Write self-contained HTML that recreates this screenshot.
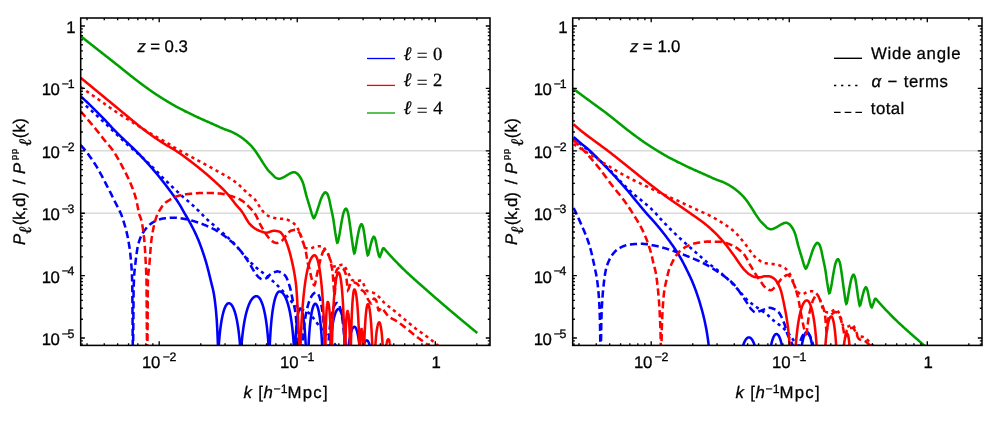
<!DOCTYPE html>
<html><head><meta charset="utf-8"><title>Multipole ratios</title>
<style>
html,body{margin:0;padding:0;background:#fff;}
svg{display:block;will-change:transform;filter:blur(0.35px);}
text{font-family:"Liberation Sans",sans-serif;fill:#000;text-rendering:geometricPrecision;stroke:#000;stroke-width:0.28px;}
.ser,.ser tspan{font-family:"Liberation Serif",serif;}
tspan.ser{font-family:"Liberation Serif",serif;}
</style></head>
<body>
<svg width="995" height="425" viewBox="0 0 995 425">
<defs><clipPath id="clip"><rect x="79.5" y="18.0" width="410.5" height="327.4"/></clipPath></defs>
<rect width="995" height="425" fill="#fff"/>
<g>
<path d="M80.7 150.80 H490.0" stroke="#dadada" stroke-width="1.4"/>
<path d="M80.7 213.20 H490.0" stroke="#dadada" stroke-width="1.4"/>
<g fill="none" stroke-width="2.55" clip-path="url(#clip)">
<path d="M80.60 36.10 L81.10 36.49 L81.60 36.89 L82.10 37.28 L82.60 37.68 L83.10 38.07 L83.60 38.47 L84.10 38.86 L84.60 39.25 L85.10 39.65 L85.60 40.04 L86.10 40.44 L86.60 40.83 L87.10 41.23 L87.60 41.62 L88.10 42.01 L88.60 42.41 L89.10 42.80 L89.60 43.20 L90.10 43.59 L90.61 43.98 L91.11 44.38 L91.61 44.77 L92.11 45.16 L92.61 45.56 L93.11 45.95 L93.61 46.34 L94.11 46.74 L94.61 47.13 L95.11 47.53 L95.61 47.92 L96.11 48.31 L96.61 48.71 L97.11 49.10 L97.61 49.49 L98.11 49.89 L98.61 50.28 L99.11 50.67 L99.61 51.06 L100.11 51.46 L100.61 51.85 L101.11 52.24 L101.61 52.63 L102.11 53.03 L102.61 53.42 L103.11 53.81 L103.61 54.20 L104.11 54.59 L104.61 54.98 L105.11 55.38 L105.61 55.77 L106.11 56.16 L106.61 56.55 L107.11 56.94 L107.61 57.34 L108.11 57.73 L108.61 58.12 L109.11 58.51 L109.61 58.90 L110.11 59.30 L110.62 59.69 L111.12 60.08 L111.62 60.48 L112.12 60.87 L112.62 61.26 L113.12 61.66 L113.62 62.05 L114.12 62.44 L114.62 62.84 L115.12 63.23 L115.62 63.63 L116.12 64.03 L116.62 64.42 L117.12 64.82 L117.62 65.22 L118.12 65.62 L118.62 66.02 L119.12 66.42 L119.62 66.82 L120.12 67.22 L120.62 67.62 L121.12 68.03 L121.62 68.43 L122.12 68.83 L122.62 69.23 L123.12 69.64 L123.62 70.04 L124.12 70.44 L124.62 70.84 L125.12 71.25 L125.62 71.65 L126.12 72.05 L126.62 72.45 L127.12 72.85 L127.62 73.25 L128.12 73.65 L128.62 74.05 L129.12 74.45 L129.62 74.85 L130.12 75.25 L130.63 75.64 L131.13 76.04 L131.63 76.43 L132.13 76.83 L132.63 77.22 L133.13 77.61 L133.63 78.00 L134.13 78.39 L134.63 78.78 L135.13 79.17 L135.63 79.55 L136.13 79.94 L136.63 80.32 L137.13 80.71 L137.63 81.09 L138.13 81.47 L138.63 81.85 L139.13 82.23 L139.63 82.61 L140.13 82.99 L140.63 83.37 L141.13 83.74 L141.63 84.12 L142.13 84.49 L142.63 84.86 L143.13 85.23 L143.63 85.60 L144.13 85.97 L144.63 86.33 L145.13 86.70 L145.63 87.06 L146.13 87.42 L146.63 87.78 L147.13 88.14 L147.63 88.50 L148.13 88.86 L148.63 89.22 L149.13 89.57 L149.63 89.93 L150.14 90.28 L150.64 90.64 L151.14 90.99 L151.64 91.33 L152.14 91.68 L152.64 92.03 L153.14 92.37 L153.64 92.71 L154.14 93.05 L154.64 93.39 L155.14 93.72 L155.64 94.06 L156.14 94.39 L156.64 94.72 L157.14 95.05 L157.64 95.37 L158.14 95.69 L158.64 96.02 L159.14 96.34 L159.64 96.66 L160.14 96.97 L160.64 97.29 L161.14 97.60 L161.64 97.92 L162.14 98.23 L162.64 98.54 L163.14 98.85 L163.64 99.16 L164.14 99.47 L164.64 99.77 L165.14 100.08 L165.64 100.39 L166.14 100.69 L166.64 101.00 L167.14 101.30 L167.64 101.61 L168.14 101.91 L168.64 102.21 L169.14 102.52 L169.64 102.82 L170.15 103.12 L170.65 103.42 L171.15 103.71 L171.65 104.01 L172.15 104.30 L172.65 104.59 L173.15 104.88 L173.65 105.16 L174.15 105.45 L174.65 105.73 L175.15 106.01 L175.65 106.28 L176.15 106.55 L176.65 106.82 L177.15 107.09 L177.65 107.36 L178.15 107.63 L178.65 107.90 L179.15 108.16 L179.65 108.42 L180.15 108.68 L180.65 108.95 L181.15 109.20 L181.65 109.46 L182.15 109.72 L182.65 109.97 L183.15 110.23 L183.65 110.48 L184.15 110.74 L184.65 110.99 L185.15 111.24 L185.65 111.49 L186.15 111.74 L186.65 111.98 L187.15 112.23 L187.65 112.48 L188.15 112.72 L188.65 112.97 L189.15 113.21 L189.65 113.45 L190.16 113.70 L190.66 113.94 L191.16 114.18 L191.66 114.42 L192.16 114.66 L192.66 114.90 L193.16 115.14 L193.66 115.38 L194.16 115.62 L194.66 115.85 L195.16 116.09 L195.66 116.33 L196.16 116.56 L196.66 116.80 L197.16 117.03 L197.66 117.26 L198.16 117.50 L198.66 117.73 L199.16 117.96 L199.66 118.19 L200.16 118.41 L200.66 118.64 L201.16 118.87 L201.66 119.09 L202.16 119.32 L202.66 119.54 L203.16 119.76 L203.66 119.99 L204.16 120.21 L204.66 120.43 L205.16 120.65 L205.66 120.87 L206.16 121.09 L206.66 121.31 L207.16 121.53 L207.66 121.75 L208.16 121.97 L208.66 122.19 L209.16 122.41 L209.67 122.63 L210.17 122.85 L210.67 123.07 L211.17 123.29 L211.67 123.51 L212.17 123.73 L212.67 123.95 L213.17 124.18 L213.67 124.40 L214.17 124.62 L214.67 124.84 L215.17 125.06 L215.67 125.29 L216.17 125.51 L216.67 125.74 L217.17 125.96 L217.67 126.19 L218.17 126.42 L218.67 126.65 L219.17 126.88 L219.67 127.11 L220.17 127.34 L220.67 127.56 L221.17 127.79 L221.67 128.01 L222.17 128.23 L222.67 128.44 L223.17 128.66 L223.67 128.87 L224.17 129.07 L224.67 129.27 L225.17 129.46 L225.67 129.64 L226.17 129.82 L226.67 129.99 L227.17 130.17 L227.67 130.34 L228.17 130.52 L228.67 130.69 L229.17 130.87 L229.68 131.05 L230.18 131.24 L230.68 131.44 L231.18 131.64 L231.68 131.86 L232.18 132.08 L232.68 132.31 L233.18 132.55 L233.68 132.80 L234.18 133.05 L234.68 133.31 L235.18 133.58 L235.68 133.86 L236.18 134.14 L236.68 134.42 L237.18 134.72 L237.68 135.02 L238.18 135.32 L238.68 135.63 L239.18 135.95 L239.68 136.27 L240.18 136.60 L240.68 136.93 L241.18 137.27 L241.68 137.62 L242.18 137.97 L242.68 138.33 L243.18 138.70 L243.68 139.09 L244.18 139.48 L244.68 139.88 L245.18 140.29 L245.68 140.71 L246.18 141.14 L246.68 141.58 L247.18 142.03 L247.68 142.49 L248.18 142.95 L248.68 143.42 L249.18 143.90 L249.69 144.39 L250.19 144.88 L250.69 145.40 L251.19 145.93 L251.69 146.47 L252.19 147.04 L252.69 147.62 L253.19 148.22 L253.69 148.83 L254.19 149.47 L254.69 150.13 L255.19 150.82 L255.69 151.53 L256.19 152.26 L256.69 153.00 L257.19 153.75 L257.69 154.51 L258.19 155.27 L258.69 156.03 L259.19 156.79 L259.69 157.56 L260.19 158.35 L260.69 159.14 L261.19 159.95 L261.69 160.75 L262.19 161.55 L262.69 162.35 L263.19 163.13 L263.69 163.89 L264.19 164.64 L264.69 165.38 L265.19 166.13 L265.69 166.87 L266.19 167.60 L266.69 168.30 L267.19 168.98 L267.69 169.62 L268.19 170.23 L268.69 170.81 L269.20 171.37 L269.70 171.90 L270.20 172.42 L270.70 172.92 L271.20 173.42 L271.70 173.91 L272.20 174.39 L272.70 174.90 L273.20 175.43 L273.70 175.95 L274.20 176.45 L274.70 176.91 L275.20 177.31 L275.70 177.64 L276.20 177.89 L276.70 178.12 L277.20 178.34 L277.70 178.53 L278.20 178.68 L278.70 178.78 L279.20 178.80 L279.70 178.75 L280.20 178.64 L280.70 178.48 L281.20 178.29 L281.70 178.08 L282.20 177.85 L282.70 177.63 L283.20 177.41 L283.70 177.18 L284.20 176.91 L284.70 176.63 L285.20 176.33 L285.70 176.03 L286.20 175.73 L286.70 175.43 L287.20 175.14 L287.70 174.84 L288.20 174.53 L288.70 174.21 L289.21 173.90 L289.71 173.61 L290.21 173.34 L290.71 173.11 L291.21 172.93 L291.71 172.75 L292.21 172.57 L292.71 172.42 L293.21 172.30 L293.71 172.22 L294.21 172.20 L294.71 172.28 L295.21 172.46 L295.71 172.70 L296.21 172.99 L296.71 173.31 L297.21 173.64 L297.71 174.06 L298.21 174.56 L298.71 175.14 L299.21 175.79 L299.71 176.48 L300.21 177.22 L300.71 178.02 L301.21 178.92 L301.71 179.93 L302.21 181.04 L302.71 182.25 L303.21 183.60 L303.71 185.22 L304.21 187.09 L304.71 189.10 L305.21 191.16 L305.71 193.18 L306.21 195.05 L306.71 196.80 L307.21 198.51 L307.71 200.19 L308.21 201.85 L308.72 203.50 L309.22 205.14 L309.72 206.79 L310.22 208.45 L310.72 210.21 L311.22 211.99 L311.72 213.61 L312.22 214.97 L312.72 216.35 L313.22 217.51 L313.72 218.09 L314.22 217.84 L314.72 216.99 L315.22 215.81 L315.72 214.59 L316.22 213.37 L316.72 211.97 L317.22 210.44 L317.72 208.87 L318.22 207.34 L318.72 205.84 L319.22 204.28 L319.72 202.72 L320.22 201.20 L320.72 199.77 L321.22 198.49 L321.72 197.33 L322.22 196.23 L322.72 195.23 L323.22 194.38 L323.72 193.71 L324.22 193.07 L324.72 192.55 L325.22 192.31 L325.72 192.40 L326.22 192.73 L326.72 193.20 L327.22 193.80 L327.72 194.81 L328.22 196.17 L328.73 197.73 L329.23 199.48 L329.73 201.68 L330.23 204.15 L330.73 206.67 L331.23 209.06 L331.73 211.34 L332.23 213.64 L332.73 216.06 L333.23 218.69 L333.73 221.77 L334.23 225.33 L334.73 229.00 L335.23 232.40 L335.73 235.32 L336.23 238.41 L336.73 241.12 L337.23 242.68 L337.73 242.42 L338.23 240.74 L338.73 238.32 L339.23 235.86 L339.73 233.22 L340.23 230.16 L340.73 226.98 L341.23 224.01 L341.73 221.34 L342.23 218.62 L342.73 216.03 L343.23 213.80 L343.73 212.16 L344.23 211.01 L344.73 209.97 L345.23 209.15 L345.73 208.67 L346.23 208.68 L346.73 209.33 L347.23 210.44 L347.73 211.81 L348.23 213.77 L348.74 216.72 L349.24 220.04 L349.74 223.34 L350.24 226.99 L350.74 230.84 L351.24 234.68 L351.74 238.27 L352.24 241.57 L352.74 245.22 L353.24 248.78 L353.74 251.65 L354.24 253.19 L354.74 252.74 L355.24 250.44 L355.74 247.44 L356.24 244.74 L356.74 241.84 L357.24 238.83 L357.74 236.01 L358.24 233.50 L358.74 231.03 L359.24 228.82 L359.74 227.15 L360.24 225.93 L360.74 224.86 L361.24 224.20 L361.74 224.21 L362.24 225.00 L362.74 226.27 L363.24 227.86 L363.74 230.44 L364.24 233.58 L364.74 236.80 L365.24 240.53 L365.74 244.35 L366.24 247.68 L366.74 250.66 L367.24 253.51 L367.74 255.18 L368.25 254.82 L368.75 252.93 L369.25 250.62 L369.75 248.64 L370.25 246.57 L370.75 244.52 L371.25 242.68 L371.75 240.89 L372.25 239.31 L372.75 238.23 L373.25 237.36 L373.75 236.84 L374.25 237.02 L374.75 237.92 L375.25 239.13 L375.75 241.03 L376.25 243.56 L376.75 246.01 L377.25 248.59 L377.75 251.12 L378.25 253.18 L378.75 255.05 L379.25 256.52 L379.75 256.84 L380.25 255.96 L380.75 254.61 L381.25 253.38 L381.75 251.86 L382.25 250.28 L382.75 248.96 L383.25 248.24 L383.75 248.29 L384.25 248.66 L384.75 249.22 L385.25 249.88 L385.75 250.52 L386.25 251.07 L386.75 251.62 L387.25 252.18 L387.75 252.75 L388.26 253.33 L388.76 253.91 L389.26 254.47 L389.76 255.03 L390.26 255.58 L390.76 256.12 L391.26 256.66 L391.76 257.19 L392.26 257.73 L392.76 258.26 L393.26 258.79 L393.76 259.32 L394.26 259.85 L394.76 260.37 L395.26 260.90 L395.76 261.42 L396.26 261.94 L396.76 262.46 L397.26 262.97 L397.76 263.48 L398.26 263.99 L398.76 264.50 L399.26 265.01 L399.76 265.51 L400.26 266.01 L400.76 266.51 L401.26 267.01 L401.76 267.50 L402.26 267.99 L402.76 268.48 L403.26 268.97 L403.76 269.45 L404.26 269.94 L404.76 270.42 L405.26 270.89 L405.76 271.37 L406.26 271.84 L406.76 272.31 L407.26 272.78 L407.76 273.25 L408.27 273.71 L408.77 274.18 L409.27 274.64 L409.77 275.10 L410.27 275.56 L410.77 276.02 L411.27 276.47 L411.77 276.93 L412.27 277.38 L412.77 277.83 L413.27 278.28 L413.77 278.73 L414.27 279.18 L414.77 279.63 L415.27 280.07 L415.77 280.52 L416.27 280.96 L416.77 281.41 L417.27 281.85 L417.77 282.29 L418.27 282.73 L418.77 283.18 L419.27 283.62 L419.77 284.06 L420.27 284.50 L420.77 284.94 L421.27 285.38 L421.77 285.82 L422.27 286.25 L422.77 286.69 L423.27 287.13 L423.77 287.57 L424.27 288.01 L424.77 288.45 L425.27 288.89 L425.77 289.33 L426.27 289.77 L426.77 290.21 L427.27 290.65 L427.78 291.10 L428.28 291.54 L428.78 291.98 L429.28 292.42 L429.78 292.86 L430.28 293.29 L430.78 293.73 L431.28 294.17 L431.78 294.61 L432.28 295.05 L432.78 295.48 L433.28 295.92 L433.78 296.36 L434.28 296.79 L434.78 297.23 L435.28 297.66 L435.78 298.10 L436.28 298.53 L436.78 298.96 L437.28 299.40 L437.78 299.83 L438.28 300.26 L438.78 300.69 L439.28 301.12 L439.78 301.56 L440.28 301.99 L440.78 302.42 L441.28 302.85 L441.78 303.28 L442.28 303.71 L442.78 304.14 L443.28 304.56 L443.78 304.99 L444.28 305.42 L444.78 305.85 L445.28 306.28 L445.78 306.70 L446.28 307.13 L446.78 307.56 L447.28 307.98 L447.79 308.41 L448.29 308.83 L448.79 309.26 L449.29 309.69 L449.79 310.11 L450.29 310.53 L450.79 310.96 L451.29 311.38 L451.79 311.81 L452.29 312.23 L452.79 312.65 L453.29 313.07 L453.79 313.50 L454.29 313.92 L454.79 314.34 L455.29 314.76 L455.79 315.18 L456.29 315.60 L456.79 316.02 L457.29 316.44 L457.79 316.86 L458.29 317.28 L458.79 317.70 L459.29 318.12 L459.79 318.54 L460.29 318.96 L460.79 319.38 L461.29 319.80 L461.79 320.21 L462.29 320.63 L462.79 321.05 L463.29 321.46 L463.79 321.88 L464.29 322.30 L464.79 322.71 L465.29 323.13 L465.79 323.54 L466.29 323.96 L466.79 324.37 L467.29 324.79 L467.80 325.20 L468.30 325.61 L468.80 326.03 L469.30 326.44 L469.80 326.85 L470.30 327.26 L470.80 327.68 L471.30 328.09 L471.80 328.50 L472.30 328.91 L472.80 329.32 L473.30 329.73 L473.80 330.14 L474.30 330.55 L474.80 330.96 L475.30 331.37 L475.80 331.78 L476.30 332.18 L476.80 332.59 L477.30 333.00" stroke="#00a000"/>
<path d="M80.60 145.10 L81.10 145.63 L81.60 146.17 L82.11 146.72 L82.61 147.28 L83.11 147.85 L83.61 148.43 L84.11 149.03 L84.62 149.63 L85.12 150.24 L85.62 150.87 L86.12 151.50 L86.62 152.14 L87.12 152.79 L87.63 153.45 L88.13 154.12 L88.63 154.80 L89.13 155.48 L89.63 156.18 L90.14 156.88 L90.64 157.59 L91.14 158.30 L91.64 159.03 L92.14 159.76 L92.65 160.50 L93.15 161.24 L93.65 161.99 L94.15 162.75 L94.65 163.52 L95.16 164.29 L95.66 165.07 L96.16 165.87 L96.66 166.70 L97.16 167.54 L97.67 168.39 L98.17 169.26 L98.67 170.15 L99.17 171.04 L99.67 171.95 L100.18 172.87 L100.68 173.80 L101.18 174.74 L101.68 175.69 L102.18 176.64 L102.68 177.60 L103.19 178.57 L103.69 179.53 L104.19 180.50 L104.69 181.47 L105.19 182.44 L105.70 183.41 L106.20 184.38 L106.70 185.34 L107.20 186.30 L107.70 187.27 L108.21 188.24 L108.71 189.21 L109.21 190.20 L109.71 191.19 L110.21 192.18 L110.72 193.18 L111.22 194.18 L111.72 195.19 L112.22 196.20 L112.72 197.21 L113.23 198.22 L113.73 199.23 L114.23 200.24 L114.73 201.26 L115.23 202.27 L115.73 203.26 L116.24 204.23 L116.74 205.19 L117.24 206.14 L117.74 207.10 L118.24 208.06 L118.75 209.05 L119.25 210.06 L119.75 211.11 L120.25 212.20 L120.75 213.34 L121.26 214.54 L121.76 215.83 L122.26 217.22 L122.76 218.72 L123.26 220.31 L123.77 221.93 L124.27 223.57 L124.77 225.25 L125.27 226.99 L125.77 228.82 L126.28 230.77 L126.78 232.84 L127.28 235.07 L127.78 237.49 L128.28 240.11 L128.78 242.93 L129.29 246.03 L129.79 249.57 L130.29 253.68 L130.79 258.52 L131.29 264.23 L131.80 271.06 L132.30 284.33 L132.80 352.00 M133.10 352.00 L133.60 289.17 L134.10 276.11 L134.60 270.01 L135.10 265.94 L135.61 261.59 L136.11 257.41 L136.61 253.60 L137.11 250.21 L137.61 247.30 L138.11 244.93 L138.61 243.08 L139.11 241.41 L139.62 239.89 L140.12 238.51 L140.62 237.25 L141.12 236.11 L141.62 235.07 L142.12 234.12 L142.62 233.26 L143.12 232.46 L143.63 231.72 L144.13 231.01 L144.63 230.32 L145.13 229.65 L145.63 229.01 L146.13 228.39 L146.63 227.80 L147.13 227.23 L147.64 226.69 L148.14 226.16 L148.64 225.67 L149.14 225.19 L149.64 224.74 L150.14 224.31 L150.64 223.91 L151.14 223.53 L151.64 223.17 L152.15 222.84 L152.65 222.52 L153.15 222.24 L153.65 221.97 L154.15 221.71 L154.65 221.46 L155.15 221.21 L155.65 220.97 L156.16 220.74 L156.66 220.51 L157.16 220.30 L157.66 220.09 L158.16 219.89 L158.66 219.70 L159.16 219.53 L159.66 219.36 L160.17 219.20 L160.67 219.06 L161.17 218.93 L161.67 218.81 L162.17 218.70 L162.67 218.61 L163.17 218.53 L163.67 218.46 L164.18 218.40 L164.68 218.34 L165.18 218.28 L165.68 218.22 L166.18 218.16 L166.68 218.11 L167.18 218.06 L167.68 218.01 L168.19 217.96 L168.69 217.92 L169.19 217.88 L169.69 217.84 L170.19 217.81 L170.69 217.78 L171.19 217.75 L171.69 217.73 L172.19 217.72 L172.70 217.71 L173.20 217.70 L173.70 217.70 L174.20 217.71 L174.70 217.72 L175.20 217.74 L175.70 217.77 L176.20 217.80 L176.71 217.84 L177.21 217.89 L177.71 217.93 L178.21 217.99 L178.71 218.05 L179.21 218.11 L179.71 218.18 L180.21 218.24 L180.72 218.32 L181.22 218.39 L181.72 218.47 L182.22 218.55 L182.72 218.63 L183.22 218.71 L183.72 218.79 L184.22 218.87 L184.73 218.96 L185.23 219.04 L185.73 219.12 L186.23 219.21 L186.73 219.30 L187.23 219.40 L187.73 219.50 L188.23 219.62 L188.73 219.73 L189.24 219.85 L189.74 219.98 L190.24 220.11 L190.74 220.25 L191.24 220.38 L191.74 220.53 L192.24 220.67 L192.74 220.83 L193.25 220.98 L193.75 221.14 L194.25 221.29 L194.75 221.46 L195.25 221.62 L195.75 221.79 L196.25 221.95 L196.75 222.12 L197.26 222.29 L197.76 222.47 L198.26 222.64 L198.76 222.81 L199.26 222.98 L199.76 223.16 L200.26 223.33 L200.76 223.51 L201.27 223.69 L201.77 223.87 L202.27 224.06 L202.77 224.25 L203.27 224.44 L203.77 224.64 L204.27 224.83 L204.77 225.03 L205.28 225.24 L205.78 225.44 L206.28 225.65 L206.78 225.87 L207.28 226.08 L207.78 226.30 L208.28 226.52 L208.78 226.75 L209.28 226.98 L209.79 227.21 L210.29 227.45 L210.79 227.68 L211.29 227.93 L211.79 228.17 L212.29 228.42 L212.79 228.67 L213.29 228.93 L213.80 229.18 L214.30 229.45 L214.80 229.71 L215.30 229.98 L215.80 230.26 L216.30 230.53 L216.80 230.82 L217.30 231.11 L217.81 231.41 L218.31 231.72 L218.81 232.03 L219.31 232.35 L219.81 232.67 L220.31 233.00 L220.81 233.34 L221.31 233.68 L221.82 234.03 L222.32 234.38 L222.82 234.74 L223.32 235.10 L223.82 235.47 L224.32 235.84 L224.82 236.22 L225.32 236.60 L225.82 236.99 L226.33 237.38 L226.83 237.78 L227.33 238.17 L227.83 238.58 L228.33 238.99 L228.83 239.40 L229.33 239.81 L229.83 240.23 L230.34 240.65 L230.84 241.08 L231.34 241.51 L231.84 241.96 L232.34 242.40 L232.84 242.86 L233.34 243.32 L233.84 243.79 L234.35 244.26 L234.85 244.74 L235.35 245.23 L235.85 245.73 L236.35 246.24 L236.85 246.75 L237.35 247.27 L237.85 247.80 L238.36 248.34 L238.86 248.89 L239.36 249.45 L239.86 250.02 L240.36 250.59 L240.86 251.18 L241.36 251.77 L241.86 252.38 L242.37 253.00 L242.87 253.66 L243.37 254.33 L243.87 255.03 L244.37 255.75 L244.87 256.49 L245.37 257.23 L245.87 258.00 L246.37 258.77 L246.88 259.55 L247.38 260.34 L247.88 261.13 L248.38 261.92 L248.88 262.71 L249.38 263.49 L249.88 264.27 L250.38 265.07 L250.89 265.89 L251.39 266.73 L251.89 267.59 L252.39 268.46 L252.89 269.32 L253.39 270.17 L253.89 271.00 L254.39 271.81 L254.90 272.58 L255.40 273.32 L255.90 274.00 L256.40 274.65 L256.90 275.30 L257.40 275.92 L257.90 276.50 L258.40 277.01 L258.91 277.43 L259.41 277.79 L259.91 278.15 L260.41 278.50 L260.91 278.80 L261.41 279.05 L261.91 279.22 L262.41 279.30 L262.91 279.28 L263.42 279.21 L263.92 279.09 L264.42 278.93 L264.92 278.75 L265.42 278.55 L265.92 278.33 L266.42 278.07 L266.92 277.69 L267.43 277.23 L267.93 276.72 L268.43 276.18 L268.93 275.64 L269.43 275.15 L269.93 274.72 L270.43 274.37 L270.93 274.04 L271.44 273.71 L271.94 273.41 L272.44 273.12 L272.94 272.86 L273.44 272.63 L273.94 272.42 L274.44 272.23 L274.94 272.04 L275.45 271.85 L275.95 271.69 L276.45 271.55 L276.95 271.45 L277.45 271.40 L277.95 271.42 L278.45 271.50 L278.95 271.64 L279.46 271.82 L279.96 272.03 L280.46 272.26 L280.96 272.48 L281.46 272.71 L281.96 272.98 L282.46 273.27 L282.96 273.60 L283.46 273.97 L283.97 274.38 L284.47 274.84 L284.97 275.36 L285.47 275.96 L285.97 276.74 L286.47 277.67 L286.97 278.76 L287.47 279.97 L287.98 281.29 L288.48 282.71 L288.98 284.21 L289.48 285.77 L289.98 287.41 L290.48 289.36 L290.98 291.61 L291.48 294.04 L291.99 296.54 L292.49 298.99 L292.99 301.27 L293.49 303.27 L293.99 305.22 L294.49 307.36 L294.99 309.92 L295.49 313.16 L296.00 317.87 L296.50 324.49 L297.00 332.63 L297.50 341.93 L298.00 352.00 M302.00 351.40 L302.24 347.34 L302.48 343.72 L302.72 340.45 L302.96 337.48 L303.20 334.76 L303.44 332.25 L303.68 329.92 L303.93 327.76 L304.17 325.74 L304.41 323.85 L304.65 322.07 L304.89 320.40 L305.13 318.82 L305.37 317.33 L305.61 315.92 L305.85 314.58 L306.09 313.31 L306.33 312.10 L306.57 310.95 L306.81 309.85 L307.05 308.81 L307.29 307.81 L307.54 306.87 L307.78 305.96 L308.02 305.10 L308.26 304.27 L308.50 303.49 L308.74 302.74 L308.98 302.02 L309.22 301.34 L309.46 300.69 L309.70 300.07 L309.94 299.48 L310.18 298.92 L310.42 298.39 L310.66 297.88 L310.91 297.40 L311.15 296.94 L311.39 296.51 L311.63 296.11 L311.87 295.73 L312.11 295.37 L312.35 295.03 L312.59 294.72 L312.83 294.43 L313.07 294.16 L313.31 293.91 L313.55 293.68 L313.79 293.48 L314.03 293.29 L314.27 293.12 L314.52 292.98 L314.76 292.85 L315.00 292.74 L315.24 292.65 L315.48 292.59 L315.72 292.54 L315.96 292.51 L316.20 292.50 L316.35 292.51 L316.51 292.54 L316.66 292.59 L316.81 292.65 L316.96 292.74 L317.12 292.85 L317.27 292.98 L317.42 293.12 L317.57 293.29 L317.73 293.48 L317.88 293.68 L318.03 293.91 L318.18 294.16 L318.34 294.43 L318.49 294.72 L318.64 295.03 L318.79 295.37 L318.95 295.73 L319.10 296.11 L319.25 296.51 L319.40 296.94 L319.56 297.40 L319.71 297.88 L319.86 298.39 L320.01 298.92 L320.17 299.48 L320.32 300.07 L320.47 300.69 L320.62 301.34 L320.78 302.02 L320.93 302.74 L321.08 303.49 L321.23 304.27 L321.39 305.10 L321.54 305.96 L321.69 306.87 L321.84 307.81 L322.00 308.81 L322.15 309.85 L322.30 310.95 L322.45 312.10 L322.61 313.31 L322.76 314.58 L322.91 315.92 L323.06 317.33 L323.22 318.82 L323.37 320.40 L323.52 322.07 L323.67 323.85 L323.83 325.74 L323.98 327.76 L324.13 329.92 L324.28 332.25 L324.44 334.76 L324.59 337.48 L324.74 340.45 L324.89 343.72 L325.05 347.34 L325.20 351.40 M328.00 351.40 L328.15 348.53 L328.31 345.89 L328.46 343.45 L328.61 341.19 L328.76 339.08 L328.92 337.10 L329.07 335.25 L329.22 333.50 L329.37 331.86 L329.53 330.30 L329.68 328.83 L329.83 327.43 L329.98 326.11 L330.14 324.85 L330.29 323.65 L330.44 322.50 L330.59 321.41 L330.75 320.37 L330.90 319.37 L331.05 318.42 L331.20 317.51 L331.36 316.65 L331.51 315.82 L331.66 315.02 L331.81 314.26 L331.97 313.53 L332.12 312.84 L332.27 312.18 L332.42 311.54 L332.58 310.94 L332.73 310.36 L332.88 309.80 L333.03 309.28 L333.19 308.78 L333.34 308.30 L333.49 307.85 L333.64 307.42 L333.80 307.01 L333.95 306.62 L334.10 306.26 L334.25 305.91 L334.41 305.59 L334.56 305.29 L334.71 305.01 L334.86 304.74 L335.02 304.50 L335.17 304.28 L335.32 304.07 L335.47 303.88 L335.63 303.71 L335.78 303.56 L335.93 303.43 L336.08 303.32 L336.24 303.22 L336.39 303.14 L336.54 303.08 L336.69 303.04 L336.85 303.01 L337.00 303.00 L337.14 303.01 L337.27 303.04 L337.41 303.08 L337.54 303.14 L337.68 303.22 L337.81 303.32 L337.95 303.43 L338.08 303.56 L338.22 303.71 L338.36 303.88 L338.49 304.07 L338.63 304.28 L338.76 304.50 L338.90 304.74 L339.03 305.01 L339.17 305.29 L339.31 305.59 L339.44 305.91 L339.58 306.26 L339.71 306.62 L339.85 307.01 L339.98 307.42 L340.12 307.85 L340.25 308.30 L340.39 308.78 L340.53 309.28 L340.66 309.80 L340.80 310.36 L340.93 310.94 L341.07 311.54 L341.20 312.18 L341.34 312.84 L341.47 313.53 L341.61 314.26 L341.75 315.02 L341.88 315.82 L342.02 316.65 L342.15 317.51 L342.29 318.42 L342.42 319.37 L342.56 320.37 L342.69 321.41 L342.83 322.50 L342.97 323.65 L343.10 324.85 L343.24 326.11 L343.37 327.43 L343.51 328.83 L343.64 330.30 L343.78 331.86 L343.92 333.50 L344.05 335.25 L344.19 337.10 L344.32 339.08 L344.46 341.19 L344.59 343.45 L344.73 345.89 L344.86 348.53 L345.00 351.40" stroke="#0000ff" stroke-dasharray="7.2 3.7"/>
<path d="M80.60 101.20 L81.10 101.63 L81.60 102.05 L82.10 102.48 L82.60 102.91 L83.10 103.34 L83.60 103.78 L84.11 104.21 L84.61 104.64 L85.11 105.08 L85.61 105.52 L86.11 105.95 L86.61 106.39 L87.11 106.83 L87.61 107.27 L88.11 107.71 L88.61 108.16 L89.11 108.60 L89.61 109.05 L90.11 109.49 L90.62 109.94 L91.12 110.39 L91.62 110.84 L92.12 111.29 L92.62 111.74 L93.12 112.19 L93.62 112.64 L94.12 113.09 L94.62 113.55 L95.12 114.00 L95.62 114.46 L96.12 114.91 L96.62 115.37 L97.13 115.83 L97.63 116.29 L98.13 116.75 L98.63 117.21 L99.13 117.67 L99.63 118.13 L100.13 118.59 L100.63 119.05 L101.13 119.51 L101.63 119.98 L102.13 120.44 L102.63 120.91 L103.14 121.37 L103.64 121.84 L104.14 122.31 L104.64 122.77 L105.14 123.24 L105.64 123.71 L106.14 124.18 L106.64 124.66 L107.14 125.14 L107.64 125.62 L108.14 126.10 L108.64 126.59 L109.14 127.07 L109.65 127.56 L110.15 128.04 L110.65 128.53 L111.15 129.02 L111.65 129.50 L112.15 129.99 L112.65 130.47 L113.15 130.95 L113.65 131.43 L114.15 131.91 L114.65 132.40 L115.15 132.88 L115.65 133.36 L116.16 133.85 L116.66 134.33 L117.16 134.82 L117.66 135.30 L118.16 135.79 L118.66 136.27 L119.16 136.75 L119.66 137.24 L120.16 137.72 L120.66 138.20 L121.16 138.68 L121.66 139.16 L122.16 139.63 L122.67 140.11 L123.17 140.58 L123.67 141.06 L124.17 141.53 L124.67 141.99 L125.17 142.46 L125.67 142.92 L126.17 143.38 L126.67 143.84 L127.17 144.29 L127.67 144.74 L128.17 145.19 L128.67 145.64 L129.18 146.08 L129.68 146.52 L130.18 146.95 L130.68 147.39 L131.18 147.82 L131.68 148.25 L132.18 148.68 L132.68 149.11 L133.18 149.54 L133.68 149.97 L134.18 150.39 L134.68 150.82 L135.18 151.24 L135.69 151.67 L136.19 152.09 L136.69 152.52 L137.19 152.95 L137.69 153.37 L138.19 153.80 L138.69 154.23 L139.19 154.66 L139.69 155.09 L140.19 155.53 L140.69 155.97 L141.19 156.40 L141.69 156.84 L142.20 157.29 L142.70 157.73 L143.20 158.18 L143.70 158.64 L144.20 159.09 L144.70 159.55 L145.20 160.01 L145.70 160.48 L146.20 160.95 L146.70 161.43 L147.20 161.91 L147.70 162.39 L148.21 162.87 L148.71 163.36 L149.21 163.85 L149.71 164.35 L150.21 164.85 L150.71 165.34 L151.21 165.85 L151.71 166.35 L152.21 166.85 L152.71 167.36 L153.21 167.87 L153.71 168.38 L154.21 168.89 L154.72 169.40 L155.22 169.91 L155.72 170.43 L156.22 170.94 L156.72 171.45 L157.22 171.97 L157.72 172.48 L158.22 172.99 L158.72 173.51 L159.22 174.02 L159.72 174.53 L160.22 175.04 L160.72 175.55 L161.23 176.05 L161.73 176.56 L162.23 177.06 L162.73 177.57 L163.23 178.06 L163.73 178.56 L164.23 179.06 L164.73 179.55 L165.23 180.04 L165.73 180.53 L166.23 181.01 L166.73 181.50 L167.23 181.98 L167.74 182.47 L168.24 182.96 L168.74 183.44 L169.24 183.93 L169.74 184.41 L170.24 184.90 L170.74 185.38 L171.24 185.86 L171.74 186.34 L172.24 186.83 L172.74 187.31 L173.24 187.79 L173.74 188.27 L174.25 188.74 L174.75 189.22 L175.25 189.69 L175.75 190.17 L176.25 190.64 L176.75 191.11 L177.25 191.58 L177.75 192.05 L178.25 192.52 L178.75 192.98 L179.25 193.45 L179.75 193.91 L180.25 194.37 L180.76 194.83 L181.26 195.28 L181.76 195.74 L182.26 196.19 L182.76 196.64 L183.26 197.09 L183.76 197.53 L184.26 197.97 L184.76 198.40 L185.26 198.82 L185.76 199.24 L186.26 199.66 L186.76 200.08 L187.27 200.50 L187.77 200.92 L188.27 201.34 L188.77 201.77 L189.27 202.21 L189.77 202.65 L190.27 203.10 L190.77 203.55 L191.27 204.00 L191.77 204.45 L192.27 204.90 L192.77 205.36 L193.28 205.82 L193.78 206.28 L194.28 206.74 L194.78 207.21 L195.28 207.68 L195.78 208.15 L196.28 208.62 L196.78 209.09 L197.28 209.57 L197.78 210.05 L198.28 210.53 L198.78 211.02 L199.28 211.51 L199.79 212.00 L200.29 212.49 L200.79 212.99 L201.29 213.50 L201.79 214.02 L202.29 214.55 L202.79 215.09 L203.29 215.62 L203.79 216.16 L204.29 216.68 L204.79 217.20 L205.29 217.70 L205.79 218.19 L206.30 218.66 L206.80 219.13 L207.30 219.59 L207.80 220.05 L208.30 220.50 L208.80 220.94 L209.30 221.38 L209.80 221.81 L210.30 222.24 L210.80 222.67 L211.30 223.09 L211.80 223.51 L212.30 223.93 L212.81 224.35 L213.31 224.77 L213.81 225.19 L214.31 225.60 L214.81 226.02 L215.31 226.44 L215.81 226.85 L216.31 227.27 L216.81 227.70 L217.31 228.12 L217.81 228.55 L218.31 228.98 L218.81 229.42 L219.32 229.86 L219.82 230.30 L220.32 230.75 L220.82 231.19 L221.32 231.64 L221.82 232.08 L222.32 232.52 L222.82 232.96 L223.32 233.40 L223.82 233.85 L224.32 234.29 L224.82 234.73 L225.32 235.18 L225.83 235.62 L226.33 236.07 L226.83 236.52 L227.33 236.98 L227.83 237.43 L228.33 237.89 L228.83 238.35 L229.33 238.82 L229.83 239.29 L230.33 239.77 L230.83 240.25 L231.33 240.73 L231.84 241.22 L232.34 241.72 L232.84 242.22 L233.34 242.73 L233.84 243.24 L234.34 243.76 L234.84 244.30 L235.34 244.85 L235.84 245.42 L236.34 245.99 L236.84 246.57 L237.34 247.16 L237.84 247.75 L238.35 248.35 L238.85 248.96 L239.35 249.57 L239.85 250.18 L240.35 250.79 L240.85 251.40 L241.35 252.01 L241.85 252.62 L242.35 253.22 L242.85 253.82 L243.35 254.41 L243.85 255.00 L244.35 255.58 L244.86 256.15 L245.36 256.71 L245.86 257.25 L246.36 257.79 L246.86 258.33 L247.36 258.87 L247.86 259.40 L248.36 259.93 L248.86 260.46 L249.36 260.99 L249.86 261.51 L250.36 262.02 L250.86 262.53 L251.37 263.04 L251.87 263.54 L252.37 264.03 L252.87 264.52 L253.37 265.00 L253.87 265.47 L254.37 265.93 L254.87 266.38 L255.37 266.83 L255.87 267.26 L256.37 267.68 L256.87 268.09 L257.37 268.50 L257.88 268.90 L258.38 269.29 L258.88 269.69 L259.38 270.08 L259.88 270.48 L260.38 270.88 L260.88 271.27 L261.38 271.66 L261.88 272.05 L262.38 272.43 L262.88 272.82 L263.38 273.20 L263.88 273.59 L264.39 273.97 L264.89 274.37 L265.39 274.76 L265.89 275.16 L266.39 275.57 L266.89 275.99 L267.39 276.40 L267.89 276.82 L268.39 277.24 L268.89 277.66 L269.39 278.08 L269.89 278.51 L270.39 278.95 L270.90 279.38 L271.40 279.82 L271.90 280.27 L272.40 280.72 L272.90 281.17 L273.40 281.63 L273.90 282.09 L274.40 282.56 L274.90 283.04 L275.40 283.51 L275.90 283.99 L276.40 284.48 L276.91 284.97 L277.41 285.46 L277.91 285.96 L278.41 286.47 L278.91 286.97 L279.41 287.48 L279.91 288.00 L280.41 288.52 L280.91 289.05 L281.41 289.57 L281.91 290.11 L282.41 290.65 L282.91 291.19 L283.42 291.74 L283.92 292.31 L284.42 292.89 L284.92 293.50 L285.42 294.12 L285.92 294.75 L286.42 295.39 L286.92 296.03 L287.42 296.68 L287.92 297.32 L288.42 297.96 L288.92 298.59 L289.42 299.21 L289.93 299.82 L290.43 300.41 L290.93 300.98 L291.43 301.53 L291.93 302.05 L292.43 302.55 L292.93 303.01 L293.43 303.46 L293.93 303.89 L294.43 304.32 L294.93 304.73 L295.43 305.13 L295.93 305.52 L296.44 305.90 L296.94 306.28 L297.44 306.64 L297.94 306.99 L298.44 307.34 L298.94 307.68 L299.44 308.01 L299.94 308.33 L300.44 308.65 L300.94 308.95 L301.44 309.23 L301.94 309.49 L302.44 309.74 L302.95 309.98 L303.45 310.22 L303.95 310.45 L304.45 310.67 L304.95 310.90 L305.45 311.14 L305.95 311.38 L306.45 311.63 L306.95 311.89 L307.45 312.17 L307.95 312.46 L308.45 312.78 L308.95 313.12 L309.46 313.49 L309.96 313.90 L310.46 314.37 L310.96 314.91 L311.46 315.50 L311.96 316.13 L312.46 316.79 L312.96 317.48 L313.46 318.18 L313.96 318.88 L314.46 319.58 L314.96 320.26 L315.46 320.92 L315.97 321.58 L316.47 322.26 L316.97 322.96 L317.47 323.66 L317.97 324.36 L318.47 325.06 L318.97 325.76 L319.47 326.44 L319.97 327.11 L320.47 327.76 L320.97 328.39 L321.47 329.00 L321.98 329.60 L322.48 330.18 L322.98 330.76 L323.48 331.33 L323.98 331.88 L324.48 332.44 L324.98 332.98 L325.48 333.53 L325.98 334.07 L326.48 334.61 L326.98 335.15 L327.48 335.69 L327.98 336.24 L328.49 336.79 L328.99 337.35 L329.49 337.91 L329.99 338.49 L330.49 339.06 L330.99 339.65 L331.49 340.23 L331.99 340.81 L332.49 341.40 L332.99 341.99 L333.49 342.58 L333.99 343.18 L334.49 343.77 L335.00 344.37 L335.50 344.97 L336.00 345.57 L336.50 346.18 L337.00 346.78 L337.50 347.39 L338.00 348.00" stroke="#0000ff" stroke-dasharray="3.2 3.7"/>
<path d="M80.60 96.20 L81.10 96.66 L81.60 97.11 L82.10 97.57 L82.60 98.03 L83.10 98.49 L83.60 98.96 L84.10 99.42 L84.60 99.89 L85.10 100.36 L85.60 100.83 L86.10 101.30 L86.60 101.78 L87.10 102.25 L87.61 102.73 L88.11 103.21 L88.61 103.69 L89.11 104.17 L89.61 104.65 L90.11 105.13 L90.61 105.62 L91.11 106.11 L91.61 106.59 L92.11 107.08 L92.61 107.58 L93.11 108.07 L93.61 108.56 L94.11 109.06 L94.61 109.55 L95.11 110.05 L95.61 110.55 L96.11 111.05 L96.61 111.55 L97.11 112.05 L97.61 112.55 L98.11 113.06 L98.61 113.56 L99.11 114.07 L99.61 114.58 L100.11 115.08 L100.61 115.59 L101.11 116.10 L101.62 116.61 L102.12 117.13 L102.62 117.64 L103.12 118.15 L103.62 118.67 L104.12 119.18 L104.62 119.70 L105.12 120.22 L105.62 120.74 L106.12 121.26 L106.62 121.80 L107.12 122.33 L107.62 122.88 L108.12 123.42 L108.62 123.97 L109.12 124.52 L109.62 125.07 L110.12 125.63 L110.62 126.18 L111.12 126.72 L111.62 127.27 L112.12 127.81 L112.62 128.35 L113.12 128.88 L113.62 129.40 L114.12 129.92 L114.62 130.43 L115.13 130.94 L115.63 131.45 L116.13 131.95 L116.63 132.45 L117.13 132.94 L117.63 133.44 L118.13 133.93 L118.63 134.42 L119.13 134.90 L119.63 135.39 L120.13 135.87 L120.63 136.35 L121.13 136.83 L121.63 137.31 L122.13 137.79 L122.63 138.27 L123.13 138.74 L123.63 139.22 L124.13 139.69 L124.63 140.17 L125.13 140.64 L125.63 141.11 L126.13 141.59 L126.63 142.06 L127.13 142.54 L127.63 143.01 L128.13 143.49 L128.63 143.96 L129.14 144.44 L129.64 144.92 L130.14 145.39 L130.64 145.86 L131.14 146.33 L131.64 146.80 L132.14 147.26 L132.64 147.73 L133.14 148.20 L133.64 148.68 L134.14 149.16 L134.64 149.65 L135.14 150.14 L135.64 150.64 L136.14 151.15 L136.64 151.65 L137.14 152.16 L137.64 152.67 L138.14 153.18 L138.64 153.70 L139.14 154.21 L139.64 154.73 L140.14 155.25 L140.64 155.78 L141.14 156.30 L141.64 156.83 L142.14 157.36 L142.65 157.89 L143.15 158.42 L143.65 158.96 L144.15 159.50 L144.65 160.04 L145.15 160.58 L145.65 161.13 L146.15 161.67 L146.65 162.22 L147.15 162.78 L147.65 163.33 L148.15 163.89 L148.65 164.44 L149.15 165.00 L149.65 165.57 L150.15 166.13 L150.65 166.70 L151.15 167.27 L151.65 167.84 L152.15 168.42 L152.65 168.99 L153.15 169.57 L153.65 170.15 L154.15 170.74 L154.65 171.32 L155.15 171.91 L155.65 172.50 L156.15 173.09 L156.66 173.69 L157.16 174.29 L157.66 174.90 L158.16 175.50 L158.66 176.11 L159.16 176.73 L159.66 177.35 L160.16 177.96 L160.66 178.59 L161.16 179.21 L161.66 179.84 L162.16 180.48 L162.66 181.11 L163.16 181.75 L163.66 182.39 L164.16 183.03 L164.66 183.68 L165.16 184.33 L165.66 184.98 L166.16 185.64 L166.66 186.30 L167.16 186.96 L167.66 187.62 L168.16 188.29 L168.66 188.96 L169.16 189.63 L169.66 190.30 L170.17 190.98 L170.67 191.66 L171.17 192.34 L171.67 193.03 L172.17 193.71 L172.67 194.40 L173.17 195.09 L173.67 195.79 L174.17 196.49 L174.67 197.19 L175.17 197.90 L175.67 198.62 L176.17 199.34 L176.67 200.07 L177.17 200.81 L177.67 201.56 L178.17 202.32 L178.67 203.09 L179.17 203.88 L179.67 204.68 L180.17 205.50 L180.67 206.35 L181.17 207.22 L181.67 208.11 L182.17 209.01 L182.67 209.91 L183.17 210.82 L183.67 211.72 L184.18 212.61 L184.68 213.50 L185.18 214.36 L185.68 215.20 L186.18 216.01 L186.68 216.83 L187.18 217.67 L187.68 218.54 L188.18 219.43 L188.68 220.33 L189.18 221.23 L189.68 222.13 L190.18 223.04 L190.68 223.97 L191.18 224.90 L191.68 225.84 L192.18 226.79 L192.68 227.76 L193.18 228.74 L193.68 229.73 L194.18 230.75 L194.68 231.78 L195.18 232.83 L195.68 233.90 L196.18 234.99 L196.68 236.10 L197.18 237.24 L197.69 238.40 L198.19 239.59 L198.69 240.81 L199.19 242.06 L199.69 243.33 L200.19 244.64 L200.69 245.98 L201.19 247.34 L201.69 248.74 L202.19 250.16 L202.69 251.62 L203.19 253.10 L203.69 254.62 L204.19 256.16 L204.69 257.73 L205.19 259.34 L205.69 260.97 L206.19 262.66 L206.69 264.42 L207.19 266.25 L207.69 268.13 L208.19 270.07 L208.69 272.05 L209.19 274.07 L209.69 276.11 L210.19 278.17 L210.69 280.24 L211.19 282.31 L211.70 284.38 L212.20 286.36 L212.70 288.30 L213.20 290.44 L213.70 292.98 L214.20 295.98 L214.70 299.39 L215.20 303.32 L215.70 307.88 L216.20 313.17 L216.70 319.29 L217.20 327.78 L217.70 339.16 L218.20 352.00 M218.40 351.40 L218.58 348.55 L218.75 345.93 L218.93 343.50 L219.11 341.25 L219.28 339.15 L219.46 337.19 L219.63 335.34 L219.81 333.61 L219.99 331.97 L220.16 330.42 L220.34 328.95 L220.52 327.56 L220.69 326.24 L220.87 324.98 L221.04 323.79 L221.22 322.65 L221.40 321.56 L221.57 320.52 L221.75 319.53 L221.93 318.58 L222.10 317.68 L222.28 316.81 L222.45 315.98 L222.63 315.19 L222.81 314.43 L222.98 313.71 L223.16 313.02 L223.34 312.35 L223.51 311.72 L223.69 311.12 L223.86 310.54 L224.04 309.99 L224.22 309.46 L224.39 308.96 L224.57 308.49 L224.75 308.03 L224.92 307.61 L225.10 307.20 L225.27 306.81 L225.45 306.45 L225.63 306.11 L225.80 305.79 L225.98 305.48 L226.16 305.20 L226.33 304.94 L226.51 304.70 L226.68 304.47 L226.86 304.27 L227.04 304.08 L227.21 303.91 L227.39 303.76 L227.57 303.63 L227.74 303.52 L227.92 303.42 L228.09 303.34 L228.27 303.28 L228.45 303.23 L228.62 303.21 L228.80 303.20 L229.00 303.21 L229.20 303.23 L229.39 303.28 L229.59 303.34 L229.79 303.42 L229.99 303.52 L230.19 303.63 L230.39 303.76 L230.58 303.91 L230.78 304.08 L230.98 304.27 L231.18 304.47 L231.38 304.70 L231.58 304.94 L231.77 305.20 L231.97 305.48 L232.17 305.79 L232.37 306.11 L232.57 306.45 L232.77 306.81 L232.96 307.20 L233.16 307.61 L233.36 308.03 L233.56 308.49 L233.76 308.96 L233.96 309.46 L234.15 309.99 L234.35 310.54 L234.55 311.12 L234.75 311.72 L234.95 312.35 L235.15 313.02 L235.34 313.71 L235.54 314.43 L235.74 315.19 L235.94 315.98 L236.14 316.81 L236.34 317.68 L236.53 318.58 L236.73 319.53 L236.93 320.52 L237.13 321.56 L237.33 322.65 L237.53 323.79 L237.72 324.98 L237.92 326.24 L238.12 327.56 L238.32 328.95 L238.52 330.42 L238.72 331.97 L238.91 333.61 L239.11 335.34 L239.31 337.19 L239.51 339.15 L239.71 341.25 L239.91 343.50 L240.10 345.93 L240.30 348.55 L240.50 351.40 M241.00 351.40 L241.26 347.79 L241.53 344.54 L241.79 341.58 L242.05 338.86 L242.31 336.36 L242.58 334.04 L242.84 331.88 L243.10 329.87 L243.36 327.98 L243.63 326.20 L243.89 324.53 L244.15 322.95 L244.42 321.46 L244.68 320.05 L244.94 318.71 L245.20 317.43 L245.47 316.22 L245.73 315.07 L245.99 313.97 L246.25 312.92 L246.52 311.92 L246.78 310.97 L247.04 310.06 L247.31 309.19 L247.57 308.36 L247.83 307.57 L248.09 306.81 L248.36 306.09 L248.62 305.40 L248.88 304.75 L249.14 304.12 L249.41 303.52 L249.67 302.95 L249.93 302.41 L250.19 301.90 L250.46 301.41 L250.72 300.94 L250.98 300.50 L251.25 300.09 L251.51 299.70 L251.77 299.33 L252.03 298.98 L252.30 298.65 L252.56 298.35 L252.82 298.07 L253.08 297.81 L253.35 297.57 L253.61 297.35 L253.87 297.15 L254.14 296.96 L254.40 296.80 L254.66 296.66 L254.92 296.54 L255.19 296.43 L255.45 296.35 L255.71 296.28 L255.97 296.24 L256.24 296.21 L256.50 296.20 L256.71 296.21 L256.92 296.24 L257.13 296.28 L257.34 296.35 L257.55 296.43 L257.76 296.54 L257.97 296.66 L258.18 296.80 L258.39 296.96 L258.60 297.15 L258.81 297.35 L259.02 297.57 L259.23 297.81 L259.44 298.07 L259.65 298.35 L259.86 298.65 L260.07 298.98 L260.28 299.33 L260.49 299.70 L260.70 300.09 L260.91 300.50 L261.12 300.94 L261.33 301.41 L261.54 301.90 L261.75 302.41 L261.96 302.95 L262.17 303.52 L262.38 304.12 L262.59 304.75 L262.81 305.40 L263.02 306.09 L263.23 306.81 L263.44 307.57 L263.65 308.36 L263.86 309.19 L264.07 310.06 L264.28 310.97 L264.49 311.92 L264.70 312.92 L264.91 313.97 L265.12 315.07 L265.33 316.22 L265.54 317.43 L265.75 318.71 L265.96 320.05 L266.17 321.46 L266.38 322.95 L266.59 324.53 L266.80 326.20 L267.01 327.98 L267.22 329.87 L267.43 331.88 L267.64 334.04 L267.85 336.36 L268.06 338.86 L268.27 341.58 L268.48 344.54 L268.69 347.79 L268.90 351.40 M269.50 351.40 L269.67 347.21 L269.84 343.48 L270.01 340.13 L270.18 337.09 L270.35 334.31 L270.52 331.75 L270.69 329.38 L270.86 327.18 L271.03 325.12 L271.19 323.20 L271.36 321.40 L271.53 319.70 L271.70 318.10 L271.87 316.59 L272.04 315.15 L272.21 313.80 L272.38 312.51 L272.55 311.29 L272.72 310.12 L272.89 309.01 L273.06 307.96 L273.23 306.95 L273.40 305.99 L273.57 305.08 L273.74 304.21 L273.91 303.38 L274.08 302.58 L274.25 301.83 L274.42 301.10 L274.58 300.41 L274.75 299.76 L274.92 299.13 L275.09 298.54 L275.26 297.97 L275.43 297.43 L275.60 296.92 L275.77 296.44 L275.94 295.98 L276.11 295.55 L276.28 295.14 L276.45 294.75 L276.62 294.39 L276.79 294.05 L276.96 293.74 L277.13 293.44 L277.30 293.17 L277.47 292.92 L277.64 292.69 L277.81 292.48 L277.97 292.29 L278.14 292.13 L278.31 291.98 L278.48 291.85 L278.65 291.74 L278.82 291.66 L278.99 291.59 L279.16 291.54 L279.33 291.51 L279.50 291.50 L279.75 291.51 L280.00 291.54 L280.25 291.59 L280.50 291.66 L280.75 291.74 L280.99 291.85 L281.24 291.98 L281.49 292.13 L281.74 292.29 L281.99 292.48 L282.24 292.69 L282.49 292.92 L282.74 293.17 L282.99 293.44 L283.24 293.74 L283.49 294.05 L283.74 294.39 L283.98 294.75 L284.23 295.14 L284.48 295.55 L284.73 295.98 L284.98 296.44 L285.23 296.92 L285.48 297.43 L285.73 297.97 L285.98 298.54 L286.23 299.13 L286.48 299.76 L286.73 300.41 L286.97 301.10 L287.22 301.83 L287.47 302.58 L287.72 303.38 L287.97 304.21 L288.22 305.08 L288.47 305.99 L288.72 306.95 L288.97 307.96 L289.22 309.01 L289.47 310.12 L289.72 311.29 L289.96 312.51 L290.21 313.80 L290.46 315.15 L290.71 316.59 L290.96 318.10 L291.21 319.70 L291.46 321.40 L291.71 323.20 L291.96 325.12 L292.21 327.18 L292.46 329.38 L292.71 331.75 L292.95 334.31 L293.20 337.09 L293.45 340.13 L293.70 343.48 L293.95 347.21 L294.20 351.40 M295.00 351.40 L295.09 349.04 L295.18 346.84 L295.26 344.79 L295.35 342.87 L295.44 341.06 L295.53 339.36 L295.62 337.75 L295.71 336.22 L295.79 334.78 L295.88 333.40 L295.97 332.10 L296.06 330.86 L296.15 329.67 L296.23 328.54 L296.32 327.46 L296.41 326.43 L296.50 325.44 L296.59 324.50 L296.67 323.60 L296.76 322.73 L296.85 321.90 L296.94 321.11 L297.03 320.35 L297.12 319.63 L297.20 318.93 L297.29 318.26 L297.38 317.62 L297.47 317.01 L297.56 316.43 L297.64 315.87 L297.73 315.33 L297.82 314.82 L297.91 314.34 L298.00 313.87 L298.08 313.43 L298.17 313.01 L298.26 312.61 L298.35 312.23 L298.44 311.87 L298.53 311.53 L298.61 311.22 L298.70 310.91 L298.79 310.63 L298.88 310.37 L298.97 310.13 L299.05 309.90 L299.14 309.69 L299.23 309.50 L299.32 309.32 L299.41 309.17 L299.49 309.03 L299.58 308.90 L299.67 308.79 L299.76 308.70 L299.85 308.63 L299.94 308.57 L300.02 308.53 L300.11 308.51 L300.20 308.50 L300.30 308.51 L300.40 308.53 L300.49 308.57 L300.59 308.63 L300.69 308.70 L300.79 308.79 L300.89 308.90 L300.99 309.03 L301.08 309.17 L301.18 309.32 L301.28 309.50 L301.38 309.69 L301.48 309.90 L301.58 310.13 L301.67 310.37 L301.77 310.63 L301.87 310.91 L301.97 311.22 L302.07 311.53 L302.17 311.87 L302.26 312.23 L302.36 312.61 L302.46 313.01 L302.56 313.43 L302.66 313.87 L302.76 314.34 L302.85 314.82 L302.95 315.33 L303.05 315.87 L303.15 316.43 L303.25 317.01 L303.35 317.62 L303.44 318.26 L303.54 318.93 L303.64 319.63 L303.74 320.35 L303.84 321.11 L303.94 321.90 L304.03 322.73 L304.13 323.60 L304.23 324.50 L304.33 325.44 L304.43 326.43 L304.53 327.46 L304.62 328.54 L304.72 329.67 L304.82 330.86 L304.92 332.10 L305.02 333.40 L305.12 334.78 L305.21 336.22 L305.31 337.75 L305.41 339.36 L305.51 341.06 L305.61 342.87 L305.71 344.79 L305.80 346.84 L305.90 349.04 L306.00 351.40 M308.30 351.40 L308.42 348.61 L308.54 346.04 L308.66 343.66 L308.77 341.44 L308.89 339.38 L309.01 337.44 L309.13 335.62 L309.25 333.91 L309.37 332.30 L309.49 330.77 L309.61 329.32 L309.72 327.94 L309.84 326.64 L309.96 325.39 L310.08 324.21 L310.20 323.08 L310.32 322.01 L310.44 320.98 L310.55 320.00 L310.67 319.06 L310.79 318.16 L310.91 317.30 L311.03 316.48 L311.15 315.70 L311.27 314.95 L311.38 314.23 L311.50 313.54 L311.62 312.88 L311.74 312.26 L311.86 311.66 L311.98 311.08 L312.10 310.54 L312.22 310.02 L312.33 309.52 L312.45 309.05 L312.57 308.60 L312.69 308.17 L312.81 307.77 L312.93 307.39 L313.05 307.03 L313.16 306.69 L313.28 306.37 L313.40 306.07 L313.52 305.79 L313.64 305.53 L313.76 305.29 L313.88 305.06 L313.99 304.86 L314.11 304.67 L314.23 304.51 L314.35 304.36 L314.47 304.23 L314.59 304.11 L314.71 304.02 L314.83 303.94 L314.94 303.88 L315.06 303.83 L315.18 303.81 L315.30 303.80 L315.42 303.81 L315.54 303.83 L315.66 303.88 L315.78 303.94 L315.90 304.02 L316.02 304.11 L316.14 304.23 L316.26 304.36 L316.38 304.51 L316.50 304.67 L316.62 304.86 L316.74 305.06 L316.86 305.29 L316.98 305.53 L317.11 305.79 L317.23 306.07 L317.35 306.37 L317.47 306.69 L317.59 307.03 L317.71 307.39 L317.83 307.77 L317.95 308.17 L318.07 308.60 L318.19 309.05 L318.31 309.52 L318.43 310.02 L318.55 310.54 L318.67 311.08 L318.79 311.66 L318.91 312.26 L319.03 312.88 L319.15 313.54 L319.27 314.23 L319.39 314.95 L319.51 315.70 L319.63 316.48 L319.75 317.30 L319.87 318.16 L319.99 319.06 L320.11 320.00 L320.23 320.98 L320.35 322.01 L320.47 323.08 L320.59 324.21 L320.72 325.39 L320.84 326.64 L320.96 327.94 L321.08 329.32 L321.20 330.77 L321.32 332.30 L321.44 333.91 L321.56 335.62 L321.68 337.44 L321.80 339.38 L321.92 341.44 L322.04 343.66 L322.16 346.04 L322.28 348.61 L322.40 351.40 M330.00 351.40 L330.15 349.08 L330.29 346.93 L330.44 344.91 L330.58 343.01 L330.73 341.23 L330.87 339.55 L331.02 337.96 L331.17 336.46 L331.31 335.03 L331.46 333.68 L331.60 332.39 L331.75 331.16 L331.89 329.99 L332.04 328.87 L332.19 327.80 L332.33 326.78 L332.48 325.80 L332.62 324.87 L332.77 323.97 L332.92 323.12 L333.06 322.30 L333.21 321.51 L333.35 320.76 L333.50 320.04 L333.64 319.35 L333.79 318.69 L333.94 318.05 L334.08 317.45 L334.23 316.87 L334.37 316.31 L334.52 315.78 L334.66 315.28 L334.81 314.79 L334.96 314.33 L335.10 313.89 L335.25 313.48 L335.39 313.08 L335.54 312.70 L335.68 312.35 L335.83 312.01 L335.98 311.70 L336.12 311.40 L336.27 311.12 L336.41 310.86 L336.56 310.61 L336.71 310.39 L336.85 310.18 L337.00 309.99 L337.14 309.82 L337.29 309.66 L337.43 309.52 L337.58 309.40 L337.73 309.29 L337.87 309.20 L338.02 309.13 L338.16 309.07 L338.31 309.03 L338.45 309.01 L338.60 309.00 L338.73 309.01 L338.85 309.03 L338.98 309.07 L339.10 309.13 L339.23 309.20 L339.35 309.29 L339.48 309.40 L339.60 309.52 L339.73 309.66 L339.85 309.82 L339.98 309.99 L340.11 310.18 L340.23 310.39 L340.36 310.61 L340.48 310.86 L340.61 311.12 L340.73 311.40 L340.86 311.70 L340.98 312.01 L341.11 312.35 L341.23 312.70 L341.36 313.08 L341.48 313.48 L341.61 313.89 L341.74 314.33 L341.86 314.79 L341.99 315.28 L342.11 315.78 L342.24 316.31 L342.36 316.87 L342.49 317.45 L342.61 318.05 L342.74 318.69 L342.86 319.35 L342.99 320.04 L343.12 320.76 L343.24 321.51 L343.37 322.30 L343.49 323.12 L343.62 323.97 L343.74 324.87 L343.87 325.80 L343.99 326.78 L344.12 327.80 L344.24 328.87 L344.37 329.99 L344.49 331.16 L344.62 332.39 L344.75 333.68 L344.87 335.03 L345.00 336.46 L345.12 337.96 L345.25 339.55 L345.37 341.23 L345.50 343.01 L345.62 344.91 L345.75 346.93 L345.87 349.08 L346.00 351.40 M348.00 351.40 L348.11 350.33 L348.22 349.30 L348.33 348.31 L348.43 347.36 L348.54 346.44 L348.65 345.56 L348.76 344.71 L348.87 343.90 L348.98 343.11 L349.08 342.35 L349.19 341.61 L349.30 340.91 L349.41 340.23 L349.52 339.57 L349.63 338.93 L349.74 338.32 L349.84 337.73 L349.95 337.15 L350.06 336.60 L350.17 336.07 L350.28 335.56 L350.39 335.07 L350.49 334.59 L350.60 334.13 L350.71 333.69 L350.82 333.26 L350.93 332.85 L351.04 332.46 L351.15 332.08 L351.25 331.72 L351.36 331.37 L351.47 331.04 L351.58 330.72 L351.69 330.41 L351.80 330.12 L351.91 329.84 L352.01 329.57 L352.12 329.32 L352.23 329.08 L352.34 328.85 L352.45 328.64 L352.56 328.44 L352.66 328.25 L352.77 328.07 L352.88 327.91 L352.99 327.75 L353.10 327.61 L353.21 327.48 L353.32 327.36 L353.42 327.25 L353.53 327.16 L353.64 327.07 L353.75 327.00 L353.86 326.94 L353.97 326.89 L354.07 326.85 L354.18 326.82 L354.29 326.81 L354.40 326.80 L354.49 326.81 L354.59 326.82 L354.68 326.85 L354.78 326.89 L354.87 326.94 L354.97 327.00 L355.06 327.07 L355.16 327.16 L355.25 327.25 L355.35 327.36 L355.44 327.48 L355.54 327.61 L355.63 327.75 L355.73 327.91 L355.82 328.07 L355.92 328.25 L356.01 328.44 L356.11 328.64 L356.20 328.85 L356.30 329.08 L356.39 329.32 L356.49 329.57 L356.58 329.84 L356.68 330.12 L356.77 330.41 L356.87 330.72 L356.96 331.04 L357.06 331.37 L357.15 331.72 L357.25 332.08 L357.34 332.46 L357.44 332.85 L357.53 333.26 L357.63 333.69 L357.72 334.13 L357.82 334.59 L357.91 335.07 L358.01 335.56 L358.10 336.07 L358.20 336.60 L358.29 337.15 L358.39 337.73 L358.48 338.32 L358.58 338.93 L358.67 339.57 L358.77 340.23 L358.86 340.91 L358.96 341.61 L359.05 342.35 L359.15 343.11 L359.24 343.90 L359.34 344.71 L359.43 345.56 L359.53 346.44 L359.62 347.36 L359.72 348.31 L359.81 349.30 L359.91 350.33 L360.00 351.40 M362.00 351.40 L362.08 350.99 L362.16 350.59 L362.24 350.20 L362.33 349.81 L362.41 349.44 L362.49 349.08 L362.57 348.73 L362.65 348.38 L362.73 348.05 L362.81 347.72 L362.89 347.41 L362.98 347.10 L363.06 346.80 L363.14 346.51 L363.22 346.22 L363.30 345.95 L363.38 345.68 L363.46 345.42 L363.55 345.16 L363.63 344.92 L363.71 344.68 L363.79 344.45 L363.87 344.22 L363.95 344.01 L364.03 343.80 L364.12 343.59 L364.20 343.40 L364.28 343.21 L364.36 343.03 L364.44 342.85 L364.52 342.68 L364.60 342.52 L364.68 342.36 L364.77 342.21 L364.85 342.06 L364.93 341.93 L365.01 341.80 L365.09 341.67 L365.17 341.55 L365.25 341.44 L365.34 341.33 L365.42 341.23 L365.50 341.13 L365.58 341.04 L365.66 340.96 L365.74 340.88 L365.82 340.81 L365.91 340.75 L365.99 340.69 L366.07 340.63 L366.15 340.58 L366.23 340.54 L366.31 340.50 L366.39 340.47 L366.47 340.45 L366.56 340.43 L366.64 340.41 L366.72 340.40 L366.80 340.40 L366.87 340.40 L366.94 340.41 L367.01 340.43 L367.08 340.45 L367.16 340.47 L367.23 340.50 L367.30 340.54 L367.37 340.58 L367.44 340.63 L367.51 340.69 L367.58 340.75 L367.65 340.81 L367.73 340.88 L367.80 340.96 L367.87 341.04 L367.94 341.13 L368.01 341.23 L368.08 341.33 L368.15 341.44 L368.22 341.55 L368.29 341.67 L368.37 341.80 L368.44 341.93 L368.51 342.06 L368.58 342.21 L368.65 342.36 L368.72 342.52 L368.79 342.68 L368.86 342.85 L368.94 343.03 L369.01 343.21 L369.08 343.40 L369.15 343.59 L369.22 343.80 L369.29 344.01 L369.36 344.22 L369.43 344.45 L369.51 344.68 L369.58 344.92 L369.65 345.16 L369.72 345.42 L369.79 345.68 L369.86 345.95 L369.93 346.22 L370.00 346.51 L370.07 346.80 L370.15 347.10 L370.22 347.41 L370.29 347.72 L370.36 348.05 L370.43 348.38 L370.50 348.73 L370.57 349.08 L370.64 349.44 L370.72 349.81 L370.79 350.20 L370.86 350.59 L370.93 350.99 L371.00 351.40" stroke="#0000ff"/>
<path d="M80.60 111.30 L81.10 111.87 L81.61 112.44 L82.11 113.01 L82.61 113.58 L83.12 114.16 L83.62 114.73 L84.12 115.31 L84.62 115.89 L85.13 116.47 L85.63 117.05 L86.13 117.64 L86.64 118.22 L87.14 118.81 L87.64 119.40 L88.15 119.99 L88.65 120.58 L89.15 121.17 L89.65 121.77 L90.16 122.37 L90.66 122.96 L91.16 123.56 L91.67 124.16 L92.17 124.77 L92.67 125.37 L93.18 125.97 L93.68 126.58 L94.18 127.19 L94.68 127.80 L95.19 128.41 L95.69 129.02 L96.19 129.64 L96.70 130.27 L97.20 130.90 L97.70 131.53 L98.21 132.17 L98.71 132.81 L99.21 133.45 L99.72 134.09 L100.22 134.74 L100.72 135.38 L101.22 136.03 L101.73 136.67 L102.23 137.32 L102.73 137.96 L103.24 138.60 L103.74 139.24 L104.24 139.87 L104.75 140.50 L105.25 141.13 L105.75 141.75 L106.25 142.36 L106.76 142.97 L107.26 143.57 L107.76 144.15 L108.27 144.71 L108.77 145.26 L109.27 145.81 L109.78 146.37 L110.28 146.95 L110.78 147.56 L111.28 148.21 L111.79 148.89 L112.29 149.59 L112.79 150.31 L113.30 151.04 L113.80 151.79 L114.30 152.56 L114.81 153.34 L115.31 154.14 L115.81 154.96 L116.32 155.79 L116.82 156.63 L117.32 157.48 L117.82 158.35 L118.33 159.23 L118.83 160.12 L119.33 161.02 L119.84 161.93 L120.34 162.84 L120.84 163.77 L121.35 164.70 L121.85 165.64 L122.35 166.59 L122.85 167.54 L123.36 168.50 L123.86 169.46 L124.36 170.43 L124.87 171.40 L125.37 172.38 L125.87 173.37 L126.38 174.37 L126.88 175.39 L127.38 176.42 L127.88 177.47 L128.39 178.54 L128.89 179.62 L129.39 180.73 L129.90 181.87 L130.40 183.03 L130.90 184.21 L131.41 185.43 L131.91 186.68 L132.41 187.96 L132.92 189.27 L133.42 190.62 L133.92 192.04 L134.42 193.54 L134.93 195.13 L135.43 196.82 L135.93 198.62 L136.44 200.55 L136.94 202.84 L137.44 205.42 L137.95 208.11 L138.45 210.71 L138.95 213.04 L139.45 214.92 L139.96 216.32 L140.46 217.55 L140.96 218.93 L141.47 220.77 L141.97 223.08 L142.47 225.84 L142.98 229.09 L143.48 232.85 L143.98 237.17 L144.48 242.22 L144.99 249.33 L145.49 258.25 L145.99 267.80 L146.50 279.99 L147.00 352.00 M147.40 352.00 L147.90 281.76 L148.40 273.14 L148.90 268.83 L149.40 264.29 L149.90 257.76 L150.40 251.02 L150.90 244.89 L151.40 240.19 L151.90 236.67 L152.40 233.53 L152.90 230.72 L153.40 228.19 L153.90 225.90 L154.40 223.82 L154.90 221.90 L155.40 220.09 L155.90 218.41 L156.40 216.91 L156.90 215.57 L157.40 214.39 L157.90 213.34 L158.40 212.38 L158.90 211.49 L159.40 210.65 L159.90 209.85 L160.40 209.07 L160.90 208.29 L161.40 207.49 L161.91 206.65 L162.41 205.80 L162.91 205.02 L163.41 204.39 L163.91 203.89 L164.41 203.44 L164.91 203.02 L165.41 202.63 L165.91 202.27 L166.41 201.94 L166.91 201.62 L167.41 201.31 L167.91 201.00 L168.41 200.70 L168.91 200.38 L169.41 200.06 L169.91 199.72 L170.41 199.37 L170.91 199.02 L171.41 198.68 L171.91 198.35 L172.41 198.04 L172.91 197.77 L173.41 197.54 L173.91 197.34 L174.41 197.15 L174.91 196.96 L175.41 196.78 L175.91 196.60 L176.41 196.43 L176.91 196.26 L177.41 196.10 L177.91 195.94 L178.41 195.79 L178.91 195.65 L179.41 195.51 L179.91 195.38 L180.41 195.25 L180.91 195.13 L181.41 195.01 L181.91 194.91 L182.41 194.80 L182.91 194.71 L183.41 194.62 L183.91 194.53 L184.41 194.46 L184.91 194.39 L185.41 194.32 L185.91 194.26 L186.41 194.21 L186.91 194.15 L187.41 194.09 L187.91 194.04 L188.41 193.98 L188.91 193.93 L189.41 193.88 L189.91 193.83 L190.42 193.77 L190.92 193.72 L191.42 193.68 L191.92 193.63 L192.42 193.58 L192.92 193.54 L193.42 193.49 L193.92 193.45 L194.42 193.41 L194.92 193.37 L195.42 193.33 L195.92 193.29 L196.42 193.25 L196.92 193.22 L197.42 193.18 L197.92 193.15 L198.42 193.12 L198.92 193.09 L199.42 193.07 L199.92 193.04 L200.42 193.02 L200.92 193.00 L201.42 192.98 L201.92 192.96 L202.42 192.95 L202.92 192.93 L203.42 192.92 L203.92 192.91 L204.42 192.91 L204.92 192.90 L205.42 192.90 L205.92 192.90 L206.42 192.90 L206.92 192.91 L207.42 192.91 L207.92 192.92 L208.42 192.93 L208.92 192.94 L209.42 192.95 L209.92 192.97 L210.42 192.98 L210.92 193.00 L211.42 193.02 L211.92 193.04 L212.42 193.06 L212.92 193.08 L213.42 193.11 L213.92 193.13 L214.42 193.16 L214.92 193.19 L215.42 193.21 L215.92 193.24 L216.42 193.28 L216.92 193.31 L217.42 193.34 L217.92 193.37 L218.43 193.41 L218.93 193.44 L219.43 193.48 L219.93 193.52 L220.43 193.56 L220.93 193.62 L221.43 193.68 L221.93 193.76 L222.43 193.84 L222.93 193.93 L223.43 194.03 L223.93 194.13 L224.43 194.24 L224.93 194.35 L225.43 194.47 L225.93 194.60 L226.43 194.73 L226.93 194.87 L227.43 195.00 L227.93 195.15 L228.43 195.29 L228.93 195.44 L229.43 195.59 L229.93 195.74 L230.43 195.89 L230.93 196.04 L231.43 196.19 L231.93 196.34 L232.43 196.49 L232.93 196.65 L233.43 196.81 L233.93 196.98 L234.43 197.15 L234.93 197.33 L235.43 197.51 L235.93 197.70 L236.43 197.89 L236.93 198.10 L237.43 198.31 L237.93 198.52 L238.43 198.75 L238.93 198.98 L239.43 199.23 L239.93 199.48 L240.43 199.74 L240.93 200.01 L241.43 200.29 L241.93 200.58 L242.43 200.90 L242.93 201.26 L243.43 201.65 L243.93 202.07 L244.43 202.51 L244.93 202.97 L245.43 203.45 L245.93 203.94 L246.43 204.44 L246.94 204.94 L247.44 205.44 L247.94 205.94 L248.44 206.43 L248.94 206.92 L249.44 207.40 L249.94 207.90 L250.44 208.40 L250.94 208.90 L251.44 209.43 L251.94 209.96 L252.44 210.52 L252.94 211.10 L253.44 211.71 L253.94 212.34 L254.44 213.01 L254.94 213.71 L255.44 214.48 L255.94 215.35 L256.44 216.31 L256.94 217.33 L257.44 218.40 L257.94 219.50 L258.44 220.61 L258.94 221.72 L259.44 222.80 L259.94 223.83 L260.44 224.80 L260.94 225.72 L261.44 226.62 L261.94 227.51 L262.44 228.39 L262.94 229.25 L263.44 230.10 L263.94 230.93 L264.44 231.73 L264.94 232.52 L265.44 233.27 L265.94 234.00 L266.44 234.70 L266.94 235.39 L267.44 236.10 L267.94 236.80 L268.44 237.49 L268.94 238.15 L269.44 238.78 L269.94 239.37 L270.44 239.91 L270.94 240.39 L271.44 240.80 L271.94 241.13 L272.44 241.42 L272.94 241.70 L273.44 241.98 L273.94 242.23 L274.44 242.46 L274.94 242.66 L275.45 242.82 L275.95 242.93 L276.45 242.99 L276.95 242.99 L277.45 242.93 L277.95 242.82 L278.45 242.65 L278.95 242.45 L279.45 242.21 L279.95 241.95 L280.45 241.67 L280.95 241.37 L281.45 241.07 L281.95 240.69 L282.45 240.20 L282.95 239.63 L283.45 238.99 L283.95 238.31 L284.45 237.62 L284.95 236.93 L285.45 236.27 L285.95 235.67 L286.45 235.11 L286.95 234.52 L287.45 233.91 L287.95 233.30 L288.45 232.72 L288.95 232.17 L289.45 231.68 L289.95 231.27 L290.45 230.95 L290.95 230.75 L291.45 230.58 L291.95 230.42 L292.45 230.27 L292.95 230.14 L293.45 230.03 L293.95 229.93 L294.45 229.86 L294.95 229.82 L295.45 229.80 L295.95 229.86 L296.45 230.04 L296.95 230.34 L297.45 230.74 L297.95 231.20 L298.45 231.73 L298.95 232.30 L299.45 232.90 L299.95 233.72 L300.45 234.79 L300.95 236.06 L301.45 237.47 L301.95 238.96 L302.45 240.47 L302.95 241.97 L303.45 243.42 L303.96 244.90 L304.46 246.47 L304.96 248.17 L305.46 250.06 L305.96 252.24 L306.46 255.21 L306.96 258.56 L307.46 261.62 L307.96 263.81 L308.46 265.46 L308.96 267.00 L309.46 268.82 L309.96 271.07 L310.46 273.52 L310.96 275.89 L311.46 277.92 L311.96 279.57 L312.46 281.23 L312.96 282.79 L313.46 284.08 L313.96 284.93 L314.46 285.19 L314.96 284.20 L315.46 282.08 L315.96 279.41 L316.46 276.83 L316.96 274.64 L317.46 272.40 L317.96 270.13 L318.46 267.89 L318.96 265.75 L319.46 263.61 L319.96 261.47 L320.46 259.45 L320.96 257.65 L321.46 256.11 L321.96 254.53 L322.46 253.01 L322.96 251.70 L323.46 250.78 L323.96 250.40 L324.46 250.44 L324.96 250.57 L325.46 250.75 L325.96 250.98 L326.46 251.35 L326.96 251.98 L327.46 252.82 L327.96 253.83 L328.46 254.96 L328.96 256.16 L329.46 257.51 L329.96 259.21 L330.46 261.19 L330.96 263.37 L331.46 265.66 L331.96 268.13 L332.47 271.33 L332.97 276.73 L333.47 283.56 L333.97 290.17 L334.47 295.65 L334.97 292.17 L335.47 280.49 L335.97 272.15 L336.47 270.66 L336.97 269.64 L337.47 268.96 L337.97 268.52 L338.47 268.20 L338.97 267.92 L339.47 267.70 L339.97 267.56 L340.47 267.50 L340.97 267.54 L341.47 267.68 L341.97 267.89 L342.47 268.17 L342.97 268.48 L343.47 268.93 L343.97 269.65 L344.47 270.62 L344.97 271.83 L345.47 273.26 L345.97 274.90 L346.47 278.06 L346.97 283.06 L347.47 287.76 L347.97 289.99 L348.47 289.30 L348.97 287.65 L349.47 286.07 L349.97 284.83 L350.47 283.65 L350.97 283.01 L351.47 282.85 L351.97 282.73 L352.47 282.63 L352.97 282.56 L353.47 282.51 L353.97 282.50 L354.47 282.54 L354.97 282.65 L355.47 282.83 L355.97 283.07 L356.47 283.34 L356.97 283.65 L357.47 283.98 L357.97 284.46 L358.47 285.19 L358.97 286.09 L359.47 287.06 L359.97 288.01 L360.48 288.84 L360.98 289.48 L361.48 289.90 L361.98 290.24 L362.48 290.54 L362.98 290.84 L363.48 291.21 L363.98 291.69 L364.48 292.35 L364.98 293.18 L365.48 294.13 L365.98 295.16 L366.48 296.22 L366.98 297.29 L367.48 298.31 L367.98 299.25 L368.48 300.07 L368.98 300.85 L369.48 301.69 L369.98 302.48 L370.48 303.12 L370.98 303.52 L371.48 303.54 L371.98 302.86 L372.48 301.69 L372.98 300.36 L373.48 299.23 L373.98 298.63 L374.48 298.68 L374.98 299.01 L375.48 299.54 L375.98 300.19 L376.48 301.14 L376.98 303.21 L377.48 305.86 L377.98 308.40 L378.48 310.14 L378.98 310.47 L379.48 310.14 L379.98 309.56 L380.48 308.89 L380.98 308.30 L381.48 307.94 L381.98 307.96 L382.48 308.31 L382.98 308.90 L383.48 309.65 L383.98 310.47 L384.48 311.27 L384.98 311.98 L385.48 312.63 L385.98 313.31 L386.48 313.99 L386.98 314.66 L387.48 315.27 L387.98 315.80 L388.48 316.24 L388.99 316.65 L389.49 317.02 L389.99 317.38 L390.49 317.71 L390.99 318.02 L391.49 318.32 L391.99 318.60 L392.49 318.88 L392.99 319.15 L393.49 319.41 L393.99 319.67 L394.49 319.93 L394.99 320.19 L395.49 320.46 L395.99 320.74 L396.49 321.03 L396.99 321.34 L397.49 321.66 L397.99 322.00 L398.49 322.35 L398.99 322.70 L399.49 323.06 L399.99 323.43 L400.49 323.81 L400.99 324.18 L401.49 324.57 L401.99 324.95 L402.49 325.34 L402.99 325.74 L403.49 326.13 L403.99 326.53 L404.49 326.93 L404.99 327.33 L405.49 327.72 L405.99 328.12 L406.49 328.52 L406.99 328.91 L407.49 329.31 L407.99 329.71 L408.49 330.11 L408.99 330.52 L409.49 330.92 L409.99 331.33 L410.49 331.75 L410.99 332.16 L411.49 332.57 L411.99 332.98 L412.49 333.39 L412.99 333.81 L413.49 334.21 L413.99 334.62 L414.49 335.02 L414.99 335.42 L415.49 335.82 L415.99 336.21 L416.49 336.60 L416.99 336.98 L417.50 337.35 L418.00 337.72 L418.50 338.09 L419.00 338.45 L419.50 338.81 L420.00 339.16 L420.50 339.52 L421.00 339.88 L421.50 340.23 L422.00 340.59 L422.50 340.95 L423.00 341.31 L423.50 341.68 L424.00 342.05 L424.50 342.42 L425.00 342.80 L425.50 343.18 L426.00 343.57 L426.50 343.96 L427.00 344.35 L427.50 344.75 L428.00 345.15 L428.50 345.55 L429.00 345.95 L429.50 346.36 L430.00 346.76 L430.50 347.17 L431.00 347.59 L431.50 348.00" stroke="#ff0000" stroke-dasharray="7.2 3.7"/>
<path d="M80.60 87.00 L81.10 87.35 L81.60 87.70 L82.10 88.05 L82.60 88.39 L83.10 88.74 L83.60 89.09 L84.10 89.44 L84.60 89.79 L85.10 90.14 L85.61 90.49 L86.11 90.83 L86.61 91.18 L87.11 91.53 L87.61 91.88 L88.11 92.23 L88.61 92.58 L89.11 92.93 L89.61 93.28 L90.11 93.62 L90.61 93.97 L91.11 94.32 L91.61 94.67 L92.11 95.02 L92.61 95.37 L93.11 95.72 L93.61 96.06 L94.11 96.41 L94.62 96.76 L95.12 97.11 L95.62 97.46 L96.12 97.81 L96.62 98.16 L97.12 98.52 L97.62 98.87 L98.12 99.22 L98.62 99.57 L99.12 99.93 L99.62 100.28 L100.12 100.64 L100.62 101.00 L101.12 101.36 L101.62 101.72 L102.12 102.08 L102.62 102.44 L103.12 102.80 L103.63 103.16 L104.13 103.52 L104.63 103.88 L105.13 104.24 L105.63 104.60 L106.13 104.96 L106.63 105.32 L107.13 105.68 L107.63 106.03 L108.13 106.39 L108.63 106.74 L109.13 107.09 L109.63 107.44 L110.13 107.79 L110.63 108.14 L111.13 108.48 L111.63 108.82 L112.13 109.17 L112.64 109.51 L113.14 109.84 L113.64 110.18 L114.14 110.52 L114.64 110.85 L115.14 111.19 L115.64 111.53 L116.14 111.86 L116.64 112.20 L117.14 112.53 L117.64 112.87 L118.14 113.20 L118.64 113.53 L119.14 113.87 L119.64 114.20 L120.14 114.53 L120.64 114.85 L121.14 115.18 L121.65 115.50 L122.15 115.82 L122.65 116.14 L123.15 116.45 L123.65 116.76 L124.15 117.07 L124.65 117.38 L125.15 117.68 L125.65 117.99 L126.15 118.30 L126.65 118.61 L127.15 118.92 L127.65 119.23 L128.15 119.55 L128.65 119.86 L129.15 120.18 L129.65 120.50 L130.16 120.82 L130.66 121.14 L131.16 121.46 L131.66 121.78 L132.16 122.10 L132.66 122.42 L133.16 122.74 L133.66 123.06 L134.16 123.38 L134.66 123.70 L135.16 124.01 L135.66 124.33 L136.16 124.64 L136.66 124.95 L137.16 125.27 L137.66 125.58 L138.16 125.89 L138.66 126.21 L139.16 126.52 L139.67 126.83 L140.17 127.14 L140.67 127.46 L141.17 127.77 L141.67 128.08 L142.17 128.39 L142.67 128.70 L143.17 129.01 L143.67 129.32 L144.17 129.63 L144.67 129.93 L145.17 130.24 L145.67 130.55 L146.17 130.85 L146.67 131.16 L147.17 131.46 L147.67 131.77 L148.18 132.07 L148.68 132.37 L149.18 132.67 L149.68 132.97 L150.18 133.27 L150.68 133.57 L151.18 133.87 L151.68 134.16 L152.18 134.46 L152.68 134.75 L153.18 135.04 L153.68 135.33 L154.18 135.61 L154.68 135.90 L155.18 136.18 L155.68 136.47 L156.18 136.75 L156.68 137.03 L157.19 137.31 L157.69 137.59 L158.19 137.86 L158.69 138.14 L159.19 138.42 L159.69 138.70 L160.19 138.97 L160.69 139.25 L161.19 139.53 L161.69 139.81 L162.19 140.09 L162.69 140.37 L163.19 140.65 L163.69 140.93 L164.19 141.21 L164.69 141.49 L165.19 141.78 L165.69 142.06 L166.19 142.35 L166.70 142.64 L167.20 142.93 L167.70 143.23 L168.20 143.52 L168.70 143.82 L169.20 144.12 L169.70 144.42 L170.20 144.73 L170.70 145.05 L171.20 145.37 L171.70 145.69 L172.20 146.01 L172.70 146.34 L173.20 146.66 L173.70 146.99 L174.20 147.30 L174.70 147.62 L175.20 147.92 L175.71 148.22 L176.21 148.52 L176.71 148.81 L177.21 149.10 L177.71 149.39 L178.21 149.68 L178.71 149.96 L179.21 150.25 L179.71 150.53 L180.21 150.81 L180.71 151.09 L181.21 151.36 L181.71 151.64 L182.21 151.91 L182.71 152.18 L183.21 152.46 L183.71 152.73 L184.21 153.00 L184.72 153.27 L185.22 153.53 L185.72 153.80 L186.22 154.07 L186.72 154.34 L187.22 154.60 L187.72 154.87 L188.22 155.14 L188.72 155.40 L189.22 155.67 L189.72 155.93 L190.22 156.20 L190.72 156.47 L191.22 156.73 L191.72 157.00 L192.22 157.27 L192.72 157.54 L193.22 157.81 L193.73 158.08 L194.23 158.35 L194.73 158.62 L195.23 158.90 L195.73 159.17 L196.23 159.45 L196.73 159.72 L197.23 159.99 L197.73 160.27 L198.23 160.54 L198.73 160.81 L199.23 161.09 L199.73 161.36 L200.23 161.63 L200.73 161.90 L201.23 162.18 L201.73 162.45 L202.23 162.72 L202.74 162.99 L203.24 163.27 L203.74 163.54 L204.24 163.81 L204.74 164.09 L205.24 164.36 L205.74 164.63 L206.24 164.91 L206.74 165.18 L207.24 165.46 L207.74 165.73 L208.24 166.01 L208.74 166.28 L209.24 166.56 L209.74 166.84 L210.24 167.12 L210.74 167.39 L211.24 167.67 L211.75 167.95 L212.25 168.24 L212.75 168.52 L213.25 168.80 L213.75 169.08 L214.25 169.37 L214.75 169.65 L215.25 169.94 L215.75 170.23 L216.25 170.52 L216.75 170.80 L217.25 171.08 L217.75 171.37 L218.25 171.65 L218.75 171.93 L219.25 172.20 L219.75 172.48 L220.25 172.76 L220.76 173.04 L221.26 173.31 L221.76 173.59 L222.26 173.87 L222.76 174.15 L223.26 174.42 L223.76 174.70 L224.26 174.99 L224.76 175.27 L225.26 175.55 L225.76 175.84 L226.26 176.13 L226.76 176.42 L227.26 176.71 L227.76 177.01 L228.26 177.30 L228.76 177.61 L229.26 177.91 L229.77 178.22 L230.27 178.53 L230.77 178.85 L231.27 179.17 L231.77 179.49 L232.27 179.82 L232.77 180.16 L233.27 180.50 L233.77 180.84 L234.27 181.19 L234.77 181.55 L235.27 181.91 L235.77 182.28 L236.27 182.66 L236.77 183.05 L237.27 183.46 L237.77 183.88 L238.27 184.32 L238.78 184.76 L239.28 185.22 L239.78 185.68 L240.28 186.15 L240.78 186.63 L241.28 187.11 L241.78 187.60 L242.28 188.09 L242.78 188.58 L243.28 189.08 L243.78 189.57 L244.28 190.06 L244.78 190.56 L245.28 191.04 L245.78 191.53 L246.28 192.01 L246.78 192.48 L247.28 192.94 L247.79 193.40 L248.29 193.84 L248.79 194.26 L249.29 194.68 L249.79 195.08 L250.29 195.47 L250.79 195.86 L251.29 196.26 L251.79 196.66 L252.29 197.08 L252.79 197.51 L253.29 197.96 L253.79 198.43 L254.29 198.93 L254.79 199.47 L255.29 200.05 L255.79 200.72 L256.29 201.46 L256.80 202.25 L257.30 203.06 L257.80 203.87 L258.30 204.65 L258.80 205.40 L259.30 206.12 L259.80 206.86 L260.30 207.61 L260.80 208.35 L261.30 209.09 L261.80 209.81 L262.30 210.50 L262.80 211.15 L263.30 211.76 L263.80 212.32 L264.30 212.81 L264.80 213.26 L265.30 213.68 L265.81 214.10 L266.31 214.49 L266.81 214.86 L267.31 215.22 L267.81 215.55 L268.31 215.85 L268.81 216.13 L269.31 216.37 L269.81 216.59 L270.31 216.78 L270.81 216.95 L271.31 217.11 L271.81 217.27 L272.31 217.42 L272.81 217.56 L273.31 217.69 L273.81 217.82 L274.31 217.93 L274.82 218.04 L275.32 218.14 L275.82 218.24 L276.32 218.32 L276.82 218.40 L277.32 218.46 L277.82 218.53 L278.32 218.58 L278.82 218.62 L279.32 218.66 L279.82 218.69 L280.32 218.73 L280.82 218.75 L281.32 218.78 L281.82 218.81 L282.32 218.84 L282.82 218.87 L283.32 218.91 L283.83 218.95 L284.33 219.01 L284.83 219.06 L285.33 219.13 L285.83 219.24 L286.33 219.37 L286.83 219.53 L287.33 219.71 L287.83 219.91 L288.33 220.13 L288.83 220.37 L289.33 220.62 L289.83 220.88 L290.33 221.15 L290.83 221.42 L291.33 221.70 L291.83 222.00 L292.33 222.33 L292.84 222.68 L293.34 223.07 L293.84 223.48 L294.34 223.93 L294.84 224.41 L295.34 224.92 L295.84 225.50 L296.34 226.17 L296.84 226.94 L297.34 227.79 L297.84 228.72 L298.34 229.70 L298.84 230.73 L299.34 231.79 L299.84 232.98 L300.34 234.31 L300.84 235.76 L301.34 237.26 L301.85 238.78 L302.35 240.27 L302.85 241.69 L303.35 243.11 L303.85 244.72 L304.35 246.26 L304.85 247.43 L305.35 247.91 L305.85 248.04 L306.35 248.15 L306.85 248.25 L307.35 248.33 L307.85 248.39 L308.35 248.44 L308.85 248.47 L309.35 248.49 L309.85 248.50 L310.36 248.47 L310.86 248.37 L311.36 248.22 L311.86 248.03 L312.36 247.80 L312.86 247.55 L313.36 247.29 L313.86 247.04 L314.36 246.80 L314.86 246.58 L315.36 246.41 L315.86 246.28 L316.36 246.21 L316.86 246.20 L317.36 246.20 L317.86 246.20 L318.36 246.20 L318.86 246.20 L319.37 246.20 L319.87 246.20 L320.37 246.20 L320.87 246.20 L321.37 246.20 L321.87 246.20 L322.37 246.20 L322.87 246.39 L323.37 246.82 L323.87 247.44 L324.37 248.17 L324.87 248.95 L325.37 249.73 L325.87 250.44 L326.37 251.13 L326.87 251.85 L327.37 252.61 L327.87 253.43 L328.38 254.33 L328.88 255.32 L329.38 256.48 L329.88 257.99 L330.38 259.69 L330.88 261.37 L331.38 262.81 L331.88 264.31 L332.38 265.70 L332.88 266.47 L333.38 266.49 L333.88 266.47 L334.38 266.42 L334.88 266.36 L335.38 266.29 L335.88 266.21 L336.38 266.12 L336.88 266.03 L337.38 265.93 L337.89 265.84 L338.39 265.74 L338.89 265.62 L339.39 265.47 L339.89 265.30 L340.39 265.14 L340.89 264.98 L341.39 264.85 L341.89 264.76 L342.39 264.71 L342.89 264.74 L343.39 264.99 L343.89 265.44 L344.39 266.04 L344.89 266.78 L345.39 267.60 L345.89 268.49 L346.39 269.40 L346.90 270.31 L347.40 271.17 L347.90 272.01 L348.40 273.01 L348.90 274.15 L349.40 275.34 L349.90 276.53 L350.40 277.64 L350.90 278.62 L351.40 279.39 L351.90 279.89 L352.40 280.12 L352.90 280.30 L353.40 280.47 L353.90 280.62 L354.40 280.75 L354.90 280.85 L355.40 280.93 L355.91 280.98 L356.41 281.00 L356.91 280.99 L357.41 280.95 L357.91 280.89 L358.41 280.82 L358.91 280.74 L359.41 280.66 L359.91 280.59 L360.41 280.54 L360.91 280.51 L361.41 280.54 L361.91 280.91 L362.41 281.61 L362.91 282.58 L363.41 283.72 L363.91 284.99 L364.41 286.28 L364.92 287.55 L365.42 288.70 L365.92 289.67 L366.42 290.38 L366.92 290.76 L367.42 291.01 L367.92 291.23 L368.42 291.41 L368.92 291.56 L369.42 291.70 L369.92 291.82 L370.42 291.94 L370.92 292.05 L371.42 292.17 L371.92 292.30 L372.42 292.45 L372.92 292.62 L373.42 292.82 L373.93 293.06 L374.43 293.34 L374.93 293.65 L375.43 293.99 L375.93 294.36 L376.43 294.76 L376.93 295.17 L377.43 295.59 L377.93 296.03 L378.43 296.47 L378.93 296.92 L379.43 297.40 L379.93 297.91 L380.43 298.46 L380.93 299.03 L381.43 299.61 L381.93 300.20 L382.43 300.79 L382.94 301.36 L383.44 301.92 L383.94 302.45 L384.44 302.94 L384.94 303.40 L385.44 303.85 L385.94 304.28 L386.44 304.71 L386.94 305.12 L387.44 305.52 L387.94 305.92 L388.44 306.31 L388.94 306.69 L389.44 307.07 L389.94 307.45 L390.44 307.83 L390.94 308.21 L391.44 308.58 L391.95 308.96 L392.45 309.35 L392.95 309.74 L393.45 310.13 L393.95 310.54 L394.45 310.95 L394.95 311.36 L395.45 311.77 L395.95 312.18 L396.45 312.60 L396.95 313.01 L397.45 313.43 L397.95 313.85 L398.45 314.26 L398.95 314.68 L399.45 315.10 L399.95 315.52 L400.45 315.94 L400.96 316.36 L401.46 316.78 L401.96 317.20 L402.46 317.62 L402.96 318.03 L403.46 318.45 L403.96 318.87 L404.46 319.29 L404.96 319.70 L405.46 320.12 L405.96 320.53 L406.46 320.95 L406.96 321.37 L407.46 321.79 L407.96 322.21 L408.46 322.63 L408.96 323.06 L409.47 323.48 L409.97 323.90 L410.47 324.32 L410.97 324.74 L411.47 325.16 L411.97 325.57 L412.47 325.99 L412.97 326.40 L413.47 326.81 L413.97 327.21 L414.47 327.61 L414.97 328.01 L415.47 328.41 L415.97 328.79 L416.47 329.18 L416.97 329.56 L417.47 329.93 L417.97 330.30 L418.48 330.66 L418.98 331.02 L419.48 331.37 L419.98 331.72 L420.48 332.07 L420.98 332.42 L421.48 332.76 L421.98 333.11 L422.48 333.46 L422.98 333.81 L423.48 334.16 L423.98 334.51 L424.48 334.87 L424.98 335.23 L425.48 335.59 L425.98 335.96 L426.48 336.34 L426.98 336.71 L427.49 337.09 L427.99 337.47 L428.49 337.85 L428.99 338.24 L429.49 338.62 L429.99 339.01 L430.49 339.40 L430.99 339.79 L431.49 340.18 L431.99 340.58 L432.49 340.97 L432.99 341.37 L433.49 341.77 L433.99 342.17 L434.49 342.57 L434.99 342.98 L435.49 343.39 L435.99 343.80 L436.50 344.21 L437.00 344.62 L437.50 345.04 L438.00 345.45 L438.50 345.87 L439.00 346.30 L439.50 346.72 L440.00 347.14 L440.50 347.57 L441.00 348.00" stroke="#ff0000" stroke-dasharray="3.2 3.7"/>
<path d="M80.60 77.70 L81.10 78.11 L81.60 78.52 L82.10 78.93 L82.60 79.35 L83.10 79.76 L83.60 80.17 L84.10 80.58 L84.60 80.99 L85.10 81.40 L85.60 81.82 L86.11 82.23 L86.61 82.64 L87.11 83.05 L87.61 83.46 L88.11 83.88 L88.61 84.29 L89.11 84.70 L89.61 85.11 L90.11 85.52 L90.61 85.94 L91.11 86.35 L91.61 86.76 L92.11 87.17 L92.61 87.58 L93.11 88.00 L93.61 88.41 L94.11 88.82 L94.61 89.23 L95.11 89.64 L95.61 90.06 L96.11 90.47 L96.61 90.88 L97.12 91.29 L97.62 91.70 L98.12 92.12 L98.62 92.53 L99.12 92.94 L99.62 93.35 L100.12 93.77 L100.62 94.18 L101.12 94.59 L101.62 95.00 L102.12 95.42 L102.62 95.83 L103.12 96.24 L103.62 96.65 L104.12 97.07 L104.62 97.48 L105.12 97.89 L105.62 98.30 L106.12 98.72 L106.62 99.13 L107.12 99.54 L107.62 99.95 L108.13 100.37 L108.63 100.78 L109.13 101.19 L109.63 101.60 L110.13 102.02 L110.63 102.43 L111.13 102.84 L111.63 103.25 L112.13 103.67 L112.63 104.08 L113.13 104.49 L113.63 104.91 L114.13 105.32 L114.63 105.73 L115.13 106.14 L115.63 106.56 L116.13 106.97 L116.63 107.38 L117.13 107.80 L117.63 108.21 L118.13 108.63 L118.63 109.04 L119.14 109.46 L119.64 109.87 L120.14 110.29 L120.64 110.70 L121.14 111.12 L121.64 111.53 L122.14 111.95 L122.64 112.37 L123.14 112.78 L123.64 113.20 L124.14 113.61 L124.64 114.03 L125.14 114.44 L125.64 114.86 L126.14 115.27 L126.64 115.69 L127.14 116.10 L127.64 116.52 L128.14 116.93 L128.64 117.35 L129.14 117.76 L129.64 118.17 L130.15 118.58 L130.65 119.00 L131.15 119.41 L131.65 119.82 L132.15 120.23 L132.65 120.64 L133.15 121.05 L133.65 121.46 L134.15 121.86 L134.65 122.27 L135.15 122.68 L135.65 123.08 L136.15 123.49 L136.65 123.90 L137.15 124.31 L137.65 124.72 L138.15 125.13 L138.65 125.54 L139.15 125.94 L139.65 126.35 L140.15 126.75 L140.65 127.16 L141.16 127.56 L141.66 127.96 L142.16 128.35 L142.66 128.74 L143.16 129.13 L143.66 129.51 L144.16 129.89 L144.66 130.27 L145.16 130.64 L145.66 131.02 L146.16 131.39 L146.66 131.76 L147.16 132.13 L147.66 132.49 L148.16 132.86 L148.66 133.22 L149.16 133.59 L149.66 133.95 L150.16 134.31 L150.66 134.67 L151.16 135.03 L151.66 135.38 L152.17 135.74 L152.67 136.09 L153.17 136.44 L153.67 136.79 L154.17 137.14 L154.67 137.49 L155.17 137.83 L155.67 138.18 L156.17 138.52 L156.67 138.86 L157.17 139.20 L157.67 139.54 L158.17 139.88 L158.67 140.21 L159.17 140.55 L159.67 140.88 L160.17 141.21 L160.67 141.54 L161.17 141.86 L161.67 142.19 L162.17 142.51 L162.68 142.84 L163.18 143.16 L163.68 143.48 L164.18 143.79 L164.68 144.10 L165.18 144.40 L165.68 144.70 L166.18 145.00 L166.68 145.29 L167.18 145.58 L167.68 145.87 L168.18 146.16 L168.68 146.44 L169.18 146.73 L169.68 147.01 L170.18 147.30 L170.68 147.59 L171.18 147.87 L171.68 148.16 L172.18 148.46 L172.68 148.75 L173.18 149.05 L173.69 149.36 L174.19 149.67 L174.69 149.98 L175.19 150.30 L175.69 150.62 L176.19 150.95 L176.69 151.28 L177.19 151.61 L177.69 151.95 L178.19 152.29 L178.69 152.63 L179.19 152.97 L179.69 153.31 L180.19 153.66 L180.69 154.01 L181.19 154.36 L181.69 154.72 L182.19 155.07 L182.69 155.43 L183.19 155.79 L183.69 156.15 L184.19 156.52 L184.70 156.88 L185.20 157.25 L185.70 157.62 L186.20 157.99 L186.70 158.36 L187.20 158.73 L187.70 159.11 L188.20 159.48 L188.70 159.86 L189.20 160.24 L189.70 160.62 L190.20 161.01 L190.70 161.39 L191.20 161.77 L191.70 162.16 L192.20 162.55 L192.70 162.93 L193.20 163.32 L193.70 163.71 L194.20 164.10 L194.70 164.50 L195.20 164.89 L195.71 165.28 L196.21 165.68 L196.71 166.07 L197.21 166.47 L197.71 166.87 L198.21 167.27 L198.71 167.67 L199.21 168.08 L199.71 168.48 L200.21 168.89 L200.71 169.30 L201.21 169.71 L201.71 170.12 L202.21 170.53 L202.71 170.94 L203.21 171.36 L203.71 171.78 L204.21 172.20 L204.71 172.62 L205.21 173.04 L205.71 173.47 L206.21 173.89 L206.72 174.32 L207.22 174.75 L207.72 175.18 L208.22 175.61 L208.72 176.05 L209.22 176.48 L209.72 176.92 L210.22 177.36 L210.72 177.80 L211.22 178.25 L211.72 178.69 L212.22 179.14 L212.72 179.59 L213.22 180.04 L213.72 180.49 L214.22 180.95 L214.72 181.40 L215.22 181.86 L215.72 182.32 L216.22 182.78 L216.72 183.25 L217.22 183.71 L217.73 184.17 L218.23 184.64 L218.73 185.11 L219.23 185.58 L219.73 186.05 L220.23 186.53 L220.73 187.01 L221.23 187.49 L221.73 187.98 L222.23 188.47 L222.73 188.97 L223.23 189.47 L223.73 189.97 L224.23 190.48 L224.73 191.00 L225.23 191.52 L225.73 192.05 L226.23 192.58 L226.73 193.12 L227.23 193.67 L227.73 194.23 L228.24 194.79 L228.74 195.38 L229.24 195.98 L229.74 196.60 L230.24 197.23 L230.74 197.87 L231.24 198.52 L231.74 199.17 L232.24 199.83 L232.74 200.48 L233.24 201.14 L233.74 201.79 L234.24 202.44 L234.74 203.08 L235.24 203.71 L235.74 204.33 L236.24 204.93 L236.74 205.52 L237.24 206.10 L237.74 206.67 L238.24 207.23 L238.74 207.80 L239.25 208.37 L239.75 208.95 L240.25 209.54 L240.75 210.15 L241.25 210.78 L241.75 211.43 L242.25 212.12 L242.75 212.86 L243.25 213.64 L243.75 214.45 L244.25 215.29 L244.75 216.15 L245.25 217.01 L245.75 217.88 L246.25 218.74 L246.75 219.59 L247.25 220.42 L247.75 221.21 L248.25 221.97 L248.75 222.68 L249.25 223.34 L249.75 223.94 L250.26 224.48 L250.76 225.00 L251.26 225.50 L251.76 225.97 L252.26 226.43 L252.76 226.86 L253.26 227.27 L253.76 227.65 L254.26 228.01 L254.76 228.35 L255.26 228.66 L255.76 228.96 L256.26 229.24 L256.76 229.52 L257.26 229.78 L257.76 230.03 L258.26 230.26 L258.76 230.49 L259.26 230.70 L259.76 230.90 L260.26 231.08 L260.76 231.26 L261.27 231.43 L261.77 231.61 L262.27 231.79 L262.77 231.97 L263.27 232.14 L263.77 232.29 L264.27 232.42 L264.77 232.54 L265.27 232.62 L265.77 232.68 L266.27 232.70 L266.77 232.68 L267.27 232.61 L267.77 232.51 L268.27 232.38 L268.77 232.22 L269.27 232.04 L269.77 231.86 L270.27 231.67 L270.77 231.48 L271.27 231.30 L271.77 231.14 L272.28 231.00 L272.78 230.90 L273.28 230.83 L273.78 230.80 L274.28 230.81 L274.78 230.83 L275.28 230.87 L275.78 230.92 L276.28 230.99 L276.78 231.07 L277.28 231.16 L277.78 231.26 L278.28 231.38 L278.78 231.50 L279.28 231.64 L279.78 231.80 L280.28 232.10 L280.78 232.52 L281.28 233.04 L281.78 233.66 L282.28 234.35 L282.78 235.10 L283.29 235.90 L283.79 236.72 L284.29 237.54 L284.79 238.46 L285.29 239.51 L285.79 240.66 L286.29 241.92 L286.79 243.26 L287.29 244.68 L287.79 246.16 L288.29 247.69 L288.79 249.25 L289.29 250.88 L289.79 252.62 L290.29 254.48 L290.79 256.44 L291.29 258.50 L291.79 260.64 L292.29 262.85 L292.79 265.13 L293.29 267.51 L293.79 270.07 L294.30 272.87 L294.80 275.90 L295.30 279.08 L295.80 282.79 L296.30 287.47 L296.80 293.83 L297.30 302.18 L297.80 312.35 L298.30 324.16 L298.80 337.43 L299.30 352.00 M300.30 351.40 L300.54 344.42 L300.78 338.27 L301.03 332.77 L301.27 327.80 L301.51 323.28 L301.75 319.14 L302.00 315.32 L302.24 311.78 L302.48 308.48 L302.72 305.41 L302.97 302.53 L303.21 299.82 L303.45 297.27 L303.69 294.86 L303.94 292.59 L304.18 290.43 L304.42 288.39 L304.66 286.45 L304.91 284.61 L305.15 282.86 L305.39 281.19 L305.63 279.60 L305.87 278.09 L306.12 276.65 L306.36 275.27 L306.60 273.96 L306.84 272.71 L307.09 271.52 L307.33 270.38 L307.57 269.30 L307.81 268.27 L308.06 267.28 L308.30 266.35 L308.54 265.46 L308.78 264.61 L309.03 263.81 L309.27 263.05 L309.51 262.33 L309.75 261.65 L309.99 261.01 L310.24 260.40 L310.48 259.84 L310.72 259.30 L310.96 258.81 L311.21 258.35 L311.45 257.92 L311.69 257.53 L311.93 257.17 L312.18 256.84 L312.42 256.55 L312.66 256.28 L312.90 256.05 L313.15 255.85 L313.39 255.68 L313.63 255.54 L313.87 255.44 L314.12 255.36 L314.36 255.32 L314.60 255.30 L314.77 255.32 L314.95 255.36 L315.12 255.44 L315.29 255.54 L315.46 255.68 L315.64 255.85 L315.81 256.05 L315.98 256.28 L316.16 256.55 L316.33 256.84 L316.50 257.17 L316.67 257.53 L316.85 257.92 L317.02 258.35 L317.19 258.81 L317.37 259.30 L317.54 259.84 L317.71 260.40 L317.88 261.01 L318.06 261.65 L318.23 262.33 L318.40 263.05 L318.58 263.81 L318.75 264.61 L318.92 265.46 L319.09 266.35 L319.27 267.28 L319.44 268.27 L319.61 269.30 L319.79 270.38 L319.96 271.52 L320.13 272.71 L320.31 273.96 L320.48 275.27 L320.65 276.65 L320.82 278.09 L321.00 279.60 L321.17 281.19 L321.34 282.86 L321.52 284.61 L321.69 286.45 L321.86 288.39 L322.03 290.43 L322.21 292.59 L322.38 294.86 L322.55 297.27 L322.73 299.82 L322.90 302.53 L323.07 305.41 L323.24 308.48 L323.42 311.78 L323.59 315.32 L323.76 319.14 L323.94 323.28 L324.11 327.80 L324.28 332.77 L324.45 338.27 L324.63 344.42 L324.80 351.40 M325.30 351.40 L325.34 348.78 L325.38 346.33 L325.43 344.03 L325.47 341.86 L325.51 339.82 L325.55 337.88 L325.60 336.05 L325.64 334.31 L325.68 332.65 L325.72 331.08 L325.77 329.58 L325.81 328.14 L325.85 326.78 L325.89 325.47 L325.94 324.22 L325.98 323.02 L326.02 321.88 L326.06 320.78 L326.11 319.73 L326.15 318.72 L326.19 317.75 L326.23 316.83 L326.27 315.94 L326.32 315.09 L326.36 314.27 L326.40 313.49 L326.44 312.74 L326.49 312.03 L326.53 311.34 L326.57 310.68 L326.61 310.06 L326.66 309.46 L326.70 308.88 L326.74 308.34 L326.78 307.82 L326.83 307.32 L326.87 306.85 L326.91 306.40 L326.95 305.98 L326.99 305.58 L327.04 305.21 L327.08 304.85 L327.12 304.52 L327.16 304.21 L327.21 303.92 L327.25 303.65 L327.29 303.41 L327.33 303.18 L327.38 302.97 L327.42 302.79 L327.46 302.62 L327.50 302.47 L327.55 302.35 L327.59 302.24 L327.63 302.15 L327.67 302.09 L327.72 302.04 L327.76 302.01 L327.80 302.00 L327.86 302.01 L327.92 302.04 L327.97 302.09 L328.03 302.15 L328.09 302.24 L328.15 302.35 L328.20 302.47 L328.26 302.62 L328.32 302.79 L328.38 302.97 L328.43 303.18 L328.49 303.41 L328.55 303.65 L328.61 303.92 L328.66 304.21 L328.72 304.52 L328.78 304.85 L328.84 305.21 L328.89 305.58 L328.95 305.98 L329.01 306.40 L329.07 306.85 L329.13 307.32 L329.18 307.82 L329.24 308.34 L329.30 308.88 L329.36 309.46 L329.41 310.06 L329.47 310.68 L329.53 311.34 L329.59 312.03 L329.64 312.74 L329.70 313.49 L329.76 314.27 L329.82 315.09 L329.87 315.94 L329.93 316.83 L329.99 317.75 L330.05 318.72 L330.11 319.73 L330.16 320.78 L330.22 321.88 L330.28 323.02 L330.34 324.22 L330.39 325.47 L330.45 326.78 L330.51 328.14 L330.57 329.58 L330.62 331.08 L330.68 332.65 L330.74 334.31 L330.80 336.05 L330.85 337.88 L330.91 339.82 L330.97 341.86 L331.03 344.03 L331.08 346.33 L331.14 348.78 L331.20 351.40 M331.80 351.40 L331.92 346.54 L332.03 342.10 L332.15 338.02 L332.26 334.26 L332.38 330.76 L332.49 327.51 L332.61 324.46 L332.72 321.60 L332.84 318.92 L332.95 316.38 L333.07 313.99 L333.18 311.72 L333.30 309.57 L333.41 307.53 L333.53 305.59 L333.64 303.75 L333.76 301.99 L333.87 300.31 L333.99 298.72 L334.11 297.19 L334.22 295.73 L334.34 294.34 L334.45 293.01 L334.57 291.74 L334.68 290.53 L334.80 289.36 L334.91 288.25 L335.03 287.19 L335.14 286.18 L335.26 285.22 L335.37 284.29 L335.49 283.41 L335.60 282.58 L335.72 281.78 L335.83 281.02 L335.95 280.30 L336.06 279.61 L336.18 278.96 L336.29 278.35 L336.41 277.77 L336.53 277.23 L336.64 276.71 L336.76 276.23 L336.87 275.78 L336.99 275.37 L337.10 274.98 L337.22 274.62 L337.33 274.30 L337.45 274.00 L337.56 273.73 L337.68 273.49 L337.79 273.28 L337.91 273.10 L338.02 272.95 L338.14 272.82 L338.25 272.72 L338.37 272.66 L338.48 272.61 L338.60 272.60 L338.70 272.61 L338.80 272.66 L338.91 272.72 L339.01 272.82 L339.11 272.95 L339.21 273.10 L339.31 273.28 L339.41 273.49 L339.52 273.73 L339.62 274.00 L339.72 274.30 L339.82 274.62 L339.92 274.98 L340.02 275.37 L340.13 275.78 L340.23 276.23 L340.33 276.71 L340.43 277.23 L340.53 277.77 L340.63 278.35 L340.74 278.96 L340.84 279.61 L340.94 280.30 L341.04 281.02 L341.14 281.78 L341.24 282.58 L341.35 283.41 L341.45 284.29 L341.55 285.22 L341.65 286.18 L341.75 287.19 L341.85 288.25 L341.96 289.36 L342.06 290.53 L342.16 291.74 L342.26 293.01 L342.36 294.34 L342.46 295.73 L342.57 297.19 L342.67 298.72 L342.77 300.31 L342.87 301.99 L342.97 303.75 L343.07 305.59 L343.18 307.53 L343.28 309.57 L343.38 311.72 L343.48 313.99 L343.58 316.38 L343.68 318.92 L343.79 321.60 L343.89 324.46 L343.99 327.51 L344.09 330.76 L344.19 334.26 L344.29 338.02 L344.40 342.10 L344.50 346.54 L344.60 351.40 M345.20 351.40 L345.24 349.45 L345.28 347.61 L345.32 345.85 L345.36 344.18 L345.40 342.59 L345.44 341.07 L345.48 339.62 L345.53 338.23 L345.57 336.90 L345.61 335.63 L345.65 334.41 L345.69 333.24 L345.73 332.11 L345.77 331.04 L345.81 330.00 L345.85 329.01 L345.89 328.05 L345.93 327.13 L345.97 326.25 L346.01 325.40 L346.05 324.58 L346.09 323.80 L346.14 323.05 L346.18 322.32 L346.22 321.63 L346.26 320.96 L346.30 320.32 L346.34 319.70 L346.38 319.11 L346.42 318.55 L346.46 318.01 L346.50 317.49 L346.54 316.99 L346.58 316.52 L346.62 316.07 L346.66 315.64 L346.71 315.23 L346.75 314.85 L346.79 314.48 L346.83 314.13 L346.87 313.80 L346.91 313.49 L346.95 313.20 L346.99 312.93 L347.03 312.68 L347.07 312.45 L347.11 312.23 L347.15 312.03 L347.19 311.85 L347.23 311.69 L347.27 311.54 L347.32 311.42 L347.36 311.31 L347.40 311.21 L347.44 311.14 L347.48 311.08 L347.52 311.03 L347.56 311.01 L347.60 311.00 L347.64 311.01 L347.69 311.03 L347.73 311.08 L347.78 311.14 L347.82 311.21 L347.86 311.31 L347.91 311.42 L347.95 311.54 L348.00 311.69 L348.04 311.85 L348.08 312.03 L348.13 312.23 L348.17 312.45 L348.22 312.68 L348.26 312.93 L348.31 313.20 L348.35 313.49 L348.39 313.80 L348.44 314.13 L348.48 314.48 L348.53 314.85 L348.57 315.23 L348.61 315.64 L348.66 316.07 L348.70 316.52 L348.75 316.99 L348.79 317.49 L348.83 318.01 L348.88 318.55 L348.92 319.11 L348.97 319.70 L349.01 320.32 L349.05 320.96 L349.10 321.63 L349.14 322.32 L349.19 323.05 L349.23 323.80 L349.27 324.58 L349.32 325.40 L349.36 326.25 L349.41 327.13 L349.45 328.05 L349.49 329.01 L349.54 330.00 L349.58 331.04 L349.63 332.11 L349.67 333.24 L349.72 334.41 L349.76 335.63 L349.80 336.90 L349.85 338.23 L349.89 339.62 L349.94 341.07 L349.98 342.59 L350.02 344.18 L350.07 345.85 L350.11 347.61 L350.16 349.45 L350.20 351.40 M350.80 351.40 L350.86 348.12 L350.92 345.04 L350.98 342.15 L351.04 339.44 L351.11 336.87 L351.17 334.45 L351.23 332.15 L351.29 329.97 L351.35 327.89 L351.41 325.92 L351.47 324.04 L351.53 322.24 L351.59 320.53 L351.65 318.89 L351.72 317.32 L351.78 315.82 L351.84 314.39 L351.90 313.01 L351.96 311.70 L352.02 310.44 L352.08 309.23 L352.14 308.07 L352.20 306.95 L352.26 305.89 L352.33 304.87 L352.39 303.89 L352.45 302.95 L352.51 302.05 L352.57 301.19 L352.63 300.37 L352.69 299.58 L352.75 298.83 L352.81 298.12 L352.87 297.43 L352.94 296.78 L353.00 296.16 L353.06 295.57 L353.12 295.01 L353.18 294.49 L353.24 293.99 L353.30 293.51 L353.36 293.07 L353.42 292.65 L353.48 292.27 L353.55 291.90 L353.61 291.57 L353.67 291.26 L353.73 290.98 L353.79 290.72 L353.85 290.48 L353.91 290.28 L353.97 290.09 L354.03 289.94 L354.09 289.80 L354.16 289.69 L354.22 289.61 L354.28 289.55 L354.34 289.51 L354.40 289.50 L354.49 289.51 L354.57 289.55 L354.66 289.61 L354.75 289.69 L354.83 289.80 L354.92 289.94 L355.01 290.09 L355.09 290.28 L355.18 290.48 L355.26 290.72 L355.35 290.98 L355.44 291.26 L355.52 291.57 L355.61 291.90 L355.70 292.27 L355.78 292.65 L355.87 293.07 L355.96 293.51 L356.04 293.99 L356.13 294.49 L356.22 295.01 L356.30 295.57 L356.39 296.16 L356.47 296.78 L356.56 297.43 L356.65 298.12 L356.73 298.83 L356.82 299.58 L356.91 300.37 L356.99 301.19 L357.08 302.05 L357.17 302.95 L357.25 303.89 L357.34 304.87 L357.43 305.89 L357.51 306.95 L357.60 308.07 L357.68 309.23 L357.77 310.44 L357.86 311.70 L357.94 313.01 L358.03 314.39 L358.12 315.82 L358.20 317.32 L358.29 318.89 L358.38 320.53 L358.46 322.24 L358.55 324.04 L358.64 325.92 L358.72 327.89 L358.81 329.97 L358.89 332.15 L358.98 334.45 L359.07 336.87 L359.15 339.44 L359.24 342.15 L359.33 345.04 L359.41 348.12 L359.50 351.40 M360.00 351.40 L360.03 350.49 L360.05 349.62 L360.08 348.77 L360.10 347.95 L360.13 347.15 L360.15 346.38 L360.18 345.63 L360.20 344.91 L360.23 344.21 L360.25 343.53 L360.28 342.87 L360.31 342.23 L360.33 341.61 L360.36 341.01 L360.38 340.43 L360.41 339.87 L360.43 339.33 L360.46 338.80 L360.48 338.29 L360.51 337.80 L360.53 337.32 L360.56 336.86 L360.58 336.42 L360.61 335.99 L360.64 335.57 L360.66 335.17 L360.69 334.79 L360.71 334.42 L360.74 334.06 L360.76 333.71 L360.79 333.38 L360.81 333.07 L360.84 332.76 L360.86 332.47 L360.89 332.19 L360.92 331.92 L360.94 331.67 L360.97 331.43 L360.99 331.20 L361.02 330.98 L361.04 330.78 L361.07 330.58 L361.09 330.40 L361.12 330.23 L361.14 330.07 L361.17 329.92 L361.19 329.78 L361.22 329.66 L361.25 329.54 L361.27 329.44 L361.30 329.35 L361.32 329.27 L361.35 329.19 L361.37 329.14 L361.40 329.09 L361.42 329.05 L361.45 329.02 L361.47 329.01 L361.50 329.00 L361.53 329.01 L361.57 329.02 L361.60 329.05 L361.64 329.09 L361.67 329.14 L361.70 329.19 L361.74 329.27 L361.77 329.35 L361.81 329.44 L361.84 329.54 L361.87 329.66 L361.91 329.78 L361.94 329.92 L361.97 330.07 L362.01 330.23 L362.04 330.40 L362.08 330.58 L362.11 330.78 L362.14 330.98 L362.18 331.20 L362.21 331.43 L362.25 331.67 L362.28 331.92 L362.31 332.19 L362.35 332.47 L362.38 332.76 L362.42 333.07 L362.45 333.38 L362.48 333.71 L362.52 334.06 L362.55 334.42 L362.58 334.79 L362.62 335.17 L362.65 335.57 L362.69 335.99 L362.72 336.42 L362.75 336.86 L362.79 337.32 L362.82 337.80 L362.86 338.29 L362.89 338.80 L362.92 339.33 L362.96 339.87 L362.99 340.43 L363.03 341.01 L363.06 341.61 L363.09 342.23 L363.13 342.87 L363.16 343.53 L363.19 344.21 L363.23 344.91 L363.26 345.63 L363.30 346.38 L363.33 347.15 L363.36 347.95 L363.40 348.77 L363.43 349.62 L363.47 350.49 L363.50 351.40 M364.00 351.40 L364.07 349.19 L364.13 347.08 L364.20 345.07 L364.26 343.15 L364.33 341.32 L364.40 339.57 L364.46 337.89 L364.53 336.28 L364.59 334.74 L364.66 333.26 L364.73 331.83 L364.79 330.47 L364.86 329.16 L364.93 327.89 L364.99 326.68 L365.06 325.52 L365.12 324.39 L365.19 323.31 L365.26 322.27 L365.32 321.28 L365.39 320.31 L365.45 319.39 L365.52 318.50 L365.59 317.64 L365.65 316.82 L365.72 316.03 L365.78 315.27 L365.85 314.55 L365.92 313.85 L365.98 313.18 L366.05 312.54 L366.12 311.92 L366.18 311.33 L366.25 310.77 L366.31 310.24 L366.38 309.73 L366.45 309.24 L366.51 308.78 L366.58 308.34 L366.64 307.93 L366.71 307.54 L366.78 307.17 L366.84 306.83 L366.91 306.50 L366.97 306.20 L367.04 305.92 L367.11 305.67 L367.17 305.43 L367.24 305.22 L367.31 305.02 L367.37 304.85 L367.44 304.70 L367.50 304.56 L367.57 304.45 L367.64 304.36 L367.70 304.29 L367.77 304.24 L367.83 304.21 L367.90 304.20 L367.98 304.21 L368.06 304.24 L368.13 304.29 L368.21 304.36 L368.29 304.45 L368.37 304.56 L368.45 304.70 L368.52 304.85 L368.60 305.02 L368.68 305.22 L368.76 305.43 L368.84 305.67 L368.91 305.92 L368.99 306.20 L369.07 306.50 L369.15 306.83 L369.23 307.17 L369.30 307.54 L369.38 307.93 L369.46 308.34 L369.54 308.78 L369.62 309.24 L369.69 309.73 L369.77 310.24 L369.85 310.77 L369.93 311.33 L370.01 311.92 L370.08 312.54 L370.16 313.18 L370.24 313.85 L370.32 314.55 L370.39 315.27 L370.47 316.03 L370.55 316.82 L370.63 317.64 L370.71 318.50 L370.78 319.39 L370.86 320.31 L370.94 321.28 L371.02 322.27 L371.10 323.31 L371.17 324.39 L371.25 325.52 L371.33 326.68 L371.41 327.89 L371.49 329.16 L371.56 330.47 L371.64 331.83 L371.72 333.26 L371.80 334.74 L371.88 336.28 L371.95 337.89 L372.03 339.57 L372.11 341.32 L372.19 343.15 L372.27 345.07 L372.34 347.08 L372.42 349.19 L372.50 351.40 M375.00 351.40 L375.07 350.15 L375.14 348.94 L375.21 347.78 L375.28 346.67 L375.36 345.59 L375.43 344.55 L375.50 343.56 L375.57 342.59 L375.64 341.66 L375.71 340.77 L375.78 339.90 L375.85 339.06 L375.93 338.26 L376.00 337.48 L376.07 336.73 L376.14 336.00 L376.21 335.30 L376.28 334.62 L376.35 333.97 L376.42 333.34 L376.49 332.73 L376.57 332.14 L376.64 331.58 L376.71 331.03 L376.78 330.51 L376.85 330.00 L376.92 329.51 L376.99 329.05 L377.06 328.60 L377.14 328.16 L377.21 327.75 L377.28 327.35 L377.35 326.97 L377.42 326.60 L377.49 326.26 L377.56 325.92 L377.63 325.61 L377.71 325.31 L377.78 325.02 L377.85 324.75 L377.92 324.50 L377.99 324.25 L378.06 324.03 L378.13 323.82 L378.20 323.62 L378.27 323.44 L378.35 323.27 L378.42 323.11 L378.49 322.97 L378.56 322.84 L378.63 322.73 L378.70 322.63 L378.77 322.54 L378.84 322.47 L378.92 322.41 L378.99 322.36 L379.06 322.33 L379.13 322.31 L379.20 322.30 L379.26 322.31 L379.33 322.33 L379.39 322.36 L379.46 322.41 L379.52 322.47 L379.59 322.54 L379.65 322.63 L379.72 322.73 L379.78 322.84 L379.84 322.97 L379.91 323.11 L379.97 323.27 L380.04 323.44 L380.10 323.62 L380.17 323.82 L380.23 324.03 L380.29 324.25 L380.36 324.50 L380.42 324.75 L380.49 325.02 L380.55 325.31 L380.62 325.61 L380.68 325.92 L380.75 326.26 L380.81 326.60 L380.87 326.97 L380.94 327.35 L381.00 327.75 L381.07 328.16 L381.13 328.60 L381.20 329.05 L381.26 329.51 L381.33 330.00 L381.39 330.51 L381.45 331.03 L381.52 331.58 L381.58 332.14 L381.65 332.73 L381.71 333.34 L381.78 333.97 L381.84 334.62 L381.91 335.30 L381.97 336.00 L382.03 336.73 L382.10 337.48 L382.16 338.26 L382.23 339.06 L382.29 339.90 L382.36 340.77 L382.42 341.66 L382.48 342.59 L382.55 343.56 L382.61 344.55 L382.68 345.59 L382.74 346.67 L382.81 347.78 L382.87 348.94 L382.94 350.15 L383.00 351.40 M385.50 351.40 L385.55 350.95 L385.59 350.52 L385.64 350.09 L385.69 349.67 L385.74 349.27 L385.78 348.87 L385.83 348.49 L385.88 348.11 L385.93 347.75 L385.97 347.39 L386.02 347.04 L386.07 346.70 L386.12 346.37 L386.16 346.05 L386.21 345.74 L386.26 345.44 L386.31 345.14 L386.35 344.85 L386.40 344.57 L386.45 344.30 L386.50 344.04 L386.54 343.79 L386.59 343.54 L386.64 343.30 L386.69 343.07 L386.73 342.84 L386.78 342.62 L386.83 342.42 L386.88 342.21 L386.92 342.02 L386.97 341.83 L387.02 341.65 L387.07 341.48 L387.11 341.31 L387.16 341.15 L387.21 341.00 L387.26 340.85 L387.30 340.71 L387.35 340.58 L387.40 340.45 L387.45 340.33 L387.49 340.22 L387.54 340.12 L387.59 340.02 L387.64 339.92 L387.68 339.84 L387.73 339.76 L387.78 339.68 L387.83 339.62 L387.87 339.56 L387.92 339.50 L387.97 339.46 L388.02 339.41 L388.06 339.38 L388.11 339.35 L388.16 339.33 L388.21 339.31 L388.25 339.30 L388.30 339.30 L388.35 339.30 L388.39 339.31 L388.44 339.33 L388.48 339.35 L388.53 339.38 L388.57 339.41 L388.62 339.46 L388.67 339.50 L388.71 339.56 L388.76 339.62 L388.80 339.68 L388.85 339.76 L388.89 339.84 L388.94 339.92 L388.99 340.02 L389.03 340.12 L389.08 340.22 L389.12 340.33 L389.17 340.45 L389.22 340.58 L389.26 340.71 L389.31 340.85 L389.35 341.00 L389.40 341.15 L389.44 341.31 L389.49 341.48 L389.54 341.65 L389.58 341.83 L389.63 342.02 L389.67 342.21 L389.72 342.42 L389.76 342.62 L389.81 342.84 L389.86 343.07 L389.90 343.30 L389.95 343.54 L389.99 343.79 L390.04 344.04 L390.08 344.30 L390.13 344.57 L390.18 344.85 L390.22 345.14 L390.27 345.44 L390.31 345.74 L390.36 346.05 L390.41 346.37 L390.45 346.70 L390.50 347.04 L390.54 347.39 L390.59 347.75 L390.63 348.11 L390.68 348.49 L390.73 348.87 L390.77 349.27 L390.82 349.67 L390.86 350.09 L390.91 350.52 L390.95 350.95 L391.00 351.40" stroke="#ff0000"/>
</g>
<rect x="80.7" y="18.0" width="409.3" height="327.4" fill="none" stroke="#000" stroke-width="1.55"/><g stroke="#000" stroke-width="1.35" fill="none"><path d="M87.02 345.4 v-2.2 M87.02 18.0 v2.2"/>
<path d="M104.26 345.4 v-2.2 M104.26 18.0 v2.2"/>
<path d="M117.64 345.4 v-2.2 M117.64 18.0 v2.2"/>
<path d="M128.57 345.4 v-2.2 M128.57 18.0 v2.2"/>
<path d="M137.82 345.4 v-2.2 M137.82 18.0 v2.2"/>
<path d="M145.82 345.4 v-2.2 M145.82 18.0 v2.2"/>
<path d="M152.88 345.4 v-2.2 M152.88 18.0 v2.2"/>
<path d="M159.20 345.4 v-4.2 M159.20 18.0 v4.2"/>
<path d="M200.76 345.4 v-2.2 M200.76 18.0 v2.2"/>
<path d="M225.07 345.4 v-2.2 M225.07 18.0 v2.2"/>
<path d="M242.31 345.4 v-2.2 M242.31 18.0 v2.2"/>
<path d="M255.69 345.4 v-2.2 M255.69 18.0 v2.2"/>
<path d="M266.62 345.4 v-2.2 M266.62 18.0 v2.2"/>
<path d="M275.87 345.4 v-2.2 M275.87 18.0 v2.2"/>
<path d="M283.87 345.4 v-2.2 M283.87 18.0 v2.2"/>
<path d="M290.93 345.4 v-2.2 M290.93 18.0 v2.2"/>
<path d="M297.25 345.4 v-4.2 M297.25 18.0 v4.2"/>
<path d="M338.81 345.4 v-2.2 M338.81 18.0 v2.2"/>
<path d="M363.12 345.4 v-2.2 M363.12 18.0 v2.2"/>
<path d="M380.36 345.4 v-2.2 M380.36 18.0 v2.2"/>
<path d="M393.74 345.4 v-2.2 M393.74 18.0 v2.2"/>
<path d="M404.67 345.4 v-2.2 M404.67 18.0 v2.2"/>
<path d="M413.92 345.4 v-2.2 M413.92 18.0 v2.2"/>
<path d="M421.92 345.4 v-2.2 M421.92 18.0 v2.2"/>
<path d="M428.98 345.4 v-2.2 M428.98 18.0 v2.2"/>
<path d="M435.30 345.4 v-4.2 M435.30 18.0 v4.2"/>
<path d="M476.86 345.4 v-2.2 M476.86 18.0 v2.2"/>
<path d="M80.7 344.05 h2.2 M490.0 344.05 h-2.2"/>
<path d="M80.7 340.86 h2.2 M490.0 340.86 h-2.2"/>
<path d="M80.7 338.00 h4.2 M490.0 338.00 h-4.2"/>
<path d="M80.7 319.22 h2.2 M490.0 319.22 h-2.2"/>
<path d="M80.7 308.23 h2.2 M490.0 308.23 h-2.2"/>
<path d="M80.7 300.43 h2.2 M490.0 300.43 h-2.2"/>
<path d="M80.7 294.38 h2.2 M490.0 294.38 h-2.2"/>
<path d="M80.7 289.44 h2.2 M490.0 289.44 h-2.2"/>
<path d="M80.7 285.27 h2.2 M490.0 285.27 h-2.2"/>
<path d="M80.7 281.65 h2.2 M490.0 281.65 h-2.2"/>
<path d="M80.7 278.46 h2.2 M490.0 278.46 h-2.2"/>
<path d="M80.7 275.60 h4.2 M490.0 275.60 h-4.2"/>
<path d="M80.7 256.82 h2.2 M490.0 256.82 h-2.2"/>
<path d="M80.7 245.83 h2.2 M490.0 245.83 h-2.2"/>
<path d="M80.7 238.03 h2.2 M490.0 238.03 h-2.2"/>
<path d="M80.7 231.98 h2.2 M490.0 231.98 h-2.2"/>
<path d="M80.7 227.04 h2.2 M490.0 227.04 h-2.2"/>
<path d="M80.7 222.87 h2.2 M490.0 222.87 h-2.2"/>
<path d="M80.7 219.25 h2.2 M490.0 219.25 h-2.2"/>
<path d="M80.7 216.06 h2.2 M490.0 216.06 h-2.2"/>
<path d="M80.7 213.20 h4.2 M490.0 213.20 h-4.2"/>
<path d="M80.7 194.42 h2.2 M490.0 194.42 h-2.2"/>
<path d="M80.7 183.43 h2.2 M490.0 183.43 h-2.2"/>
<path d="M80.7 175.63 h2.2 M490.0 175.63 h-2.2"/>
<path d="M80.7 169.58 h2.2 M490.0 169.58 h-2.2"/>
<path d="M80.7 164.64 h2.2 M490.0 164.64 h-2.2"/>
<path d="M80.7 160.47 h2.2 M490.0 160.47 h-2.2"/>
<path d="M80.7 156.85 h2.2 M490.0 156.85 h-2.2"/>
<path d="M80.7 153.66 h2.2 M490.0 153.66 h-2.2"/>
<path d="M80.7 150.80 h4.2 M490.0 150.80 h-4.2"/>
<path d="M80.7 132.02 h2.2 M490.0 132.02 h-2.2"/>
<path d="M80.7 121.03 h2.2 M490.0 121.03 h-2.2"/>
<path d="M80.7 113.23 h2.2 M490.0 113.23 h-2.2"/>
<path d="M80.7 107.18 h2.2 M490.0 107.18 h-2.2"/>
<path d="M80.7 102.24 h2.2 M490.0 102.24 h-2.2"/>
<path d="M80.7 98.07 h2.2 M490.0 98.07 h-2.2"/>
<path d="M80.7 94.45 h2.2 M490.0 94.45 h-2.2"/>
<path d="M80.7 91.26 h2.2 M490.0 91.26 h-2.2"/>
<path d="M80.7 88.40 h4.2 M490.0 88.40 h-4.2"/>
<path d="M80.7 69.62 h2.2 M490.0 69.62 h-2.2"/>
<path d="M80.7 58.63 h2.2 M490.0 58.63 h-2.2"/>
<path d="M80.7 50.83 h2.2 M490.0 50.83 h-2.2"/>
<path d="M80.7 44.78 h2.2 M490.0 44.78 h-2.2"/>
<path d="M80.7 39.84 h2.2 M490.0 39.84 h-2.2"/>
<path d="M80.7 35.67 h2.2 M490.0 35.67 h-2.2"/>
<path d="M80.7 32.05 h2.2 M490.0 32.05 h-2.2"/>
<path d="M80.7 28.86 h2.2 M490.0 28.86 h-2.2"/>
<path d="M80.7 26.00 h4.2 M490.0 26.00 h-4.2"/></g>
<text x="66.22" y="32.90" font-size="16.8">1</text>
<text x="41.72" y="95.30" font-size="16.8" letter-spacing="-0.551">10</text>
<text x="61.69" y="88.20" font-size="12.3" letter-spacing="-1.217">−1</text>
<text x="41.72" y="157.70" font-size="16.8" letter-spacing="-0.551">10</text>
<text x="61.69" y="150.60" font-size="12.3" letter-spacing="-1.198">−2</text>
<text x="41.72" y="220.10" font-size="16.8" letter-spacing="-0.551">10</text>
<text x="61.69" y="213.00" font-size="12.3" letter-spacing="-1.277">−3</text>
<text x="41.72" y="282.50" font-size="16.8" letter-spacing="-0.551">10</text>
<text x="61.69" y="275.40" font-size="12.3" letter-spacing="-1.457">−4</text>
<text x="41.72" y="344.90" font-size="16.8" letter-spacing="-0.551">10</text>
<text x="61.69" y="337.80" font-size="12.3" letter-spacing="-1.301">−5</text>
<text x="142.02" y="367.60" font-size="16.8" letter-spacing="-0.251">10</text>
<text x="162.79" y="360.60" font-size="12.3" letter-spacing="-0.498">−2</text>
<text x="280.07" y="367.60" font-size="16.8" letter-spacing="-0.251">10</text>
<text x="300.84" y="360.60" font-size="12.3" letter-spacing="-0.517">−1</text>
<text x="431.42" y="367.60" font-size="16.8">1</text>
<text x="243.52" y="397.80" font-size="16.8" font-style="italic">k</text>
<text x="258.20" y="397.80" font-size="16.8">[</text>
<text x="263.42" y="397.80" font-size="16.8" font-style="italic">h</text>
<text x="273.39" y="392.80" font-size="12.3" letter-spacing="0.183">−1</text>
<text x="287.52" y="397.80" font-size="16.8" letter-spacing="1.223">Mpc]</text>
<g transform="translate(25.3 244.7) rotate(-90)">
<text x="-0.32" y="0.00" font-size="16.8" font-style="italic">P</text>
<text x="10.64" y="5.80" font-size="17.5" font-style="italic" class="ser">ℓ</text>
<text x="19.56" y="0.00" font-size="16.8" letter-spacing="-0.129">(k,d)</text>
<text x="60.50" y="0.00" font-size="16.8">/</text>
<text x="70.68" y="0.00" font-size="16.8" font-style="italic">P</text>
<text x="84.71" y="-7.90" font-size="9.2" letter-spacing="0.846">pp</text>
<text x="98.44" y="5.80" font-size="17.5" font-style="italic" class="ser">ℓ</text>
<text x="106.36" y="0.00" font-size="16.8" letter-spacing="0.297">(k)</text>
</g>
<text x="137.46" y="51.60" font-size="16.8" font-style="italic">z</text>
<text x="150.28" y="51.60" font-size="16.8">=</text>
<text x="164.54" y="51.60" font-size="16.8" letter-spacing="0.020">0.3</text>
<path d="M367 58.5 H395" stroke="#0000ff" stroke-width="1.3"/>
<text x="403.61" y="59.50" font-size="19" font-style="italic" class="ser">ℓ</text>
<text style="stroke:none" x="416.60" y="62.40" font-size="20" class="ser" fill="#2a2a2a">=</text>
<text x="432.99" y="59.50" font-size="18.6" class="ser">0</text>
<path d="M367 85.4 H395" stroke="#ff0000" stroke-width="1.3"/>
<text x="403.61" y="86.40" font-size="19" font-style="italic" class="ser">ℓ</text>
<text style="stroke:none" x="416.60" y="89.30" font-size="20" class="ser" fill="#2a2a2a">=</text>
<text x="432.88" y="86.40" font-size="18.6" class="ser">2</text>
<path d="M367 113.0 H395" stroke="#00a000" stroke-width="1.3"/>
<text x="403.61" y="114.00" font-size="19" font-style="italic" class="ser">ℓ</text>
<text style="stroke:none" x="416.60" y="116.90" font-size="20" class="ser" fill="#2a2a2a">=</text>
<text x="433.34" y="114.00" font-size="18.6" class="ser">4</text>
</g>
<g transform="translate(492.0 0)">
<path d="M80.7 150.80 H490.0" stroke="#dadada" stroke-width="1.4"/>
<path d="M80.7 213.20 H490.0" stroke="#dadada" stroke-width="1.4"/>
<g fill="none" stroke-width="2.55" clip-path="url(#clip)">
<path d="M80.60 88.30 L81.10 88.67 L81.60 89.04 L82.10 89.41 L82.60 89.78 L83.10 90.15 L83.60 90.52 L84.10 90.89 L84.60 91.26 L85.10 91.63 L85.60 91.99 L86.10 92.36 L86.60 92.73 L87.10 93.10 L87.60 93.47 L88.10 93.84 L88.60 94.21 L89.10 94.58 L89.60 94.95 L90.10 95.32 L90.61 95.69 L91.11 96.06 L91.61 96.43 L92.11 96.79 L92.61 97.16 L93.11 97.53 L93.61 97.90 L94.11 98.27 L94.61 98.64 L95.11 99.01 L95.61 99.38 L96.11 99.75 L96.61 100.11 L97.11 100.48 L97.61 100.85 L98.11 101.22 L98.61 101.59 L99.11 101.96 L99.61 102.32 L100.11 102.69 L100.61 103.05 L101.11 103.42 L101.61 103.78 L102.11 104.15 L102.61 104.51 L103.11 104.87 L103.61 105.24 L104.11 105.60 L104.61 105.97 L105.11 106.33 L105.61 106.69 L106.11 107.06 L106.61 107.42 L107.11 107.79 L107.61 108.15 L108.11 108.52 L108.61 108.88 L109.11 109.25 L109.61 109.62 L110.11 109.99 L110.62 110.36 L111.12 110.73 L111.62 111.10 L112.12 111.47 L112.62 111.85 L113.12 112.22 L113.62 112.60 L114.12 112.98 L114.62 113.36 L115.12 113.74 L115.62 114.12 L116.12 114.50 L116.62 114.89 L117.12 115.28 L117.62 115.67 L118.12 116.06 L118.62 116.46 L119.12 116.85 L119.62 117.25 L120.12 117.65 L120.62 118.05 L121.12 118.45 L121.62 118.85 L122.12 119.25 L122.62 119.66 L123.12 120.06 L123.62 120.46 L124.12 120.87 L124.62 121.27 L125.12 121.68 L125.62 122.08 L126.12 122.49 L126.62 122.89 L127.12 123.30 L127.62 123.70 L128.12 124.11 L128.62 124.51 L129.12 124.92 L129.62 125.32 L130.12 125.72 L130.63 126.12 L131.13 126.52 L131.63 126.92 L132.13 127.32 L132.63 127.71 L133.13 128.11 L133.63 128.50 L134.13 128.89 L134.63 129.28 L135.13 129.67 L135.63 130.05 L136.13 130.44 L136.63 130.82 L137.13 131.21 L137.63 131.59 L138.13 131.97 L138.63 132.35 L139.13 132.73 L139.63 133.11 L140.13 133.49 L140.63 133.87 L141.13 134.24 L141.63 134.62 L142.13 134.99 L142.63 135.36 L143.13 135.73 L143.63 136.10 L144.13 136.47 L144.63 136.83 L145.13 137.20 L145.63 137.56 L146.13 137.92 L146.63 138.28 L147.13 138.64 L147.63 139.00 L148.13 139.36 L148.63 139.72 L149.13 140.07 L149.63 140.43 L150.14 140.78 L150.64 141.14 L151.14 141.49 L151.64 141.83 L152.14 142.18 L152.64 142.53 L153.14 142.87 L153.64 143.21 L154.14 143.55 L154.64 143.89 L155.14 144.22 L155.64 144.56 L156.14 144.89 L156.64 145.22 L157.14 145.55 L157.64 145.87 L158.14 146.19 L158.64 146.52 L159.14 146.84 L159.64 147.16 L160.14 147.47 L160.64 147.79 L161.14 148.10 L161.64 148.42 L162.14 148.73 L162.64 149.04 L163.14 149.35 L163.64 149.66 L164.14 149.97 L164.64 150.27 L165.14 150.58 L165.64 150.89 L166.14 151.19 L166.64 151.50 L167.14 151.80 L167.64 152.11 L168.14 152.41 L168.64 152.71 L169.14 153.02 L169.64 153.32 L170.15 153.62 L170.65 153.92 L171.15 154.21 L171.65 154.51 L172.15 154.80 L172.65 155.09 L173.15 155.38 L173.65 155.66 L174.15 155.95 L174.65 156.23 L175.15 156.51 L175.65 156.78 L176.15 157.05 L176.65 157.32 L177.15 157.59 L177.65 157.86 L178.15 158.13 L178.65 158.40 L179.15 158.66 L179.65 158.92 L180.15 159.18 L180.65 159.45 L181.15 159.70 L181.65 159.96 L182.15 160.22 L182.65 160.47 L183.15 160.73 L183.65 160.98 L184.15 161.24 L184.65 161.49 L185.15 161.74 L185.65 161.99 L186.15 162.24 L186.65 162.48 L187.15 162.73 L187.65 162.98 L188.15 163.22 L188.65 163.47 L189.15 163.71 L189.65 163.95 L190.16 164.20 L190.66 164.44 L191.16 164.68 L191.66 164.92 L192.16 165.16 L192.66 165.40 L193.16 165.64 L193.66 165.88 L194.16 166.12 L194.66 166.35 L195.16 166.59 L195.66 166.83 L196.16 167.06 L196.66 167.30 L197.16 167.53 L197.66 167.76 L198.16 168.00 L198.66 168.23 L199.16 168.46 L199.66 168.69 L200.16 168.91 L200.66 169.14 L201.16 169.37 L201.66 169.59 L202.16 169.82 L202.66 170.04 L203.16 170.26 L203.66 170.49 L204.16 170.71 L204.66 170.93 L205.16 171.15 L205.66 171.37 L206.16 171.59 L206.66 171.81 L207.16 172.03 L207.66 172.25 L208.16 172.47 L208.66 172.69 L209.16 172.91 L209.67 173.13 L210.17 173.35 L210.67 173.57 L211.17 173.79 L211.67 174.01 L212.17 174.23 L212.67 174.45 L213.17 174.68 L213.67 174.90 L214.17 175.12 L214.67 175.34 L215.17 175.56 L215.67 175.79 L216.17 176.01 L216.67 176.24 L217.17 176.46 L217.67 176.69 L218.17 176.92 L218.67 177.15 L219.17 177.38 L219.67 177.61 L220.17 177.84 L220.67 178.06 L221.17 178.29 L221.67 178.51 L222.17 178.73 L222.67 178.94 L223.17 179.16 L223.67 179.37 L224.17 179.57 L224.67 179.77 L225.17 179.96 L225.67 180.14 L226.17 180.32 L226.67 180.49 L227.17 180.67 L227.67 180.84 L228.17 181.02 L228.67 181.19 L229.17 181.37 L229.68 181.55 L230.18 181.74 L230.68 181.94 L231.18 182.14 L231.68 182.36 L232.18 182.58 L232.68 182.81 L233.18 183.05 L233.68 183.30 L234.18 183.55 L234.68 183.81 L235.18 184.08 L235.68 184.36 L236.18 184.64 L236.68 184.92 L237.18 185.22 L237.68 185.52 L238.18 185.82 L238.68 186.13 L239.18 186.45 L239.68 186.77 L240.18 187.10 L240.68 187.43 L241.18 187.77 L241.68 188.12 L242.18 188.47 L242.68 188.83 L243.18 189.20 L243.68 189.59 L244.18 189.98 L244.68 190.38 L245.18 190.79 L245.68 191.21 L246.18 191.64 L246.68 192.08 L247.18 192.53 L247.68 192.99 L248.18 193.45 L248.68 193.92 L249.18 194.40 L249.69 194.89 L250.19 195.38 L250.69 195.90 L251.19 196.43 L251.69 196.97 L252.19 197.54 L252.69 198.12 L253.19 198.72 L253.69 199.33 L254.19 199.97 L254.69 200.63 L255.19 201.32 L255.69 202.03 L256.19 202.76 L256.69 203.50 L257.19 204.25 L257.69 205.01 L258.19 205.77 L258.69 206.53 L259.19 207.29 L259.69 208.06 L260.19 208.85 L260.69 209.64 L261.19 210.45 L261.69 211.25 L262.19 212.05 L262.69 212.85 L263.19 213.63 L263.69 214.39 L264.19 215.14 L264.69 215.88 L265.19 216.63 L265.69 217.37 L266.19 218.10 L266.69 218.80 L267.19 219.48 L267.69 220.12 L268.19 220.73 L268.69 221.31 L269.20 221.87 L269.70 222.40 L270.20 222.92 L270.70 223.42 L271.20 223.92 L271.70 224.41 L272.20 224.89 L272.70 225.40 L273.20 225.93 L273.70 226.45 L274.20 226.95 L274.70 227.41 L275.20 227.81 L275.70 228.14 L276.20 228.39 L276.70 228.62 L277.20 228.84 L277.70 229.03 L278.20 229.18 L278.70 229.28 L279.20 229.30 L279.70 229.25 L280.20 229.14 L280.70 228.98 L281.20 228.79 L281.70 228.58 L282.20 228.35 L282.70 228.13 L283.20 227.91 L283.70 227.68 L284.20 227.41 L284.70 227.13 L285.20 226.83 L285.70 226.53 L286.20 226.23 L286.70 225.93 L287.20 225.64 L287.70 225.34 L288.20 225.03 L288.70 224.71 L289.21 224.40 L289.71 224.11 L290.21 223.84 L290.71 223.61 L291.21 223.43 L291.71 223.25 L292.21 223.07 L292.71 222.92 L293.21 222.80 L293.71 222.72 L294.21 222.70 L294.71 222.78 L295.21 222.96 L295.71 223.20 L296.21 223.49 L296.71 223.81 L297.21 224.14 L297.71 224.56 L298.21 225.06 L298.71 225.64 L299.21 226.29 L299.71 226.98 L300.21 227.72 L300.71 228.52 L301.21 229.42 L301.71 230.43 L302.21 231.54 L302.71 232.75 L303.21 234.10 L303.71 235.72 L304.21 237.59 L304.71 239.60 L305.21 241.66 L305.71 243.68 L306.21 245.55 L306.71 247.30 L307.21 249.01 L307.71 250.69 L308.21 252.35 L308.72 254.00 L309.22 255.64 L309.72 257.29 L310.22 258.95 L310.72 260.71 L311.22 262.49 L311.72 264.11 L312.22 265.47 L312.72 266.85 L313.22 268.01 L313.72 268.59 L314.22 268.34 L314.72 267.49 L315.22 266.31 L315.72 265.09 L316.22 263.87 L316.72 262.47 L317.22 260.94 L317.72 259.37 L318.22 257.84 L318.72 256.34 L319.22 254.78 L319.72 253.22 L320.22 251.70 L320.72 250.27 L321.22 248.99 L321.72 247.83 L322.22 246.73 L322.72 245.73 L323.22 244.88 L323.72 244.21 L324.22 243.57 L324.72 243.05 L325.22 242.81 L325.72 242.90 L326.22 243.23 L326.72 243.70 L327.22 244.30 L327.72 245.31 L328.22 246.67 L328.73 248.23 L329.23 249.98 L329.73 252.18 L330.23 254.65 L330.73 257.17 L331.23 259.56 L331.73 261.84 L332.23 264.14 L332.73 266.56 L333.23 269.19 L333.73 272.27 L334.23 275.83 L334.73 279.50 L335.23 282.90 L335.73 285.82 L336.23 288.91 L336.73 291.62 L337.23 293.18 L337.73 292.92 L338.23 291.24 L338.73 288.82 L339.23 286.36 L339.73 283.72 L340.23 280.66 L340.73 277.48 L341.23 274.51 L341.73 271.84 L342.23 269.12 L342.73 266.53 L343.23 264.30 L343.73 262.66 L344.23 261.51 L344.73 260.47 L345.23 259.65 L345.73 259.17 L346.23 259.18 L346.73 259.83 L347.23 260.94 L347.73 262.31 L348.23 264.27 L348.74 267.22 L349.24 270.54 L349.74 273.84 L350.24 277.49 L350.74 281.34 L351.24 285.18 L351.74 288.77 L352.24 292.07 L352.74 295.72 L353.24 299.28 L353.74 302.15 L354.24 303.69 L354.74 303.24 L355.24 300.94 L355.74 297.94 L356.24 295.24 L356.74 292.34 L357.24 289.33 L357.74 286.51 L358.24 284.00 L358.74 281.53 L359.24 279.32 L359.74 277.65 L360.24 276.43 L360.74 275.36 L361.24 274.70 L361.74 274.71 L362.24 275.50 L362.74 276.77 L363.24 278.36 L363.74 280.94 L364.24 284.08 L364.74 287.30 L365.24 291.03 L365.74 294.85 L366.24 298.18 L366.74 301.16 L367.24 304.01 L367.74 305.68 L368.25 305.32 L368.75 303.43 L369.25 301.12 L369.75 299.14 L370.25 297.07 L370.75 295.02 L371.25 293.18 L371.75 291.39 L372.25 289.81 L372.75 288.73 L373.25 287.86 L373.75 287.34 L374.25 287.52 L374.75 288.42 L375.25 289.63 L375.75 291.53 L376.25 294.06 L376.75 296.51 L377.25 299.09 L377.75 301.62 L378.25 303.68 L378.75 305.55 L379.25 307.02 L379.75 307.34 L380.25 306.46 L380.75 305.11 L381.25 303.88 L381.75 302.36 L382.25 300.78 L382.75 299.46 L383.25 298.74 L383.75 298.79 L384.25 299.16 L384.75 299.72 L385.25 300.38 L385.75 301.02 L386.25 301.57 L386.75 302.12 L387.25 302.68 L387.75 303.25 L388.26 303.83 L388.76 304.41 L389.26 304.97 L389.76 305.53 L390.26 306.08 L390.76 306.62 L391.26 307.16 L391.76 307.69 L392.26 308.23 L392.76 308.76 L393.26 309.29 L393.76 309.82 L394.26 310.35 L394.76 310.87 L395.26 311.40 L395.76 311.92 L396.26 312.44 L396.76 312.96 L397.26 313.47 L397.76 313.98 L398.26 314.49 L398.76 315.00 L399.26 315.51 L399.76 316.01 L400.26 316.51 L400.76 317.01 L401.26 317.51 L401.76 318.00 L402.26 318.49 L402.76 318.98 L403.26 319.47 L403.76 319.95 L404.26 320.44 L404.76 320.92 L405.26 321.39 L405.76 321.87 L406.26 322.34 L406.76 322.81 L407.26 323.28 L407.76 323.75 L408.27 324.21 L408.77 324.68 L409.27 325.14 L409.77 325.60 L410.27 326.06 L410.77 326.52 L411.27 326.97 L411.77 327.43 L412.27 327.88 L412.77 328.33 L413.27 328.78 L413.77 329.23 L414.27 329.68 L414.77 330.13 L415.27 330.57 L415.77 331.02 L416.27 331.46 L416.77 331.91 L417.27 332.35 L417.77 332.79 L418.27 333.23 L418.77 333.68 L419.27 334.12 L419.77 334.56 L420.27 335.00 L420.77 335.44 L421.27 335.88 L421.77 336.32 L422.27 336.75 L422.77 337.19 L423.27 337.63 L423.77 338.07 L424.27 338.51 L424.77 338.95 L425.27 339.39 L425.77 339.83 L426.27 340.27 L426.77 340.71 L427.27 341.15 L427.78 341.60 L428.28 342.04 L428.78 342.48 L429.28 342.92 L429.78 343.36 L430.28 343.79 L430.78 344.23 L431.28 344.67 L431.78 345.11 L432.28 345.55 L432.78 345.98 L433.28 346.42 L433.78 346.86 L434.28 347.29 L434.78 347.73 L435.28 348.16 L435.78 348.60 L436.28 349.03 L436.78 349.46 L437.28 349.90 L437.78 350.33 L438.28 350.76 L438.78 351.19 L439.28 351.62 L439.78 352.06 L440.28 352.49 L440.78 352.92 L441.28 353.35 L441.78 353.78 L442.28 354.21 L442.78 354.64 L443.28 355.06 L443.78 355.49 L444.28 355.92 L444.78 356.35 L445.28 356.78 L445.78 357.20 L446.28 357.63 L446.78 358.06 L447.28 358.48 L447.79 358.91 L448.29 359.33 L448.79 359.76 L449.29 360.19 L449.79 360.61 L450.29 361.03 L450.79 361.46 L451.29 361.88 L451.79 362.31 L452.29 362.73 L452.79 363.15 L453.29 363.57 L453.79 364.00 L454.29 364.42 L454.79 364.84 L455.29 365.26 L455.79 365.68 L456.29 366.10 L456.79 366.52 L457.29 366.94 L457.79 367.36 L458.29 367.78 L458.79 368.20 L459.29 368.62 L459.79 369.04 L460.29 369.46 L460.79 369.88 L461.29 370.30 L461.79 370.71 L462.29 371.13 L462.79 371.55 L463.29 371.96 L463.79 372.38 L464.29 372.80 L464.79 373.21 L465.29 373.63 L465.79 374.04 L466.29 374.46 L466.79 374.87 L467.29 375.29 L467.80 375.70 L468.30 376.11 L468.80 376.53 L469.30 376.94 L469.80 377.35 L470.30 377.76 L470.80 378.18 L471.30 378.59 L471.80 379.00 L472.30 379.41 L472.80 379.82 L473.30 380.23 L473.80 380.64 L474.30 381.05 L474.80 381.46 L475.30 381.87 L475.80 382.28 L476.30 382.68 L476.80 383.09 L477.30 383.50" stroke="#00a000"/>
<path d="M81.60 208.00 L82.11 209.00 L82.61 210.02 L83.12 211.05 L83.63 212.09 L84.13 213.15 L84.64 214.21 L85.15 215.29 L85.65 216.38 L86.16 217.48 L86.67 218.60 L87.17 219.72 L87.68 220.86 L88.19 222.00 L88.69 223.16 L89.20 224.33 L89.71 225.49 L90.21 226.64 L90.72 227.79 L91.23 228.94 L91.73 230.09 L92.24 231.26 L92.75 232.45 L93.25 233.65 L93.76 234.89 L94.27 236.17 L94.77 237.48 L95.28 238.84 L95.78 240.25 L96.29 241.72 L96.80 243.25 L97.30 244.86 L97.81 246.56 L98.32 248.37 L98.82 250.28 L99.33 252.28 L99.84 254.37 L100.34 256.55 L100.85 258.81 L101.36 261.15 L101.86 263.56 L102.37 266.00 L102.88 268.34 L103.38 270.66 L103.89 273.10 L104.40 275.78 L104.90 278.82 L105.41 282.35 L105.92 286.48 L106.42 291.35 L106.93 297.60 L107.44 306.67 L107.94 320.05 L108.45 352.00 M108.85 352.00 L109.35 320.40 L109.85 307.61 L110.35 298.91 L110.85 292.72 L111.36 287.52 L111.86 282.85 L112.36 278.78 L112.86 275.26 L113.36 272.26 L113.86 269.74 L114.36 267.67 L114.86 265.99 L115.37 264.57 L115.87 263.31 L116.37 262.09 L116.87 260.89 L117.37 259.74 L117.87 258.66 L118.37 257.67 L118.87 256.80 L119.37 256.05 L119.88 255.36 L120.38 254.69 L120.88 254.05 L121.38 253.43 L121.88 252.84 L122.38 252.27 L122.88 251.73 L123.38 251.22 L123.88 250.73 L124.39 250.28 L124.89 249.85 L125.39 249.45 L125.89 249.08 L126.39 248.74 L126.89 248.43 L127.39 248.15 L127.89 247.88 L128.40 247.62 L128.90 247.37 L129.40 247.13 L129.90 246.89 L130.40 246.66 L130.90 246.44 L131.40 246.22 L131.90 246.02 L132.40 245.83 L132.91 245.65 L133.41 245.48 L133.91 245.32 L134.41 245.18 L134.91 245.04 L135.41 244.92 L135.91 244.82 L136.41 244.73 L136.91 244.65 L137.42 244.59 L137.92 244.53 L138.42 244.48 L138.92 244.42 L139.42 244.37 L139.92 244.32 L140.42 244.27 L140.92 244.22 L141.43 244.18 L141.93 244.14 L142.43 244.10 L142.93 244.06 L143.43 244.02 L143.93 243.99 L144.43 243.96 L144.93 243.93 L145.43 243.90 L145.94 243.88 L146.44 243.86 L146.94 243.84 L147.44 243.83 L147.94 243.81 L148.44 243.81 L148.94 243.80 L149.44 243.80 L149.94 243.81 L150.45 243.82 L150.95 243.84 L151.45 243.87 L151.95 243.90 L152.45 243.95 L152.95 243.99 L153.45 244.05 L153.95 244.11 L154.46 244.18 L154.96 244.25 L155.46 244.32 L155.96 244.40 L156.46 244.48 L156.96 244.57 L157.46 244.66 L157.96 244.75 L158.46 244.84 L158.97 244.94 L159.47 245.03 L159.97 245.13 L160.47 245.23 L160.97 245.33 L161.47 245.43 L161.97 245.53 L162.47 245.62 L162.97 245.72 L163.48 245.81 L163.98 245.91 L164.48 246.01 L164.98 246.12 L165.48 246.23 L165.98 246.34 L166.48 246.46 L166.98 246.58 L167.49 246.70 L167.99 246.83 L168.49 246.96 L168.99 247.09 L169.49 247.23 L169.99 247.37 L170.49 247.51 L170.99 247.65 L171.49 247.80 L172.00 247.95 L172.50 248.10 L173.00 248.25 L173.50 248.40 L174.00 248.55 L174.50 248.71 L175.00 248.87 L175.50 249.02 L176.01 249.18 L176.51 249.34 L177.01 249.50 L177.51 249.66 L178.01 249.82 L178.51 249.98 L179.01 250.14 L179.51 250.30 L180.01 250.47 L180.52 250.63 L181.02 250.80 L181.52 250.96 L182.02 251.13 L182.52 251.31 L183.02 251.48 L183.52 251.66 L184.02 251.84 L184.52 252.02 L185.03 252.20 L185.53 252.38 L186.03 252.56 L186.53 252.75 L187.03 252.94 L187.53 253.13 L188.03 253.32 L188.53 253.51 L189.04 253.70 L189.54 253.90 L190.04 254.09 L190.54 254.29 L191.04 254.48 L191.54 254.68 L192.04 254.88 L192.54 255.08 L193.04 255.28 L193.55 255.48 L194.05 255.68 L194.55 255.88 L195.05 256.08 L195.55 256.28 L196.05 256.48 L196.55 256.68 L197.05 256.88 L197.55 257.08 L198.06 257.29 L198.56 257.49 L199.06 257.69 L199.56 257.89 L200.06 258.10 L200.56 258.30 L201.06 258.51 L201.56 258.72 L202.07 258.92 L202.57 259.13 L203.07 259.34 L203.57 259.56 L204.07 259.77 L204.57 259.99 L205.07 260.20 L205.57 260.42 L206.07 260.64 L206.58 260.87 L207.08 261.09 L207.58 261.32 L208.08 261.55 L208.58 261.78 L209.08 262.02 L209.58 262.26 L210.08 262.50 L210.58 262.74 L211.09 262.99 L211.59 263.24 L212.09 263.50 L212.59 263.76 L213.09 264.02 L213.59 264.29 L214.09 264.56 L214.59 264.84 L215.10 265.12 L215.60 265.41 L216.10 265.70 L216.60 265.99 L217.10 266.29 L217.60 266.59 L218.10 266.89 L218.60 267.20 L219.10 267.50 L219.61 267.81 L220.11 268.12 L220.61 268.44 L221.11 268.75 L221.61 269.07 L222.11 269.39 L222.61 269.71 L223.11 270.03 L223.61 270.35 L224.12 270.67 L224.62 270.99 L225.12 271.31 L225.62 271.64 L226.12 271.97 L226.62 272.30 L227.12 272.63 L227.62 272.97 L228.13 273.31 L228.63 273.65 L229.13 273.99 L229.63 274.34 L230.13 274.69 L230.63 275.05 L231.13 275.41 L231.63 275.77 L232.13 276.14 L232.64 276.52 L233.14 276.89 L233.64 277.28 L234.14 277.66 L234.64 278.05 L235.14 278.44 L235.64 278.83 L236.14 279.22 L236.64 279.62 L237.15 280.03 L237.65 280.44 L238.15 280.87 L238.65 281.30 L239.15 281.74 L239.65 282.19 L240.15 282.66 L240.65 283.14 L241.16 283.64 L241.66 284.15 L242.16 284.68 L242.66 285.25 L243.16 285.84 L243.66 286.45 L244.16 287.09 L244.66 287.75 L245.16 288.43 L245.67 289.12 L246.17 289.82 L246.67 290.53 L247.17 291.25 L247.67 291.98 L248.17 292.71 L248.67 293.43 L249.17 294.16 L249.68 294.88 L250.18 295.60 L250.68 296.32 L251.18 297.07 L251.68 297.82 L252.18 298.58 L252.68 299.34 L253.18 300.11 L253.68 300.88 L254.19 301.64 L254.69 302.40 L255.19 303.15 L255.69 303.89 L256.19 304.63 L256.69 305.41 L257.19 306.21 L257.69 307.00 L258.19 307.78 L258.70 308.50 L259.20 309.16 L259.70 309.72 L260.20 310.17 L260.70 310.62 L261.20 311.05 L261.70 311.44 L262.20 311.78 L262.71 312.03 L263.21 312.18 L263.71 312.20 L264.21 312.15 L264.71 312.06 L265.21 311.94 L265.71 311.78 L266.21 311.62 L266.71 311.44 L267.22 311.26 L267.72 311.09 L268.22 310.93 L268.72 310.77 L269.22 310.59 L269.72 310.40 L270.22 310.21 L270.72 310.01 L271.22 309.82 L271.73 309.62 L272.23 309.42 L272.73 309.24 L273.23 309.06 L273.73 308.89 L274.23 308.72 L274.73 308.55 L275.23 308.36 L275.74 308.18 L276.24 308.02 L276.74 307.90 L277.24 307.82 L277.74 307.80 L278.24 307.84 L278.74 307.91 L279.24 308.03 L279.74 308.17 L280.25 308.33 L280.75 308.51 L281.25 308.70 L281.75 308.90 L282.25 309.10 L282.75 309.34 L283.25 309.60 L283.75 309.91 L284.25 310.25 L284.76 310.62 L285.26 311.03 L285.76 311.48 L286.26 311.96 L286.76 312.47 L287.26 313.09 L287.76 313.80 L288.26 314.62 L288.77 315.52 L289.27 316.50 L289.77 317.55 L290.27 318.67 L290.77 319.83 L291.27 321.03 L291.77 322.27 L292.27 323.53 L292.77 324.95 L293.28 326.64 L293.78 328.48 L294.28 330.35 L294.78 332.15 L295.28 333.77 L295.78 335.09 L296.28 336.14 L296.78 337.06 L297.28 337.98 L297.79 338.98 L298.29 340.01 L298.79 341.04 L299.29 342.08 L299.79 343.13 L300.29 344.20 L300.79 345.27 L301.29 346.36 L301.80 347.46 L302.30 348.57 L302.80 349.70 L303.30 350.84 L303.80 352.00 M306.00 351.40 L306.14 350.63 L306.27 349.89 L306.41 349.17 L306.54 348.48 L306.68 347.81 L306.81 347.16 L306.95 346.53 L307.08 345.92 L307.22 345.34 L307.36 344.77 L307.49 344.22 L307.63 343.69 L307.76 343.18 L307.90 342.68 L308.03 342.20 L308.17 341.73 L308.31 341.28 L308.44 340.85 L308.58 340.42 L308.71 340.02 L308.85 339.62 L308.98 339.24 L309.12 338.88 L309.25 338.52 L309.39 338.18 L309.53 337.85 L309.66 337.54 L309.80 337.23 L309.93 336.94 L310.07 336.65 L310.20 336.38 L310.34 336.12 L310.47 335.87 L310.61 335.63 L310.75 335.41 L310.88 335.19 L311.02 334.98 L311.15 334.78 L311.29 334.59 L311.42 334.42 L311.56 334.25 L311.69 334.09 L311.83 333.94 L311.97 333.80 L312.10 333.67 L312.24 333.55 L312.37 333.44 L312.51 333.34 L312.64 333.24 L312.78 333.16 L312.92 333.08 L313.05 333.02 L313.19 332.96 L313.32 332.91 L313.46 332.87 L313.59 332.84 L313.73 332.82 L313.86 332.80 L314.00 332.80 L314.14 332.80 L314.29 332.82 L314.43 332.84 L314.58 332.87 L314.72 332.91 L314.86 332.96 L315.01 333.02 L315.15 333.08 L315.30 333.16 L315.44 333.24 L315.58 333.34 L315.73 333.44 L315.87 333.55 L316.02 333.67 L316.16 333.80 L316.31 333.94 L316.45 334.09 L316.59 334.25 L316.74 334.42 L316.88 334.59 L317.03 334.78 L317.17 334.98 L317.31 335.19 L317.46 335.41 L317.60 335.63 L317.75 335.87 L317.89 336.12 L318.03 336.38 L318.18 336.65 L318.32 336.94 L318.47 337.23 L318.61 337.54 L318.75 337.85 L318.90 338.18 L319.04 338.52 L319.19 338.88 L319.33 339.24 L319.47 339.62 L319.62 340.02 L319.76 340.42 L319.91 340.85 L320.05 341.28 L320.19 341.73 L320.34 342.20 L320.48 342.68 L320.63 343.18 L320.77 343.69 L320.92 344.22 L321.06 344.77 L321.20 345.34 L321.35 345.92 L321.49 346.53 L321.64 347.16 L321.78 347.81 L321.92 348.48 L322.07 349.17 L322.21 349.89 L322.36 350.63 L322.50 351.40" stroke="#0000ff" stroke-dasharray="7.2 3.7"/>
<path d="M81.60 138.80 L82.10 139.16 L82.60 139.53 L83.10 139.90 L83.60 140.27 L84.10 140.64 L84.61 141.02 L85.11 141.39 L85.61 141.77 L86.11 142.15 L86.61 142.53 L87.11 142.91 L87.61 143.30 L88.11 143.69 L88.61 144.08 L89.11 144.47 L89.61 144.86 L90.12 145.25 L90.62 145.65 L91.12 146.05 L91.62 146.45 L92.12 146.86 L92.62 147.26 L93.12 147.67 L93.62 148.08 L94.12 148.49 L94.62 148.90 L95.12 149.32 L95.62 149.74 L96.13 150.16 L96.63 150.58 L97.13 151.01 L97.63 151.43 L98.13 151.86 L98.63 152.29 L99.13 152.72 L99.63 153.16 L100.13 153.59 L100.63 154.03 L101.13 154.47 L101.64 154.91 L102.14 155.36 L102.64 155.80 L103.14 156.25 L103.64 156.70 L104.14 157.15 L104.64 157.60 L105.14 158.06 L105.64 158.51 L106.14 158.97 L106.64 159.43 L107.15 159.89 L107.65 160.35 L108.15 160.82 L108.65 161.28 L109.15 161.75 L109.65 162.22 L110.15 162.69 L110.65 163.16 L111.15 163.63 L111.65 164.11 L112.15 164.58 L112.66 165.06 L113.16 165.54 L113.66 166.02 L114.16 166.50 L114.66 166.98 L115.16 167.46 L115.66 167.95 L116.16 168.44 L116.66 168.94 L117.16 169.44 L117.66 169.94 L118.17 170.45 L118.67 170.97 L119.17 171.48 L119.67 172.00 L120.17 172.53 L120.67 173.05 L121.17 173.58 L121.67 174.11 L122.17 174.64 L122.67 175.18 L123.17 175.71 L123.67 176.25 L124.18 176.79 L124.68 177.33 L125.18 177.86 L125.68 178.40 L126.18 178.94 L126.68 179.47 L127.18 180.01 L127.68 180.54 L128.18 181.08 L128.68 181.61 L129.18 182.13 L129.69 182.66 L130.19 183.18 L130.69 183.70 L131.19 184.22 L131.69 184.73 L132.19 185.24 L132.69 185.75 L133.19 186.25 L133.69 186.74 L134.19 187.24 L134.69 187.72 L135.20 188.20 L135.70 188.68 L136.20 189.15 L136.70 189.62 L137.20 190.09 L137.70 190.55 L138.20 191.01 L138.70 191.47 L139.20 191.93 L139.70 192.38 L140.20 192.83 L140.71 193.28 L141.21 193.72 L141.71 194.16 L142.21 194.60 L142.71 195.03 L143.21 195.46 L143.71 195.89 L144.21 196.31 L144.71 196.73 L145.21 197.15 L145.71 197.55 L146.22 197.95 L146.72 198.33 L147.22 198.71 L147.72 199.09 L148.22 199.47 L148.72 199.86 L149.22 200.25 L149.72 200.66 L150.22 201.08 L150.72 201.49 L151.22 201.90 L151.72 202.31 L152.23 202.73 L152.73 203.15 L153.23 203.56 L153.73 203.98 L154.23 204.41 L154.73 204.83 L155.23 205.26 L155.73 205.70 L156.23 206.13 L156.73 206.57 L157.23 207.02 L157.74 207.47 L158.24 207.93 L158.74 208.39 L159.24 208.85 L159.74 209.33 L160.24 209.81 L160.74 210.29 L161.24 210.79 L161.74 211.29 L162.24 211.80 L162.74 212.31 L163.25 212.84 L163.75 213.38 L164.25 213.98 L164.75 214.60 L165.25 215.21 L165.75 215.78 L166.25 216.35 L166.75 216.91 L167.25 217.46 L167.75 218.02 L168.25 218.57 L168.76 219.11 L169.26 219.66 L169.76 220.20 L170.26 220.74 L170.76 221.27 L171.26 221.81 L171.76 222.34 L172.26 222.86 L172.76 223.39 L173.26 223.91 L173.76 224.43 L174.27 224.95 L174.77 225.46 L175.27 225.98 L175.77 226.49 L176.27 227.00 L176.77 227.50 L177.27 228.01 L177.77 228.51 L178.27 229.01 L178.77 229.51 L179.27 230.01 L179.77 230.50 L180.28 231.00 L180.78 231.49 L181.28 231.98 L181.78 232.47 L182.28 232.96 L182.78 233.44 L183.28 233.92 L183.78 234.40 L184.28 234.88 L184.78 235.35 L185.28 235.82 L185.79 236.29 L186.29 236.75 L186.79 237.22 L187.29 237.68 L187.79 238.14 L188.29 238.60 L188.79 239.06 L189.29 239.52 L189.79 239.97 L190.29 240.43 L190.79 240.88 L191.30 241.33 L191.80 241.78 L192.30 242.23 L192.80 242.68 L193.30 243.13 L193.80 243.58 L194.30 244.03 L194.80 244.48 L195.30 244.93 L195.80 245.38 L196.30 245.83 L196.81 246.28 L197.31 246.73 L197.81 247.17 L198.31 247.61 L198.81 248.06 L199.31 248.50 L199.81 248.94 L200.31 249.38 L200.81 249.82 L201.31 250.26 L201.81 250.70 L202.32 251.13 L202.82 251.57 L203.32 252.01 L203.82 252.44 L204.32 252.88 L204.82 253.31 L205.32 253.75 L205.82 254.18 L206.32 254.62 L206.82 255.05 L207.32 255.49 L207.82 255.92 L208.33 256.36 L208.83 256.79 L209.33 257.23 L209.83 257.67 L210.33 258.10 L210.83 258.54 L211.33 258.98 L211.83 259.42 L212.33 259.86 L212.83 260.31 L213.33 260.75 L213.84 261.20 L214.34 261.64 L214.84 262.08 L215.34 262.50 L215.84 262.91 L216.34 263.31 L216.84 263.70 L217.34 264.09 L217.84 264.47 L218.34 264.84 L218.84 265.21 L219.35 265.57 L219.85 265.93 L220.35 266.30 L220.85 266.66 L221.35 267.03 L221.85 267.39 L222.35 267.77 L222.85 268.14 L223.35 268.53 L223.85 268.92 L224.35 269.32 L224.86 269.71 L225.36 270.11 L225.86 270.51 L226.36 270.92 L226.86 271.32 L227.36 271.73 L227.86 272.14 L228.36 272.55 L228.86 272.97 L229.36 273.39 L229.86 273.82 L230.37 274.25 L230.87 274.68 L231.37 275.12 L231.87 275.56 L232.37 276.01 L232.87 276.46 L233.37 276.91 L233.87 277.37 L234.37 277.83 L234.87 278.30 L235.37 278.77 L235.88 279.24 L236.38 279.72 L236.88 280.20 L237.38 280.68 L237.88 281.17 L238.38 281.66 L238.88 282.15 L239.38 282.65 L239.88 283.15 L240.38 283.66 L240.88 284.16 L241.38 284.67 L241.89 285.19 L242.39 285.71 L242.89 286.24 L243.39 286.77 L243.89 287.32 L244.39 287.86 L244.89 288.42 L245.39 288.97 L245.89 289.53 L246.39 290.09 L246.89 290.66 L247.40 291.22 L247.90 291.78 L248.40 292.34 L248.90 292.90 L249.40 293.45 L249.90 294.00 L250.40 294.55 L250.90 295.11 L251.40 295.68 L251.90 296.25 L252.40 296.83 L252.91 297.39 L253.41 297.95 L253.91 298.50 L254.41 299.03 L254.91 299.55 L255.41 300.04 L255.91 300.51 L256.41 300.96 L256.91 301.39 L257.41 301.82 L257.91 302.23 L258.42 302.64 L258.92 303.04 L259.42 303.43 L259.92 303.81 L260.42 304.18 L260.92 304.55 L261.42 304.92 L261.92 305.28 L262.42 305.64 L262.92 306.00 L263.42 306.35 L263.92 306.71 L264.43 307.07 L264.93 307.43 L265.43 307.79 L265.93 308.15 L266.43 308.51 L266.93 308.86 L267.43 309.21 L267.93 309.55 L268.43 309.89 L268.93 310.22 L269.43 310.55 L269.94 310.88 L270.44 311.21 L270.94 311.55 L271.44 311.88 L271.94 312.23 L272.44 312.57 L272.94 312.93 L273.44 313.29 L273.94 313.67 L274.44 314.06 L274.94 314.46 L275.45 314.87 L275.95 315.32 L276.45 315.79 L276.95 316.27 L277.45 316.76 L277.95 317.26 L278.45 317.75 L278.95 318.23 L279.45 318.70 L279.95 319.15 L280.45 319.58 L280.96 320.00 L281.46 320.41 L281.96 320.81 L282.46 321.20 L282.96 321.59 L283.46 321.98 L283.96 322.36 L284.46 322.73 L284.96 323.11 L285.46 323.49 L285.96 323.86 L286.47 324.24 L286.97 324.62 L287.47 325.00 L287.97 325.39 L288.47 325.79 L288.97 326.19 L289.47 326.60 L289.97 327.02 L290.47 327.45 L290.97 327.90 L291.47 328.35 L291.98 328.81 L292.48 329.27 L292.98 329.74 L293.48 330.22 L293.98 330.72 L294.48 331.22 L294.98 331.75 L295.48 332.29 L295.98 332.84 L296.48 333.42 L296.98 334.02 L297.48 334.64 L297.99 335.28 L298.49 335.94 L298.99 336.62 L299.49 337.31 L299.99 338.03 L300.49 338.76 L300.99 339.51 L301.49 340.28 L301.99 341.07 L302.49 341.87 L302.99 342.69 L303.50 343.53 L304.00 344.39 L304.50 345.27 L305.00 346.16 L305.50 347.07 L306.00 348.00" stroke="#0000ff" stroke-dasharray="3.2 3.7"/>
<path d="M81.60 137.00 L82.10 137.45 L82.60 137.89 L83.10 138.33 L83.60 138.77 L84.11 139.20 L84.61 139.64 L85.11 140.07 L85.61 140.50 L86.11 140.93 L86.61 141.36 L87.11 141.78 L87.61 142.21 L88.11 142.63 L88.62 143.05 L89.12 143.47 L89.62 143.88 L90.12 144.30 L90.62 144.71 L91.12 145.10 L91.62 145.50 L92.12 145.89 L92.62 146.28 L93.13 146.68 L93.63 147.07 L94.13 147.48 L94.63 147.90 L95.13 148.33 L95.63 148.76 L96.13 149.21 L96.63 149.65 L97.13 150.11 L97.64 150.56 L98.14 151.02 L98.64 151.49 L99.14 151.95 L99.64 152.43 L100.14 152.90 L100.64 153.38 L101.14 153.86 L101.64 154.35 L102.15 154.83 L102.65 155.32 L103.15 155.82 L103.65 156.31 L104.15 156.81 L104.65 157.32 L105.15 157.82 L105.65 158.32 L106.15 158.83 L106.66 159.34 L107.16 159.85 L107.66 160.37 L108.16 160.88 L108.66 161.40 L109.16 161.91 L109.66 162.43 L110.16 162.95 L110.66 163.47 L111.17 163.99 L111.67 164.52 L112.17 165.04 L112.67 165.56 L113.17 166.08 L113.67 166.61 L114.17 167.13 L114.67 167.65 L115.17 168.17 L115.68 168.70 L116.18 169.22 L116.68 169.75 L117.18 170.27 L117.68 170.80 L118.18 171.33 L118.68 171.86 L119.18 172.39 L119.68 172.93 L120.19 173.46 L120.69 174.00 L121.19 174.54 L121.69 175.08 L122.19 175.62 L122.69 176.16 L123.19 176.70 L123.69 177.25 L124.19 177.79 L124.70 178.34 L125.20 178.89 L125.70 179.44 L126.20 179.99 L126.70 180.55 L127.20 181.10 L127.70 181.66 L128.20 182.22 L128.70 182.78 L129.21 183.34 L129.71 183.90 L130.21 184.47 L130.71 185.04 L131.21 185.60 L131.71 186.17 L132.21 186.74 L132.71 187.32 L133.21 187.89 L133.72 188.47 L134.22 189.05 L134.72 189.62 L135.22 190.21 L135.72 190.79 L136.22 191.38 L136.72 191.98 L137.22 192.58 L137.72 193.18 L138.23 193.79 L138.73 194.41 L139.23 195.02 L139.73 195.64 L140.23 196.25 L140.73 196.87 L141.23 197.48 L141.73 198.10 L142.23 198.71 L142.74 199.32 L143.24 199.92 L143.74 200.53 L144.24 201.13 L144.74 201.73 L145.24 202.34 L145.74 202.94 L146.24 203.55 L146.74 204.16 L147.25 204.76 L147.75 205.37 L148.25 205.97 L148.75 206.57 L149.25 207.18 L149.75 207.78 L150.25 208.38 L150.75 208.97 L151.25 209.57 L151.75 210.16 L152.26 210.75 L152.76 211.34 L153.26 211.93 L153.76 212.51 L154.26 213.09 L154.76 213.67 L155.26 214.24 L155.76 214.81 L156.26 215.37 L156.77 215.92 L157.27 216.47 L157.77 217.01 L158.27 217.55 L158.77 218.09 L159.27 218.63 L159.77 219.18 L160.27 219.73 L160.77 220.29 L161.28 220.86 L161.78 221.44 L162.28 222.02 L162.78 222.60 L163.28 223.18 L163.78 223.77 L164.28 224.36 L164.78 224.95 L165.28 225.54 L165.79 226.14 L166.29 226.74 L166.79 227.34 L167.29 227.94 L167.79 228.55 L168.29 229.16 L168.79 229.78 L169.29 230.40 L169.79 231.02 L170.30 231.64 L170.80 232.27 L171.30 232.91 L171.80 233.55 L172.30 234.19 L172.80 234.83 L173.30 235.49 L173.80 236.14 L174.30 236.80 L174.81 237.47 L175.31 238.14 L175.81 238.82 L176.31 239.50 L176.81 240.18 L177.31 240.86 L177.81 241.55 L178.31 242.25 L178.81 242.94 L179.32 243.65 L179.82 244.36 L180.32 245.07 L180.82 245.79 L181.32 246.52 L181.82 247.25 L182.32 247.99 L182.82 248.74 L183.32 249.49 L183.83 250.26 L184.33 251.03 L184.83 251.81 L185.33 252.60 L185.83 253.40 L186.33 254.21 L186.83 255.03 L187.33 255.85 L187.83 256.70 L188.34 257.55 L188.84 258.43 L189.34 259.32 L189.84 260.23 L190.34 261.15 L190.84 262.08 L191.34 263.03 L191.84 263.99 L192.34 264.96 L192.85 265.95 L193.35 266.94 L193.85 267.94 L194.35 268.95 L194.85 269.97 L195.35 270.99 L195.85 272.02 L196.35 273.05 L196.85 274.09 L197.36 275.13 L197.86 276.19 L198.36 277.26 L198.86 278.36 L199.36 279.47 L199.86 280.61 L200.36 281.78 L200.86 282.97 L201.36 284.21 L201.87 285.48 L202.37 286.77 L202.87 288.08 L203.37 289.42 L203.87 290.79 L204.37 292.19 L204.87 293.61 L205.37 295.07 L205.87 296.56 L206.38 298.08 L206.88 299.64 L207.38 301.24 L207.88 302.88 L208.38 304.56 L208.88 306.28 L209.38 308.05 L209.88 309.87 L210.38 311.73 L210.89 313.64 L211.39 315.62 L211.89 317.68 L212.39 319.83 L212.89 322.09 L213.39 324.46 L213.89 326.96 L214.39 329.61 L214.89 332.42 L215.40 335.59 L215.90 339.11 L216.40 342.95 L216.90 347.13 L217.40 352.00 M249.50 351.40 L249.63 350.85 L249.75 350.32 L249.88 349.80 L250.00 349.30 L250.13 348.82 L250.25 348.34 L250.38 347.88 L250.50 347.44 L250.63 347.00 L250.75 346.58 L250.88 346.18 L251.01 345.78 L251.13 345.39 L251.26 345.02 L251.38 344.66 L251.51 344.31 L251.63 343.97 L251.76 343.64 L251.88 343.32 L252.01 343.01 L252.13 342.71 L252.26 342.41 L252.38 342.13 L252.51 341.86 L252.64 341.60 L252.76 341.35 L252.89 341.10 L253.01 340.86 L253.14 340.64 L253.26 340.42 L253.39 340.21 L253.51 340.00 L253.64 339.81 L253.76 339.62 L253.89 339.45 L254.02 339.28 L254.14 339.11 L254.27 338.96 L254.39 338.81 L254.52 338.67 L254.64 338.54 L254.77 338.42 L254.89 338.30 L255.02 338.19 L255.14 338.09 L255.27 337.99 L255.39 337.90 L255.52 337.82 L255.65 337.75 L255.77 337.68 L255.90 337.62 L256.02 337.57 L256.15 337.53 L256.27 337.49 L256.40 337.46 L256.52 337.43 L256.65 337.41 L256.77 337.40 L256.90 337.40 L257.03 337.40 L257.15 337.41 L257.28 337.43 L257.40 337.46 L257.53 337.49 L257.65 337.53 L257.78 337.57 L257.90 337.62 L258.03 337.68 L258.15 337.75 L258.28 337.82 L258.41 337.90 L258.53 337.99 L258.66 338.09 L258.78 338.19 L258.91 338.30 L259.03 338.42 L259.16 338.54 L259.28 338.67 L259.41 338.81 L259.53 338.96 L259.66 339.11 L259.78 339.28 L259.91 339.45 L260.04 339.62 L260.16 339.81 L260.29 340.00 L260.41 340.21 L260.54 340.42 L260.66 340.64 L260.79 340.86 L260.91 341.10 L261.04 341.35 L261.16 341.60 L261.29 341.86 L261.42 342.13 L261.54 342.41 L261.67 342.71 L261.79 343.01 L261.92 343.32 L262.04 343.64 L262.17 343.97 L262.29 344.31 L262.42 344.66 L262.54 345.02 L262.67 345.39 L262.79 345.78 L262.92 346.18 L263.05 346.58 L263.17 347.00 L263.30 347.44 L263.42 347.88 L263.55 348.34 L263.67 348.82 L263.80 349.30 L263.92 349.80 L264.05 350.32 L264.17 350.85 L264.30 351.40 M278.00 351.40 L278.11 350.69 L278.22 350.01 L278.33 349.34 L278.43 348.70 L278.54 348.08 L278.65 347.48 L278.76 346.89 L278.87 346.33 L278.98 345.78 L279.08 345.26 L279.19 344.74 L279.30 344.25 L279.41 343.77 L279.52 343.30 L279.63 342.85 L279.74 342.42 L279.84 341.99 L279.95 341.59 L280.06 341.19 L280.17 340.81 L280.28 340.44 L280.39 340.08 L280.49 339.74 L280.60 339.40 L280.71 339.08 L280.82 338.77 L280.93 338.47 L281.04 338.19 L281.15 337.91 L281.25 337.64 L281.36 337.39 L281.47 337.14 L281.58 336.91 L281.69 336.68 L281.80 336.47 L281.91 336.26 L282.01 336.06 L282.12 335.88 L282.23 335.70 L282.34 335.53 L282.45 335.37 L282.56 335.22 L282.66 335.08 L282.77 334.95 L282.88 334.82 L282.99 334.71 L283.10 334.60 L283.21 334.51 L283.32 334.42 L283.42 334.34 L283.53 334.27 L283.64 334.20 L283.75 334.15 L283.86 334.10 L283.97 334.07 L284.07 334.04 L284.18 334.02 L284.29 334.00 L284.40 334.00 L284.51 334.00 L284.62 334.02 L284.74 334.04 L284.85 334.07 L284.96 334.10 L285.07 334.15 L285.18 334.20 L285.29 334.27 L285.41 334.34 L285.52 334.42 L285.63 334.51 L285.74 334.60 L285.85 334.71 L285.97 334.82 L286.08 334.95 L286.19 335.08 L286.30 335.22 L286.41 335.37 L286.53 335.53 L286.64 335.70 L286.75 335.88 L286.86 336.06 L286.97 336.26 L287.08 336.47 L287.20 336.68 L287.31 336.91 L287.42 337.14 L287.53 337.39 L287.64 337.64 L287.76 337.91 L287.87 338.19 L287.98 338.47 L288.09 338.77 L288.20 339.08 L288.32 339.40 L288.43 339.74 L288.54 340.08 L288.65 340.44 L288.76 340.81 L288.87 341.19 L288.99 341.59 L289.10 341.99 L289.21 342.42 L289.32 342.85 L289.43 343.30 L289.55 343.77 L289.66 344.25 L289.77 344.74 L289.88 345.26 L289.99 345.78 L290.11 346.33 L290.22 346.89 L290.33 347.48 L290.44 348.08 L290.55 348.70 L290.66 349.34 L290.78 350.01 L290.89 350.69 L291.00 351.40 M309.00 351.40 L309.10 350.59 L309.20 349.81 L309.30 349.05 L309.40 348.33 L309.50 347.62 L309.60 346.94 L309.70 346.28 L309.80 345.65 L309.90 345.04 L310.00 344.44 L310.10 343.87 L310.20 343.31 L310.30 342.78 L310.40 342.26 L310.50 341.76 L310.60 341.27 L310.70 340.80 L310.80 340.35 L310.90 339.91 L311.00 339.49 L311.10 339.08 L311.20 338.68 L311.30 338.30 L311.40 337.93 L311.50 337.58 L311.60 337.24 L311.70 336.91 L311.80 336.59 L311.90 336.29 L312.00 335.99 L312.10 335.71 L312.20 335.44 L312.30 335.18 L312.40 334.93 L312.50 334.70 L312.60 334.47 L312.70 334.26 L312.80 334.05 L312.90 333.86 L313.00 333.67 L313.10 333.50 L313.20 333.33 L313.30 333.18 L313.40 333.04 L313.50 332.90 L313.60 332.78 L313.70 332.66 L313.80 332.55 L313.90 332.46 L314.00 332.37 L314.10 332.29 L314.20 332.22 L314.30 332.16 L314.40 332.11 L314.50 332.07 L314.60 332.04 L314.70 332.02 L314.80 332.00 L314.90 332.00 L315.00 332.00 L315.11 332.02 L315.21 332.04 L315.31 332.07 L315.42 332.11 L315.52 332.16 L315.62 332.22 L315.73 332.29 L315.83 332.37 L315.93 332.46 L316.04 332.55 L316.14 332.66 L316.24 332.78 L316.35 332.90 L316.45 333.04 L316.55 333.18 L316.66 333.33 L316.76 333.50 L316.86 333.67 L316.97 333.86 L317.07 334.05 L317.17 334.26 L317.28 334.47 L317.38 334.70 L317.48 334.93 L317.59 335.18 L317.69 335.44 L317.79 335.71 L317.90 335.99 L318.00 336.29 L318.11 336.59 L318.21 336.91 L318.31 337.24 L318.42 337.58 L318.52 337.93 L318.62 338.30 L318.73 338.68 L318.83 339.08 L318.93 339.49 L319.04 339.91 L319.14 340.35 L319.24 340.80 L319.35 341.27 L319.45 341.76 L319.55 342.26 L319.66 342.78 L319.76 343.31 L319.86 343.87 L319.97 344.44 L320.07 345.04 L320.17 345.65 L320.28 346.28 L320.38 346.94 L320.48 347.62 L320.59 348.33 L320.69 349.05 L320.79 349.81 L320.90 350.59 L321.00 351.40" stroke="#0000ff"/>
<path d="M81.60 140.00 L82.10 140.49 L82.60 140.99 L83.11 141.49 L83.61 141.99 L84.11 142.49 L84.61 143.00 L85.11 143.51 L85.62 144.02 L86.12 144.53 L86.62 145.05 L87.12 145.57 L87.62 146.09 L88.13 146.61 L88.63 147.14 L89.13 147.66 L89.63 148.19 L90.13 148.72 L90.64 149.26 L91.14 149.79 L91.64 150.33 L92.14 150.87 L92.64 151.42 L93.15 151.96 L93.65 152.51 L94.15 153.06 L94.65 153.61 L95.15 154.16 L95.66 154.71 L96.16 155.27 L96.66 155.83 L97.16 156.39 L97.66 156.95 L98.17 157.52 L98.67 158.09 L99.17 158.66 L99.67 159.23 L100.17 159.80 L100.68 160.38 L101.18 160.96 L101.68 161.55 L102.18 162.14 L102.68 162.73 L103.19 163.32 L103.69 163.92 L104.19 164.52 L104.69 165.12 L105.19 165.73 L105.70 166.34 L106.20 166.96 L106.70 167.58 L107.20 168.20 L107.70 168.83 L108.21 169.47 L108.71 170.12 L109.21 170.78 L109.71 171.44 L110.21 172.11 L110.72 172.78 L111.22 173.46 L111.72 174.14 L112.22 174.83 L112.72 175.52 L113.23 176.21 L113.73 176.90 L114.23 177.59 L114.73 178.28 L115.23 178.97 L115.74 179.66 L116.24 180.35 L116.74 181.03 L117.24 181.71 L117.74 182.38 L118.25 183.05 L118.75 183.71 L119.25 184.37 L119.75 185.01 L120.25 185.66 L120.76 186.29 L121.26 186.92 L121.76 187.55 L122.26 188.17 L122.76 188.79 L123.27 189.40 L123.77 190.02 L124.27 190.63 L124.77 191.24 L125.27 191.85 L125.78 192.47 L126.28 193.08 L126.78 193.70 L127.28 194.31 L127.79 194.94 L128.29 195.56 L128.79 196.19 L129.29 196.83 L129.79 197.47 L130.30 198.12 L130.80 198.78 L131.30 199.45 L131.80 200.12 L132.30 200.80 L132.81 201.50 L133.31 202.19 L133.81 202.90 L134.31 203.60 L134.81 204.32 L135.32 205.04 L135.82 205.77 L136.32 206.50 L136.82 207.25 L137.32 208.00 L137.83 208.75 L138.33 209.52 L138.83 210.29 L139.33 211.07 L139.83 211.85 L140.34 212.65 L140.84 213.45 L141.34 214.26 L141.84 215.08 L142.34 215.89 L142.85 216.70 L143.35 217.51 L143.85 218.32 L144.35 219.14 L144.85 219.96 L145.36 220.79 L145.86 221.63 L146.36 222.48 L146.86 223.35 L147.36 224.23 L147.87 225.12 L148.37 226.03 L148.87 226.96 L149.37 227.91 L149.87 228.89 L150.38 229.89 L150.88 230.91 L151.38 231.97 L151.88 233.05 L152.38 234.16 L152.89 235.31 L153.39 236.50 L153.89 237.72 L154.39 238.98 L154.89 240.29 L155.40 241.65 L155.90 243.05 L156.40 244.50 L156.90 246.00 L157.40 247.55 L157.91 249.16 L158.41 250.83 L158.91 252.55 L159.41 254.34 L159.91 256.37 L160.42 258.67 L160.92 261.07 L161.42 263.39 L161.92 265.47 L162.42 267.18 L162.93 268.86 L163.43 270.93 L163.93 273.60 L164.43 276.79 L164.93 280.50 L165.44 284.73 L165.94 289.48 L166.44 294.70 L166.94 300.74 L167.44 308.13 L167.95 317.38 L168.45 329.75 L168.95 352.00 M169.35 352.00 L169.85 326.70 L170.35 315.26 L170.85 306.35 L171.35 299.43 L171.85 294.14 L172.35 290.10 L172.85 287.15 L173.35 285.03 L173.85 282.83 L174.35 280.58 L174.85 278.33 L175.35 276.13 L175.85 274.02 L176.35 272.05 L176.86 270.27 L177.36 268.70 L177.86 267.39 L178.36 266.28 L178.86 265.27 L179.36 264.29 L179.86 263.26 L180.36 262.20 L180.86 261.14 L181.36 260.10 L181.86 259.09 L182.36 258.14 L182.86 257.27 L183.36 256.50 L183.86 255.81 L184.36 255.16 L184.86 254.52 L185.36 253.91 L185.86 253.31 L186.36 252.74 L186.86 252.19 L187.36 251.67 L187.86 251.17 L188.36 250.69 L188.86 250.24 L189.36 249.81 L189.86 249.40 L190.36 249.03 L190.87 248.67 L191.37 248.34 L191.87 248.04 L192.37 247.74 L192.87 247.46 L193.37 247.17 L193.87 246.90 L194.37 246.63 L194.87 246.37 L195.37 246.12 L195.87 245.88 L196.37 245.64 L196.87 245.41 L197.37 245.19 L197.87 244.98 L198.37 244.78 L198.87 244.58 L199.37 244.40 L199.87 244.22 L200.37 244.05 L200.87 243.90 L201.37 243.75 L201.87 243.61 L202.37 243.48 L202.87 243.36 L203.37 243.25 L203.87 243.14 L204.37 243.04 L204.88 242.95 L205.38 242.85 L205.88 242.75 L206.38 242.65 L206.88 242.56 L207.38 242.47 L207.88 242.38 L208.38 242.30 L208.88 242.22 L209.38 242.14 L209.88 242.06 L210.38 241.99 L210.88 241.93 L211.38 241.87 L211.88 241.81 L212.38 241.76 L212.88 241.72 L213.38 241.68 L213.88 241.65 L214.38 241.63 L214.88 241.61 L215.38 241.60 L215.88 241.60 L216.38 241.60 L216.88 241.60 L217.38 241.60 L217.88 241.61 L218.38 241.61 L218.89 241.61 L219.39 241.62 L219.89 241.63 L220.39 241.63 L220.89 241.64 L221.39 241.65 L221.89 241.66 L222.39 241.66 L222.89 241.67 L223.39 241.68 L223.89 241.69 L224.39 241.71 L224.89 241.72 L225.39 241.73 L225.89 241.74 L226.39 241.76 L226.89 241.77 L227.39 241.79 L227.89 241.80 L228.39 241.83 L228.89 241.87 L229.39 241.93 L229.89 241.99 L230.39 242.08 L230.89 242.17 L231.39 242.28 L231.89 242.39 L232.39 242.52 L232.90 242.66 L233.40 242.81 L233.90 242.96 L234.40 243.12 L234.90 243.29 L235.40 243.47 L235.90 243.65 L236.40 243.84 L236.90 244.03 L237.40 244.23 L237.90 244.42 L238.40 244.63 L238.90 244.83 L239.40 245.04 L239.90 245.24 L240.40 245.46 L240.90 245.69 L241.40 245.93 L241.90 246.19 L242.40 246.46 L242.90 246.75 L243.40 247.05 L243.90 247.36 L244.40 247.69 L244.90 248.04 L245.40 248.39 L245.90 248.76 L246.40 249.15 L246.90 249.55 L247.41 249.96 L247.91 250.39 L248.41 250.83 L248.91 251.29 L249.41 251.75 L249.91 252.24 L250.41 252.73 L250.91 253.25 L251.41 253.77 L251.91 254.31 L252.41 254.90 L252.91 255.59 L253.41 256.35 L253.91 257.17 L254.41 258.05 L254.91 258.96 L255.41 259.90 L255.91 260.85 L256.41 261.80 L256.91 262.73 L257.41 263.65 L257.91 264.52 L258.41 265.38 L258.91 266.24 L259.41 267.10 L259.91 267.96 L260.41 268.82 L260.91 269.68 L261.42 270.52 L261.92 271.36 L262.42 272.19 L262.92 273.02 L263.42 273.85 L263.92 274.68 L264.42 275.50 L264.92 276.30 L265.42 277.08 L265.92 277.84 L266.42 278.57 L266.92 279.27 L267.42 279.94 L267.92 280.60 L268.42 281.25 L268.92 281.90 L269.42 282.56 L269.92 283.27 L270.42 283.98 L270.92 284.69 L271.42 285.38 L271.92 286.01 L272.42 286.58 L272.92 287.06 L273.42 287.45 L273.92 287.84 L274.42 288.22 L274.92 288.59 L275.43 288.93 L275.93 289.25 L276.43 289.54 L276.93 289.78 L277.43 289.98 L277.93 290.12 L278.43 290.19 L278.93 290.19 L279.43 290.06 L279.93 289.82 L280.43 289.47 L280.93 289.05 L281.43 288.55 L281.93 288.01 L282.43 287.44 L282.93 286.85 L283.43 286.26 L283.93 285.70 L284.43 285.17 L284.93 284.62 L285.43 284.02 L285.93 283.37 L286.43 282.70 L286.93 282.01 L287.43 281.33 L287.93 280.66 L288.43 280.03 L288.93 279.44 L289.44 278.91 L289.94 278.45 L290.44 278.05 L290.94 277.63 L291.44 277.22 L291.94 276.81 L292.44 276.43 L292.94 276.07 L293.44 275.75 L293.94 275.47 L294.44 275.25 L294.94 275.10 L295.44 275.01 L295.94 275.02 L296.44 275.21 L296.94 275.57 L297.44 276.09 L297.94 276.73 L298.44 277.49 L298.94 278.34 L299.44 279.25 L299.94 280.21 L300.44 281.20 L300.94 282.20 L301.44 283.19 L301.94 284.27 L302.44 285.48 L302.94 286.82 L303.45 288.28 L303.95 289.85 L304.45 291.52 L304.95 293.28 L305.45 295.14 L305.95 297.09 L306.45 299.38 L306.95 301.99 L307.45 304.80 L307.95 307.70 L308.45 310.58 L308.95 313.32 L309.45 315.85 L309.95 318.42 L310.45 320.99 L310.95 323.50 L311.45 325.88 L311.95 328.04 L312.45 329.91 L312.95 331.60 L313.45 333.19 L313.95 333.99 L314.45 333.13 L314.95 330.54 L315.45 326.84 L315.95 322.65 L316.45 318.60 L316.95 315.32 L317.45 313.01 L317.96 310.82 L318.46 308.73 L318.96 306.74 L319.46 304.88 L319.96 303.18 L320.46 301.66 L320.96 300.34 L321.46 299.24 L321.96 298.36 L322.46 297.51 L322.96 296.71 L323.46 295.99 L323.96 295.41 L324.46 295.00 L324.96 294.81 L325.46 294.93 L325.96 295.48 L326.46 296.35 L326.96 297.43 L327.46 298.59 L327.96 299.72 L328.46 300.77 L328.96 301.81 L329.46 302.88 L329.96 304.02 L330.46 305.27 L330.96 306.65 L331.46 308.23 L331.97 310.02 L332.47 312.07 L332.97 314.43 L333.47 319.16 L333.97 326.09 L334.47 330.73 L334.97 329.85 L335.47 325.80 L335.97 321.07 L336.47 318.07 L336.97 317.10 L337.47 316.32 L337.97 315.69 L338.47 315.17 L338.97 314.74 L339.47 314.37 L339.97 314.02 L340.47 313.67 L340.97 313.31 L341.47 312.97 L341.97 312.67 L342.47 312.40 L342.97 312.19 L343.47 312.05 L343.97 312.00 L344.47 312.11 L344.97 312.43 L345.47 312.95 L345.98 313.61 L346.48 314.40 L346.98 315.27 L347.48 316.20 L347.98 317.15 L348.48 318.33 L348.98 319.83 L349.48 321.56 L349.98 323.47 L350.48 325.47 L350.98 327.51 L351.48 329.91 L351.98 333.02 L352.48 335.76 L352.98 337.00 L353.48 336.08 L353.98 333.89 L354.48 331.50 L354.98 330.02 L355.48 329.46 L355.98 328.98 L356.48 328.57 L356.98 328.27 L357.48 328.07 L357.98 328.00 L358.48 328.00 L358.98 328.00 L359.48 328.00 L359.99 328.00 L360.49 328.00 L360.99 328.00 L361.49 328.23 L361.99 328.87 L362.49 329.79 L362.99 330.87 L363.49 331.97 L363.99 332.98 L364.49 334.01 L364.99 335.21 L365.49 336.45 L365.99 337.58 L366.49 338.47 L366.99 338.99 L367.49 339.24 L367.99 339.44 L368.49 339.59 L368.99 339.72 L369.49 339.82 L369.99 339.92 L370.49 340.03 L370.99 340.15 L371.49 340.30 L371.99 340.50 L372.49 340.74 L372.99 341.04 L373.49 341.38 L374.00 341.77 L374.50 342.18 L375.00 342.62 L375.50 343.08 L376.00 343.55 L376.50 344.02 L377.00 344.50 L377.50 344.98 L378.00 345.49 L378.50 346.03 L379.00 346.58 L379.50 347.16 L380.00 347.76 L380.50 348.37 L381.00 349.00" stroke="#ff0000" stroke-dasharray="7.2 3.7"/>
<path d="M81.60 144.10 L82.10 144.42 L82.60 144.73 L83.10 145.05 L83.60 145.36 L84.10 145.68 L84.60 145.99 L85.10 146.31 L85.61 146.63 L86.11 146.94 L86.61 147.26 L87.11 147.57 L87.61 147.89 L88.11 148.20 L88.61 148.52 L89.11 148.83 L89.61 149.15 L90.11 149.46 L90.61 149.78 L91.11 150.09 L91.61 150.41 L92.11 150.72 L92.61 151.04 L93.12 151.35 L93.62 151.67 L94.12 151.98 L94.62 152.30 L95.12 152.61 L95.62 152.93 L96.12 153.24 L96.62 153.56 L97.12 153.87 L97.62 154.19 L98.12 154.51 L98.62 154.82 L99.12 155.14 L99.62 155.46 L100.12 155.77 L100.63 156.09 L101.13 156.41 L101.63 156.73 L102.13 157.04 L102.63 157.36 L103.13 157.68 L103.63 157.99 L104.13 158.31 L104.63 158.63 L105.13 158.94 L105.63 159.26 L106.13 159.58 L106.63 159.89 L107.13 160.21 L107.63 160.52 L108.14 160.83 L108.64 161.15 L109.14 161.46 L109.64 161.77 L110.14 162.09 L110.64 162.40 L111.14 162.71 L111.64 163.02 L112.14 163.33 L112.64 163.64 L113.14 163.94 L113.64 164.25 L114.14 164.56 L114.64 164.86 L115.14 165.17 L115.65 165.47 L116.15 165.77 L116.65 166.08 L117.15 166.38 L117.65 166.69 L118.15 166.99 L118.65 167.30 L119.15 167.60 L119.65 167.91 L120.15 168.21 L120.65 168.51 L121.15 168.82 L121.65 169.12 L122.15 169.43 L122.65 169.73 L123.16 170.03 L123.66 170.33 L124.16 170.63 L124.66 170.93 L125.16 171.23 L125.66 171.53 L126.16 171.83 L126.66 172.12 L127.16 172.42 L127.66 172.71 L128.16 173.00 L128.66 173.29 L129.16 173.58 L129.66 173.87 L130.16 174.16 L130.67 174.44 L131.17 174.73 L131.67 175.01 L132.17 175.29 L132.67 175.57 L133.17 175.85 L133.67 176.12 L134.17 176.39 L134.67 176.66 L135.17 176.93 L135.67 177.20 L136.17 177.46 L136.67 177.72 L137.17 177.98 L137.67 178.24 L138.18 178.50 L138.68 178.75 L139.18 179.01 L139.68 179.26 L140.18 179.51 L140.68 179.76 L141.18 180.01 L141.68 180.26 L142.18 180.50 L142.68 180.75 L143.18 180.99 L143.68 181.23 L144.18 181.47 L144.68 181.71 L145.18 181.95 L145.69 182.19 L146.19 182.43 L146.69 182.67 L147.19 182.91 L147.69 183.14 L148.19 183.38 L148.69 183.62 L149.19 183.85 L149.69 184.09 L150.19 184.33 L150.69 184.56 L151.19 184.80 L151.69 185.04 L152.19 185.27 L152.69 185.51 L153.20 185.75 L153.70 185.99 L154.20 186.22 L154.70 186.46 L155.20 186.70 L155.70 186.94 L156.20 187.18 L156.70 187.42 L157.20 187.67 L157.70 187.91 L158.20 188.15 L158.70 188.39 L159.20 188.63 L159.70 188.87 L160.20 189.11 L160.70 189.36 L161.21 189.60 L161.71 189.84 L162.21 190.08 L162.71 190.32 L163.21 190.56 L163.71 190.80 L164.21 191.04 L164.71 191.28 L165.21 191.52 L165.71 191.76 L166.21 192.00 L166.71 192.24 L167.21 192.47 L167.71 192.71 L168.21 192.95 L168.72 193.18 L169.22 193.42 L169.72 193.65 L170.22 193.89 L170.72 194.12 L171.22 194.35 L171.72 194.58 L172.22 194.81 L172.72 195.04 L173.22 195.27 L173.72 195.50 L174.22 195.73 L174.72 195.95 L175.22 196.18 L175.72 196.40 L176.23 196.62 L176.73 196.84 L177.23 197.06 L177.73 197.27 L178.23 197.48 L178.73 197.69 L179.23 197.90 L179.73 198.11 L180.23 198.32 L180.73 198.53 L181.23 198.74 L181.73 198.94 L182.23 199.15 L182.73 199.36 L183.23 199.57 L183.74 199.79 L184.24 200.00 L184.74 200.22 L185.24 200.44 L185.74 200.66 L186.24 200.88 L186.74 201.11 L187.24 201.34 L187.74 201.57 L188.24 201.81 L188.74 202.05 L189.24 202.29 L189.74 202.54 L190.24 202.78 L190.74 203.03 L191.25 203.27 L191.75 203.52 L192.25 203.77 L192.75 204.02 L193.25 204.26 L193.75 204.51 L194.25 204.75 L194.75 204.99 L195.25 205.23 L195.75 205.47 L196.25 205.71 L196.75 205.95 L197.25 206.18 L197.75 206.42 L198.25 206.65 L198.76 206.89 L199.26 207.12 L199.76 207.36 L200.26 207.59 L200.76 207.82 L201.26 208.05 L201.76 208.29 L202.26 208.52 L202.76 208.75 L203.26 208.98 L203.76 209.21 L204.26 209.44 L204.76 209.67 L205.26 209.90 L205.76 210.13 L206.27 210.36 L206.77 210.58 L207.27 210.80 L207.77 211.03 L208.27 211.25 L208.77 211.46 L209.27 211.68 L209.77 211.90 L210.27 212.13 L210.77 212.35 L211.27 212.57 L211.77 212.80 L212.27 213.03 L212.77 213.26 L213.27 213.50 L213.78 213.74 L214.28 213.98 L214.78 214.22 L215.28 214.47 L215.78 214.71 L216.28 214.96 L216.78 215.21 L217.28 215.46 L217.78 215.72 L218.28 215.97 L218.78 216.23 L219.28 216.49 L219.78 216.75 L220.28 217.01 L220.78 217.28 L221.29 217.54 L221.79 217.82 L222.29 218.09 L222.79 218.37 L223.29 218.65 L223.79 218.93 L224.29 219.22 L224.79 219.50 L225.29 219.80 L225.79 220.09 L226.29 220.39 L226.79 220.69 L227.29 220.99 L227.79 221.30 L228.29 221.60 L228.80 221.90 L229.30 222.21 L229.80 222.52 L230.30 222.83 L230.80 223.15 L231.30 223.46 L231.80 223.78 L232.30 224.11 L232.80 224.43 L233.30 224.76 L233.80 225.10 L234.30 225.44 L234.80 225.78 L235.30 226.13 L235.80 226.49 L236.31 226.84 L236.81 227.21 L237.31 227.58 L237.81 227.96 L238.31 228.34 L238.81 228.73 L239.31 229.12 L239.81 229.53 L240.31 229.94 L240.81 230.35 L241.31 230.78 L241.81 231.21 L242.31 231.66 L242.81 232.12 L243.31 232.60 L243.82 233.09 L244.32 233.60 L244.82 234.12 L245.32 234.65 L245.82 235.19 L246.32 235.75 L246.82 236.32 L247.32 236.89 L247.82 237.48 L248.32 238.07 L248.82 238.67 L249.32 239.28 L249.82 239.89 L250.32 240.51 L250.82 241.13 L251.33 241.75 L251.83 242.38 L252.33 243.01 L252.83 243.65 L253.33 244.28 L253.83 244.91 L254.33 245.55 L254.83 246.22 L255.33 246.91 L255.83 247.62 L256.33 248.33 L256.83 249.05 L257.33 249.76 L257.83 250.46 L258.33 251.14 L258.84 251.79 L259.34 252.43 L259.84 253.07 L260.34 253.71 L260.84 254.36 L261.34 254.99 L261.84 255.59 L262.34 256.18 L262.84 256.72 L263.34 257.22 L263.84 257.67 L264.34 258.07 L264.84 258.47 L265.34 258.86 L265.84 259.24 L266.35 259.61 L266.85 259.97 L267.35 260.32 L267.85 260.66 L268.35 260.98 L268.85 261.29 L269.35 261.58 L269.85 261.86 L270.35 262.11 L270.85 262.34 L271.35 262.55 L271.85 262.74 L272.35 262.90 L272.85 263.04 L273.35 263.15 L273.86 263.26 L274.36 263.35 L274.86 263.43 L275.36 263.50 L275.86 263.57 L276.36 263.63 L276.86 263.69 L277.36 263.74 L277.86 263.79 L278.36 263.84 L278.86 263.89 L279.36 263.93 L279.86 263.98 L280.36 264.03 L280.86 264.08 L281.37 264.14 L281.87 264.20 L282.37 264.26 L282.87 264.33 L283.37 264.41 L283.87 264.50 L284.37 264.59 L284.87 264.70 L285.37 264.81 L285.87 264.94 L286.37 265.07 L286.87 265.22 L287.37 265.38 L287.87 265.54 L288.37 265.72 L288.88 265.92 L289.38 266.12 L289.88 266.34 L290.38 266.57 L290.88 266.82 L291.38 267.08 L291.88 267.36 L292.38 267.65 L292.88 267.98 L293.38 268.38 L293.88 268.82 L294.38 269.32 L294.88 269.87 L295.38 270.47 L295.88 271.12 L296.39 271.81 L296.89 272.54 L297.39 273.30 L297.89 274.11 L298.39 274.95 L298.89 275.82 L299.39 276.78 L299.89 278.00 L300.39 279.36 L300.89 280.72 L301.39 282.03 L301.89 283.45 L302.39 284.91 L302.89 286.35 L303.39 287.70 L303.90 288.89 L304.40 289.85 L304.90 290.55 L305.40 291.18 L305.90 291.79 L306.40 292.36 L306.90 292.88 L307.40 293.33 L307.90 293.72 L308.40 294.02 L308.90 294.21 L309.40 294.30 L309.90 294.28 L310.40 294.19 L310.90 294.06 L311.40 293.87 L311.91 293.65 L312.41 293.41 L312.91 293.14 L313.41 292.87 L313.91 292.59 L314.41 292.32 L314.91 292.07 L315.41 291.85 L315.91 291.66 L316.41 291.52 L316.91 291.43 L317.41 291.39 L317.91 291.37 L318.41 291.34 L318.91 291.33 L319.42 291.31 L319.92 291.30 L320.42 291.30 L320.92 291.34 L321.42 291.46 L321.92 291.67 L322.42 291.93 L322.92 292.23 L323.42 292.55 L323.92 292.93 L324.42 293.46 L324.92 294.11 L325.42 294.86 L325.92 295.69 L326.42 296.57 L326.93 297.50 L327.43 298.45 L327.93 299.65 L328.43 301.12 L328.93 302.77 L329.43 304.51 L329.93 306.23 L330.43 307.84 L330.93 309.25 L331.43 310.37 L331.93 311.10 L332.43 311.41 L332.93 311.62 L333.43 311.82 L333.93 311.99 L334.44 312.14 L334.94 312.27 L335.44 312.37 L335.94 312.44 L336.44 312.49 L336.94 312.50 L337.44 312.45 L337.94 312.33 L338.44 312.14 L338.94 311.90 L339.44 311.62 L339.94 311.32 L340.44 311.00 L340.94 310.69 L341.44 310.39 L341.95 310.11 L342.45 309.87 L342.95 309.68 L343.45 309.55 L343.95 309.50 L344.45 309.60 L344.95 309.94 L345.45 310.47 L345.95 311.16 L346.45 311.97 L346.95 312.87 L347.45 313.83 L347.95 314.81 L348.45 316.23 L348.95 318.17 L349.46 320.34 L349.96 322.46 L350.46 324.22 L350.96 325.34 L351.46 325.79 L351.96 326.16 L352.46 326.47 L352.96 326.72 L353.46 326.90 L353.96 326.99 L354.46 326.99 L354.96 326.91 L355.46 326.76 L355.96 326.57 L356.46 326.33 L356.97 326.08 L357.47 325.81 L357.97 325.55 L358.47 325.31 L358.97 325.10 L359.47 324.93 L359.97 324.83 L360.47 324.80 L360.97 325.09 L361.47 325.75 L361.97 326.68 L362.47 327.78 L362.97 328.93 L363.47 330.04 L363.97 331.10 L364.48 332.41 L364.98 333.80 L365.48 334.98 L365.98 335.72 L366.48 335.97 L366.98 336.14 L367.48 336.28 L367.98 336.39 L368.48 336.47 L368.98 336.55 L369.48 336.62 L369.98 336.69 L370.48 336.79 L370.98 336.91 L371.48 337.06 L371.99 337.26 L372.49 337.53 L372.99 337.86 L373.49 338.23 L373.99 338.63 L374.49 339.07 L374.99 339.52 L375.49 339.97 L375.99 340.43 L376.49 340.87 L376.99 341.33 L377.49 341.81 L377.99 342.31 L378.49 342.83 L378.99 343.36 L379.50 343.89 L380.00 344.44 L380.50 345.00 L381.00 345.58 L381.50 346.16 L382.00 346.76 L382.50 347.37 L383.00 348.00" stroke="#ff0000" stroke-dasharray="3.2 3.7"/>
<path d="M81.60 124.30 L82.10 124.75 L82.60 125.21 L83.10 125.66 L83.60 126.11 L84.10 126.56 L84.61 127.00 L85.11 127.45 L85.61 127.89 L86.11 128.32 L86.61 128.75 L87.11 129.18 L87.61 129.60 L88.11 130.01 L88.61 130.42 L89.11 130.83 L89.61 131.23 L90.12 131.63 L90.62 132.03 L91.12 132.42 L91.62 132.81 L92.12 133.20 L92.62 133.59 L93.12 133.98 L93.62 134.36 L94.12 134.74 L94.62 135.12 L95.12 135.50 L95.63 135.88 L96.13 136.25 L96.63 136.62 L97.13 137.00 L97.63 137.37 L98.13 137.74 L98.63 138.11 L99.13 138.47 L99.63 138.84 L100.13 139.21 L100.64 139.58 L101.14 139.94 L101.64 140.31 L102.14 140.68 L102.64 141.04 L103.14 141.41 L103.64 141.77 L104.14 142.14 L104.64 142.51 L105.14 142.88 L105.64 143.25 L106.15 143.62 L106.65 143.99 L107.15 144.36 L107.65 144.73 L108.15 145.10 L108.65 145.47 L109.15 145.84 L109.65 146.21 L110.15 146.57 L110.65 146.94 L111.15 147.30 L111.66 147.67 L112.16 148.03 L112.66 148.40 L113.16 148.77 L113.66 149.14 L114.16 149.52 L114.66 149.89 L115.16 150.27 L115.66 150.65 L116.16 151.03 L116.66 151.42 L117.17 151.80 L117.67 152.19 L118.17 152.58 L118.67 152.97 L119.17 153.36 L119.67 153.75 L120.17 154.14 L120.67 154.53 L121.17 154.93 L121.67 155.32 L122.17 155.72 L122.68 156.11 L123.18 156.51 L123.68 156.91 L124.18 157.30 L124.68 157.70 L125.18 158.10 L125.68 158.50 L126.18 158.90 L126.68 159.30 L127.18 159.70 L127.69 160.11 L128.19 160.51 L128.69 160.91 L129.19 161.31 L129.69 161.71 L130.19 162.11 L130.69 162.51 L131.19 162.92 L131.69 163.32 L132.19 163.72 L132.69 164.12 L133.20 164.52 L133.70 164.92 L134.20 165.32 L134.70 165.72 L135.20 166.12 L135.70 166.52 L136.20 166.92 L136.70 167.32 L137.20 167.72 L137.70 168.12 L138.20 168.52 L138.71 168.93 L139.21 169.33 L139.71 169.73 L140.21 170.14 L140.71 170.54 L141.21 170.95 L141.71 171.35 L142.21 171.76 L142.71 172.16 L143.21 172.57 L143.71 172.97 L144.22 173.38 L144.72 173.78 L145.22 174.19 L145.72 174.59 L146.22 175.00 L146.72 175.40 L147.22 175.81 L147.72 176.21 L148.22 176.61 L148.72 177.01 L149.22 177.42 L149.73 177.82 L150.23 178.22 L150.73 178.62 L151.23 179.02 L151.73 179.41 L152.23 179.81 L152.73 180.21 L153.23 180.60 L153.73 181.00 L154.23 181.39 L154.74 181.78 L155.24 182.17 L155.74 182.56 L156.24 182.95 L156.74 183.34 L157.24 183.73 L157.74 184.12 L158.24 184.51 L158.74 184.89 L159.24 185.28 L159.74 185.67 L160.25 186.05 L160.75 186.44 L161.25 186.83 L161.75 187.21 L162.25 187.60 L162.75 187.98 L163.25 188.36 L163.75 188.75 L164.25 189.13 L164.75 189.51 L165.25 189.89 L165.76 190.27 L166.26 190.65 L166.76 191.03 L167.26 191.41 L167.76 191.79 L168.26 192.16 L168.76 192.54 L169.26 192.91 L169.76 193.29 L170.26 193.66 L170.76 194.03 L171.27 194.40 L171.77 194.77 L172.27 195.14 L172.77 195.51 L173.27 195.88 L173.77 196.24 L174.27 196.61 L174.77 196.97 L175.27 197.34 L175.77 197.70 L176.27 198.06 L176.78 198.42 L177.28 198.77 L177.78 199.13 L178.28 199.48 L178.78 199.83 L179.28 200.18 L179.78 200.53 L180.28 200.88 L180.78 201.22 L181.28 201.57 L181.79 201.91 L182.29 202.26 L182.79 202.60 L183.29 202.94 L183.79 203.28 L184.29 203.62 L184.79 203.96 L185.29 204.30 L185.79 204.64 L186.29 204.98 L186.79 205.32 L187.30 205.66 L187.80 206.00 L188.30 206.34 L188.80 206.69 L189.30 207.03 L189.80 207.37 L190.30 207.71 L190.80 208.06 L191.30 208.40 L191.80 208.74 L192.30 209.09 L192.81 209.44 L193.31 209.79 L193.81 210.14 L194.31 210.49 L194.81 210.84 L195.31 211.19 L195.81 211.55 L196.31 211.90 L196.81 212.26 L197.31 212.61 L197.81 212.96 L198.32 213.31 L198.82 213.65 L199.32 214.00 L199.82 214.35 L200.32 214.69 L200.82 215.04 L201.32 215.39 L201.82 215.73 L202.32 216.08 L202.82 216.43 L203.32 216.77 L203.83 217.12 L204.33 217.47 L204.83 217.82 L205.33 218.17 L205.83 218.53 L206.33 218.88 L206.83 219.24 L207.33 219.60 L207.83 219.96 L208.33 220.33 L208.84 220.70 L209.34 221.07 L209.84 221.44 L210.34 221.82 L210.84 222.20 L211.34 222.58 L211.84 222.97 L212.34 223.36 L212.84 223.75 L213.34 224.15 L213.84 224.56 L214.35 224.97 L214.85 225.38 L215.35 225.80 L215.85 226.23 L216.35 226.66 L216.85 227.09 L217.35 227.53 L217.85 227.97 L218.35 228.42 L218.85 228.87 L219.35 229.33 L219.86 229.80 L220.36 230.26 L220.86 230.74 L221.36 231.21 L221.86 231.69 L222.36 232.18 L222.86 232.67 L223.36 233.17 L223.86 233.67 L224.36 234.17 L224.86 234.68 L225.37 235.19 L225.87 235.71 L226.37 236.24 L226.87 236.76 L227.37 237.30 L227.87 237.83 L228.37 238.37 L228.87 238.92 L229.37 239.47 L229.87 240.03 L230.37 240.58 L230.88 241.15 L231.38 241.72 L231.88 242.29 L232.38 242.87 L232.88 243.47 L233.38 244.08 L233.88 244.69 L234.38 245.32 L234.88 245.96 L235.38 246.61 L235.89 247.26 L236.39 247.93 L236.89 248.59 L237.39 249.27 L237.89 249.94 L238.39 250.63 L238.89 251.31 L239.39 252.00 L239.89 252.68 L240.39 253.37 L240.89 254.06 L241.40 254.75 L241.90 255.43 L242.40 256.13 L242.90 256.83 L243.40 257.55 L243.90 258.27 L244.40 259.01 L244.90 259.74 L245.40 260.48 L245.90 261.21 L246.40 261.95 L246.91 262.68 L247.41 263.40 L247.91 264.11 L248.41 264.81 L248.91 265.49 L249.41 266.16 L249.91 266.81 L250.41 267.46 L250.91 268.09 L251.41 268.71 L251.91 269.31 L252.42 269.88 L252.92 270.42 L253.42 270.92 L253.92 271.42 L254.42 271.91 L254.92 272.39 L255.42 272.85 L255.92 273.29 L256.42 273.69 L256.92 274.07 L257.42 274.41 L257.93 274.71 L258.43 275.00 L258.93 275.28 L259.43 275.56 L259.93 275.83 L260.43 276.09 L260.93 276.34 L261.43 276.56 L261.93 276.75 L262.43 276.92 L262.94 277.05 L263.44 277.15 L263.94 277.20 L264.44 277.22 L264.94 277.24 L265.44 277.26 L265.94 277.27 L266.44 277.28 L266.94 277.29 L267.44 277.30 L267.94 277.30 L268.45 277.28 L268.95 277.20 L269.45 277.08 L269.95 276.94 L270.45 276.78 L270.95 276.62 L271.45 276.47 L271.95 276.34 L272.45 276.25 L272.95 276.20 L273.45 276.20 L273.96 276.21 L274.46 276.21 L274.96 276.22 L275.46 276.24 L275.96 276.26 L276.46 276.28 L276.96 276.30 L277.46 276.34 L277.96 276.44 L278.46 276.59 L278.96 276.77 L279.47 277.00 L279.97 277.25 L280.47 277.54 L280.97 277.85 L281.47 278.17 L281.97 278.51 L282.47 278.88 L282.97 279.34 L283.47 279.87 L283.97 280.49 L284.47 281.19 L284.98 281.96 L285.48 282.80 L285.98 283.70 L286.48 284.67 L286.98 285.70 L287.48 286.78 L287.98 287.93 L288.48 289.30 L288.98 290.91 L289.48 292.73 L289.99 294.72 L290.49 296.87 L290.99 299.15 L291.49 301.52 L291.99 303.96 L292.49 306.44 L292.99 308.96 L293.49 311.55 L293.99 314.29 L294.49 317.22 L294.99 320.40 L295.50 323.90 L296.00 327.77 L296.50 332.07 L297.00 337.04 L297.50 344.03 L298.00 352.00 M303.30 351.40 L303.49 348.65 L303.69 346.08 L303.88 343.68 L304.08 341.42 L304.27 339.29 L304.47 337.28 L304.66 335.37 L304.86 333.57 L305.05 331.86 L305.25 330.23 L305.44 328.68 L305.64 327.20 L305.83 325.79 L306.03 324.44 L306.22 323.15 L306.42 321.92 L306.61 320.74 L306.81 319.61 L307.00 318.53 L307.20 317.50 L307.39 316.51 L307.59 315.56 L307.78 314.65 L307.98 313.78 L308.17 312.94 L308.37 312.14 L308.56 311.37 L308.76 310.64 L308.95 309.94 L309.15 309.27 L309.34 308.62 L309.54 308.01 L309.73 307.43 L309.93 306.87 L310.12 306.34 L310.32 305.83 L310.51 305.35 L310.71 304.89 L310.90 304.46 L311.10 304.06 L311.29 303.67 L311.49 303.31 L311.68 302.97 L311.88 302.65 L312.07 302.36 L312.27 302.09 L312.46 301.83 L312.66 301.60 L312.85 301.39 L313.05 301.20 L313.24 301.03 L313.44 300.88 L313.63 300.76 L313.83 300.65 L314.02 300.56 L314.22 300.49 L314.41 300.44 L314.61 300.41 L314.80 300.40 L314.97 300.41 L315.15 300.44 L315.32 300.49 L315.49 300.56 L315.66 300.65 L315.84 300.76 L316.01 300.88 L316.18 301.03 L316.36 301.20 L316.53 301.39 L316.70 301.60 L316.87 301.83 L317.05 302.09 L317.22 302.36 L317.39 302.65 L317.57 302.97 L317.74 303.31 L317.91 303.67 L318.08 304.06 L318.26 304.46 L318.43 304.89 L318.60 305.35 L318.78 305.83 L318.95 306.34 L319.12 306.87 L319.29 307.43 L319.47 308.01 L319.64 308.62 L319.81 309.27 L319.99 309.94 L320.16 310.64 L320.33 311.37 L320.51 312.14 L320.68 312.94 L320.85 313.78 L321.02 314.65 L321.20 315.56 L321.37 316.51 L321.54 317.50 L321.72 318.53 L321.89 319.61 L322.06 320.74 L322.23 321.92 L322.41 323.15 L322.58 324.44 L322.75 325.79 L322.93 327.20 L323.10 328.68 L323.27 330.23 L323.44 331.86 L323.62 333.57 L323.79 335.37 L323.96 337.28 L324.14 339.29 L324.31 341.42 L324.48 343.68 L324.65 346.08 L324.83 348.65 L325.00 351.40 M333.00 351.40 L333.11 349.73 L333.21 348.14 L333.32 346.63 L333.42 345.19 L333.53 343.82 L333.63 342.51 L333.74 341.26 L333.84 340.06 L333.95 338.91 L334.05 337.82 L334.16 336.76 L334.26 335.75 L334.37 334.78 L334.47 333.85 L334.58 332.96 L334.68 332.10 L334.79 331.27 L334.89 330.47 L335.00 329.71 L335.10 328.98 L335.21 328.27 L335.31 327.59 L335.42 326.94 L335.52 326.31 L335.63 325.71 L335.73 325.13 L335.84 324.58 L335.94 324.04 L336.05 323.53 L336.15 323.04 L336.26 322.57 L336.36 322.13 L336.47 321.70 L336.57 321.29 L336.68 320.90 L336.78 320.53 L336.89 320.17 L336.99 319.84 L337.10 319.52 L337.20 319.22 L337.31 318.93 L337.41 318.66 L337.52 318.41 L337.62 318.18 L337.73 317.96 L337.83 317.75 L337.94 317.57 L338.04 317.40 L338.15 317.24 L338.25 317.10 L338.36 316.97 L338.46 316.86 L338.57 316.76 L338.67 316.68 L338.78 316.62 L338.88 316.57 L338.99 316.53 L339.09 316.51 L339.20 316.50 L339.29 316.51 L339.38 316.53 L339.47 316.57 L339.56 316.62 L339.65 316.68 L339.74 316.76 L339.83 316.86 L339.92 316.97 L340.01 317.10 L340.10 317.24 L340.19 317.40 L340.28 317.57 L340.37 317.75 L340.46 317.96 L340.55 318.18 L340.64 318.41 L340.73 318.66 L340.82 318.93 L340.91 319.22 L341.00 319.52 L341.09 319.84 L341.18 320.17 L341.27 320.53 L341.36 320.90 L341.45 321.29 L341.54 321.70 L341.63 322.13 L341.72 322.57 L341.81 323.04 L341.89 323.53 L341.98 324.04 L342.07 324.58 L342.16 325.13 L342.25 325.71 L342.34 326.31 L342.43 326.94 L342.52 327.59 L342.61 328.27 L342.70 328.98 L342.79 329.71 L342.88 330.47 L342.97 331.27 L343.06 332.10 L343.15 332.96 L343.24 333.85 L343.33 334.78 L343.42 335.75 L343.51 336.76 L343.60 337.82 L343.69 338.91 L343.78 340.06 L343.87 341.26 L343.96 342.51 L344.05 343.82 L344.14 345.19 L344.23 346.63 L344.32 348.14 L344.41 349.73 L344.50 351.40 M351.30 351.40 L351.36 350.68 L351.43 349.99 L351.49 349.32 L351.55 348.67 L351.61 348.03 L351.68 347.42 L351.74 346.83 L351.80 346.26 L351.86 345.70 L351.93 345.16 L351.99 344.64 L352.05 344.13 L352.12 343.64 L352.18 343.17 L352.24 342.70 L352.30 342.26 L352.37 341.83 L352.43 341.41 L352.49 341.00 L352.55 340.61 L352.62 340.23 L352.68 339.87 L352.74 339.51 L352.81 339.17 L352.87 338.84 L352.93 338.52 L352.99 338.21 L353.06 337.92 L353.12 337.63 L353.18 337.36 L353.24 337.09 L353.31 336.84 L353.37 336.60 L353.43 336.37 L353.49 336.14 L353.56 335.93 L353.62 335.73 L353.68 335.54 L353.75 335.35 L353.81 335.18 L353.87 335.02 L353.93 334.86 L354.00 334.72 L354.06 334.58 L354.12 334.45 L354.18 334.33 L354.25 334.22 L354.31 334.12 L354.37 334.03 L354.44 333.95 L354.50 333.88 L354.56 333.81 L354.62 333.76 L354.69 333.71 L354.75 333.67 L354.81 333.64 L354.87 333.62 L354.94 333.60 L355.00 333.60 L355.05 333.60 L355.10 333.62 L355.15 333.64 L355.20 333.67 L355.25 333.71 L355.31 333.76 L355.36 333.81 L355.41 333.88 L355.46 333.95 L355.51 334.03 L355.56 334.12 L355.61 334.22 L355.66 334.33 L355.71 334.45 L355.76 334.58 L355.81 334.72 L355.86 334.86 L355.92 335.02 L355.97 335.18 L356.02 335.35 L356.07 335.54 L356.12 335.73 L356.17 335.93 L356.22 336.14 L356.27 336.37 L356.32 336.60 L356.37 336.84 L356.42 337.09 L356.47 337.36 L356.53 337.63 L356.58 337.92 L356.63 338.21 L356.68 338.52 L356.73 338.84 L356.78 339.17 L356.83 339.51 L356.88 339.87 L356.93 340.23 L356.98 340.61 L357.03 341.00 L357.08 341.41 L357.14 341.83 L357.19 342.26 L357.24 342.70 L357.29 343.17 L357.34 343.64 L357.39 344.13 L357.44 344.64 L357.49 345.16 L357.54 345.70 L357.59 346.26 L357.64 346.83 L357.69 347.42 L357.75 348.03 L357.80 348.67 L357.85 349.32 L357.90 349.99 L357.95 350.68 L358.00 351.40" stroke="#ff0000"/>
</g>
<rect x="80.7" y="18.0" width="409.3" height="327.4" fill="none" stroke="#000" stroke-width="1.55"/><g stroke="#000" stroke-width="1.35" fill="none"><path d="M87.02 345.4 v-2.2 M87.02 18.0 v2.2"/>
<path d="M104.26 345.4 v-2.2 M104.26 18.0 v2.2"/>
<path d="M117.64 345.4 v-2.2 M117.64 18.0 v2.2"/>
<path d="M128.57 345.4 v-2.2 M128.57 18.0 v2.2"/>
<path d="M137.82 345.4 v-2.2 M137.82 18.0 v2.2"/>
<path d="M145.82 345.4 v-2.2 M145.82 18.0 v2.2"/>
<path d="M152.88 345.4 v-2.2 M152.88 18.0 v2.2"/>
<path d="M159.20 345.4 v-4.2 M159.20 18.0 v4.2"/>
<path d="M200.76 345.4 v-2.2 M200.76 18.0 v2.2"/>
<path d="M225.07 345.4 v-2.2 M225.07 18.0 v2.2"/>
<path d="M242.31 345.4 v-2.2 M242.31 18.0 v2.2"/>
<path d="M255.69 345.4 v-2.2 M255.69 18.0 v2.2"/>
<path d="M266.62 345.4 v-2.2 M266.62 18.0 v2.2"/>
<path d="M275.87 345.4 v-2.2 M275.87 18.0 v2.2"/>
<path d="M283.87 345.4 v-2.2 M283.87 18.0 v2.2"/>
<path d="M290.93 345.4 v-2.2 M290.93 18.0 v2.2"/>
<path d="M297.25 345.4 v-4.2 M297.25 18.0 v4.2"/>
<path d="M338.81 345.4 v-2.2 M338.81 18.0 v2.2"/>
<path d="M363.12 345.4 v-2.2 M363.12 18.0 v2.2"/>
<path d="M380.36 345.4 v-2.2 M380.36 18.0 v2.2"/>
<path d="M393.74 345.4 v-2.2 M393.74 18.0 v2.2"/>
<path d="M404.67 345.4 v-2.2 M404.67 18.0 v2.2"/>
<path d="M413.92 345.4 v-2.2 M413.92 18.0 v2.2"/>
<path d="M421.92 345.4 v-2.2 M421.92 18.0 v2.2"/>
<path d="M428.98 345.4 v-2.2 M428.98 18.0 v2.2"/>
<path d="M435.30 345.4 v-4.2 M435.30 18.0 v4.2"/>
<path d="M476.86 345.4 v-2.2 M476.86 18.0 v2.2"/>
<path d="M80.7 344.05 h2.2 M490.0 344.05 h-2.2"/>
<path d="M80.7 340.86 h2.2 M490.0 340.86 h-2.2"/>
<path d="M80.7 338.00 h4.2 M490.0 338.00 h-4.2"/>
<path d="M80.7 319.22 h2.2 M490.0 319.22 h-2.2"/>
<path d="M80.7 308.23 h2.2 M490.0 308.23 h-2.2"/>
<path d="M80.7 300.43 h2.2 M490.0 300.43 h-2.2"/>
<path d="M80.7 294.38 h2.2 M490.0 294.38 h-2.2"/>
<path d="M80.7 289.44 h2.2 M490.0 289.44 h-2.2"/>
<path d="M80.7 285.27 h2.2 M490.0 285.27 h-2.2"/>
<path d="M80.7 281.65 h2.2 M490.0 281.65 h-2.2"/>
<path d="M80.7 278.46 h2.2 M490.0 278.46 h-2.2"/>
<path d="M80.7 275.60 h4.2 M490.0 275.60 h-4.2"/>
<path d="M80.7 256.82 h2.2 M490.0 256.82 h-2.2"/>
<path d="M80.7 245.83 h2.2 M490.0 245.83 h-2.2"/>
<path d="M80.7 238.03 h2.2 M490.0 238.03 h-2.2"/>
<path d="M80.7 231.98 h2.2 M490.0 231.98 h-2.2"/>
<path d="M80.7 227.04 h2.2 M490.0 227.04 h-2.2"/>
<path d="M80.7 222.87 h2.2 M490.0 222.87 h-2.2"/>
<path d="M80.7 219.25 h2.2 M490.0 219.25 h-2.2"/>
<path d="M80.7 216.06 h2.2 M490.0 216.06 h-2.2"/>
<path d="M80.7 213.20 h4.2 M490.0 213.20 h-4.2"/>
<path d="M80.7 194.42 h2.2 M490.0 194.42 h-2.2"/>
<path d="M80.7 183.43 h2.2 M490.0 183.43 h-2.2"/>
<path d="M80.7 175.63 h2.2 M490.0 175.63 h-2.2"/>
<path d="M80.7 169.58 h2.2 M490.0 169.58 h-2.2"/>
<path d="M80.7 164.64 h2.2 M490.0 164.64 h-2.2"/>
<path d="M80.7 160.47 h2.2 M490.0 160.47 h-2.2"/>
<path d="M80.7 156.85 h2.2 M490.0 156.85 h-2.2"/>
<path d="M80.7 153.66 h2.2 M490.0 153.66 h-2.2"/>
<path d="M80.7 150.80 h4.2 M490.0 150.80 h-4.2"/>
<path d="M80.7 132.02 h2.2 M490.0 132.02 h-2.2"/>
<path d="M80.7 121.03 h2.2 M490.0 121.03 h-2.2"/>
<path d="M80.7 113.23 h2.2 M490.0 113.23 h-2.2"/>
<path d="M80.7 107.18 h2.2 M490.0 107.18 h-2.2"/>
<path d="M80.7 102.24 h2.2 M490.0 102.24 h-2.2"/>
<path d="M80.7 98.07 h2.2 M490.0 98.07 h-2.2"/>
<path d="M80.7 94.45 h2.2 M490.0 94.45 h-2.2"/>
<path d="M80.7 91.26 h2.2 M490.0 91.26 h-2.2"/>
<path d="M80.7 88.40 h4.2 M490.0 88.40 h-4.2"/>
<path d="M80.7 69.62 h2.2 M490.0 69.62 h-2.2"/>
<path d="M80.7 58.63 h2.2 M490.0 58.63 h-2.2"/>
<path d="M80.7 50.83 h2.2 M490.0 50.83 h-2.2"/>
<path d="M80.7 44.78 h2.2 M490.0 44.78 h-2.2"/>
<path d="M80.7 39.84 h2.2 M490.0 39.84 h-2.2"/>
<path d="M80.7 35.67 h2.2 M490.0 35.67 h-2.2"/>
<path d="M80.7 32.05 h2.2 M490.0 32.05 h-2.2"/>
<path d="M80.7 28.86 h2.2 M490.0 28.86 h-2.2"/>
<path d="M80.7 26.00 h4.2 M490.0 26.00 h-4.2"/></g>
<text x="66.22" y="32.90" font-size="16.8">1</text>
<text x="41.72" y="95.30" font-size="16.8" letter-spacing="-0.551">10</text>
<text x="61.69" y="88.20" font-size="12.3" letter-spacing="-1.217">−1</text>
<text x="41.72" y="157.70" font-size="16.8" letter-spacing="-0.551">10</text>
<text x="61.69" y="150.60" font-size="12.3" letter-spacing="-1.198">−2</text>
<text x="41.72" y="220.10" font-size="16.8" letter-spacing="-0.551">10</text>
<text x="61.69" y="213.00" font-size="12.3" letter-spacing="-1.277">−3</text>
<text x="41.72" y="282.50" font-size="16.8" letter-spacing="-0.551">10</text>
<text x="61.69" y="275.40" font-size="12.3" letter-spacing="-1.457">−4</text>
<text x="41.72" y="344.90" font-size="16.8" letter-spacing="-0.551">10</text>
<text x="61.69" y="337.80" font-size="12.3" letter-spacing="-1.301">−5</text>
<text x="142.02" y="367.60" font-size="16.8" letter-spacing="-0.251">10</text>
<text x="162.79" y="360.60" font-size="12.3" letter-spacing="-0.498">−2</text>
<text x="280.07" y="367.60" font-size="16.8" letter-spacing="-0.251">10</text>
<text x="300.84" y="360.60" font-size="12.3" letter-spacing="-0.517">−1</text>
<text x="431.42" y="367.60" font-size="16.8">1</text>
<text x="243.52" y="397.80" font-size="16.8" font-style="italic">k</text>
<text x="258.20" y="397.80" font-size="16.8">[</text>
<text x="263.42" y="397.80" font-size="16.8" font-style="italic">h</text>
<text x="273.39" y="392.80" font-size="12.3" letter-spacing="0.183">−1</text>
<text x="287.52" y="397.80" font-size="16.8" letter-spacing="1.223">Mpc]</text>
<g transform="translate(25.3 244.7) rotate(-90)">
<text x="-0.32" y="0.00" font-size="16.8" font-style="italic">P</text>
<text x="10.64" y="5.80" font-size="17.5" font-style="italic" class="ser">ℓ</text>
<text x="19.56" y="0.00" font-size="16.8" letter-spacing="-0.129">(k,d)</text>
<text x="60.50" y="0.00" font-size="16.8">/</text>
<text x="70.68" y="0.00" font-size="16.8" font-style="italic">P</text>
<text x="84.71" y="-7.90" font-size="9.2" letter-spacing="0.846">pp</text>
<text x="98.44" y="5.80" font-size="17.5" font-style="italic" class="ser">ℓ</text>
<text x="106.36" y="0.00" font-size="16.8" letter-spacing="0.297">(k)</text>
</g>
<text x="137.96" y="51.60" font-size="16.8" font-style="italic">z</text>
<text x="150.78" y="51.60" font-size="16.8">=</text>
<text x="165.42" y="51.60" font-size="16.8" letter-spacing="-0.159">1.0</text>
<path d="M342.0 58.3 H370.0" stroke="#000" stroke-width="1.4"/>
<path d="M342.0 85.5 H370.0" stroke="#000" stroke-width="1.6" stroke-dasharray="2.3 4.75"/>
<path d="M342.0 112.4 H370.0" stroke="#000" stroke-width="1.4" stroke-dasharray="6.6 4.1"/>
<text x="379.03" y="59.30" font-size="16.8" letter-spacing="0.715">Wide</text>
<text x="424.39" y="59.30" font-size="16.8" letter-spacing="0.814">angle</text>
<text x="379.53" y="86.80" font-size="16.8" font-style="italic">α</text>
<text x="395.57" y="86.80" font-size="16.8">−</text>
<text x="411.75" y="86.80" font-size="16.8" letter-spacing="0.540">terms</text>
<text x="378.85" y="113.80" font-size="16.8" letter-spacing="0.431">total</text>
</g>
</svg>
</body></html>
